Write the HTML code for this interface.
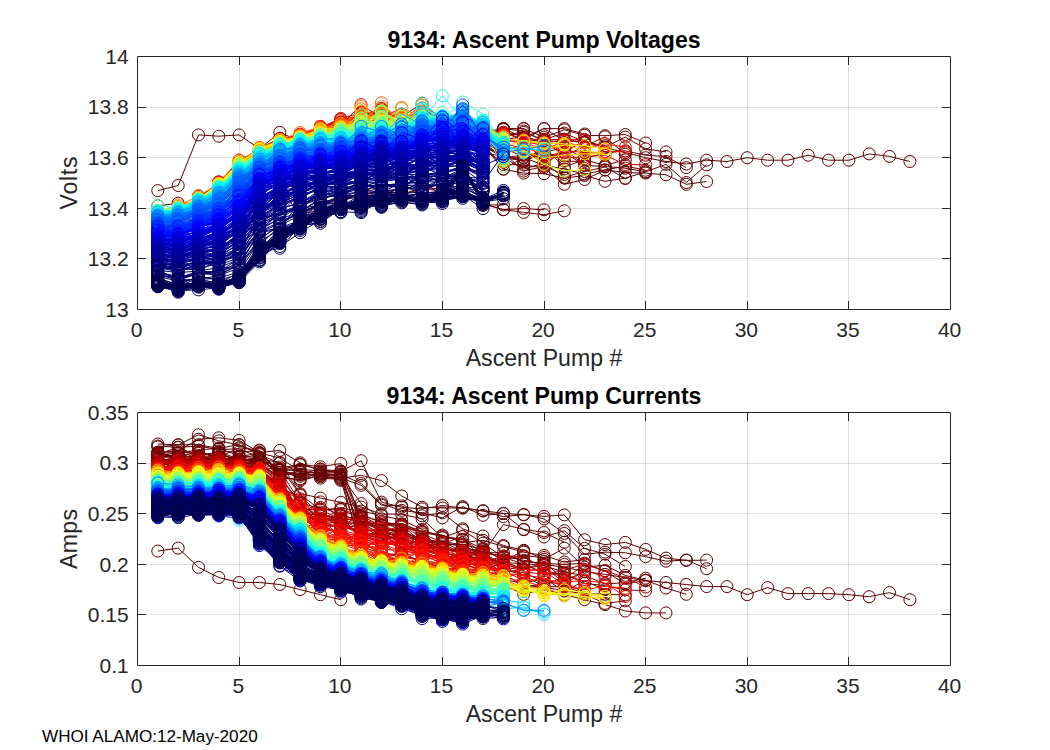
<!DOCTYPE html>
<html><head><meta charset="utf-8"><title>9134 Ascent Pump</title>
<style>
html,body{margin:0;padding:0;background:#fff}
svg{display:block}
text{font-family:"Liberation Sans",sans-serif}
.tk{font-size:21px;fill:#262626}
.lb{font-size:23.1px;fill:#262626}
.tt{font-size:23.1px;font-weight:bold;fill:#000}
.g{stroke:#262626;stroke-opacity:.15;stroke-width:1;fill:none}
.ax{stroke:#262626;stroke-width:1;fill:none}
polyline{fill:none;stroke-width:1;stroke-linejoin:round}
.c0{stroke:#570000;marker-start:url(#m0);marker-mid:url(#m0);marker-end:url(#m0)}
.c1{stroke:#680000;marker-start:url(#m1);marker-mid:url(#m1);marker-end:url(#m1)}
.c2{stroke:#7a0000;marker-start:url(#m2);marker-mid:url(#m2);marker-end:url(#m2)}
.c3{stroke:#8b0000;marker-start:url(#m3);marker-mid:url(#m3);marker-end:url(#m3)}
.c4{stroke:#9d0000;marker-start:url(#m4);marker-mid:url(#m4);marker-end:url(#m4)}
.c5{stroke:#af0000;marker-start:url(#m5);marker-mid:url(#m5);marker-end:url(#m5)}
.c6{stroke:#c00000;marker-start:url(#m6);marker-mid:url(#m6);marker-end:url(#m6)}
.c7{stroke:#d20000;marker-start:url(#m7);marker-mid:url(#m7);marker-end:url(#m7)}
.c8{stroke:#e30000;marker-start:url(#m8);marker-mid:url(#m8);marker-end:url(#m8)}
.c9{stroke:#f50000;marker-start:url(#m9);marker-mid:url(#m9);marker-end:url(#m9)}
.c10{stroke:#ff0700;marker-start:url(#m10);marker-mid:url(#m10);marker-end:url(#m10)}
.c11{stroke:#ff1900;marker-start:url(#m11);marker-mid:url(#m11);marker-end:url(#m11)}
.c12{stroke:#ff2b00;marker-start:url(#m12);marker-mid:url(#m12);marker-end:url(#m12)}
.c13{stroke:#ff3c00;marker-start:url(#m13);marker-mid:url(#m13);marker-end:url(#m13)}
.c14{stroke:#ff4e00;marker-start:url(#m14);marker-mid:url(#m14);marker-end:url(#m14)}
.c15{stroke:#ff5f00;marker-start:url(#m15);marker-mid:url(#m15);marker-end:url(#m15)}
.c16{stroke:#ff7100;marker-start:url(#m16);marker-mid:url(#m16);marker-end:url(#m16)}
.c17{stroke:#ff8200;marker-start:url(#m17);marker-mid:url(#m17);marker-end:url(#m17)}
.c18{stroke:#ff9400;marker-start:url(#m18);marker-mid:url(#m18);marker-end:url(#m18)}
.c19{stroke:#ffa500;marker-start:url(#m19);marker-mid:url(#m19);marker-end:url(#m19)}
.c20{stroke:#ffb700;marker-start:url(#m20);marker-mid:url(#m20);marker-end:url(#m20)}
.c21{stroke:#ffc900;marker-start:url(#m21);marker-mid:url(#m21);marker-end:url(#m21)}
.c22{stroke:#ffda00;marker-start:url(#m22);marker-mid:url(#m22);marker-end:url(#m22)}
.c23{stroke:#ffec00;marker-start:url(#m23);marker-mid:url(#m23);marker-end:url(#m23)}
.c24{stroke:#fffd00;marker-start:url(#m24);marker-mid:url(#m24);marker-end:url(#m24)}
.c25{stroke:#efff10;marker-start:url(#m25);marker-mid:url(#m25);marker-end:url(#m25)}
.c26{stroke:#deff21;marker-start:url(#m26);marker-mid:url(#m26);marker-end:url(#m26)}
.c27{stroke:#ccff33;marker-start:url(#m27);marker-mid:url(#m27);marker-end:url(#m27)}
.c28{stroke:#baff45;marker-start:url(#m28);marker-mid:url(#m28);marker-end:url(#m28)}
.c29{stroke:#a9ff56;marker-start:url(#m29);marker-mid:url(#m29);marker-end:url(#m29)}
.c30{stroke:#97ff68;marker-start:url(#m30);marker-mid:url(#m30);marker-end:url(#m30)}
.c31{stroke:#86ff79;marker-start:url(#m31);marker-mid:url(#m31);marker-end:url(#m31)}
.c32{stroke:#74ff8b;marker-start:url(#m32);marker-mid:url(#m32);marker-end:url(#m32)}
.c33{stroke:#63ff9c;marker-start:url(#m33);marker-mid:url(#m33);marker-end:url(#m33)}
.c34{stroke:#51ffae;marker-start:url(#m34);marker-mid:url(#m34);marker-end:url(#m34)}
.c35{stroke:#3fffc0;marker-start:url(#m35);marker-mid:url(#m35);marker-end:url(#m35)}
.c36{stroke:#2effd1;marker-start:url(#m36);marker-mid:url(#m36);marker-end:url(#m36)}
.c37{stroke:#1cffe3;marker-start:url(#m37);marker-mid:url(#m37);marker-end:url(#m37)}
.c38{stroke:#0bfff4;marker-start:url(#m38);marker-mid:url(#m38);marker-end:url(#m38)}
.c39{stroke:#00f8ff;marker-start:url(#m39);marker-mid:url(#m39);marker-end:url(#m39)}
.c40{stroke:#00e7ff;marker-start:url(#m40);marker-mid:url(#m40);marker-end:url(#m40)}
.c41{stroke:#00d5ff;marker-start:url(#m41);marker-mid:url(#m41);marker-end:url(#m41)}
.c42{stroke:#00c4ff;marker-start:url(#m42);marker-mid:url(#m42);marker-end:url(#m42)}
.c43{stroke:#00b2ff;marker-start:url(#m43);marker-mid:url(#m43);marker-end:url(#m43)}
.c44{stroke:#00a0ff;marker-start:url(#m44);marker-mid:url(#m44);marker-end:url(#m44)}
.c45{stroke:#008fff;marker-start:url(#m45);marker-mid:url(#m45);marker-end:url(#m45)}
.c46{stroke:#007dff;marker-start:url(#m46);marker-mid:url(#m46);marker-end:url(#m46)}
.c47{stroke:#006cff;marker-start:url(#m47);marker-mid:url(#m47);marker-end:url(#m47)}
.c48{stroke:#005aff;marker-start:url(#m48);marker-mid:url(#m48);marker-end:url(#m48)}
.c49{stroke:#0049ff;marker-start:url(#m49);marker-mid:url(#m49);marker-end:url(#m49)}
.c50{stroke:#0037ff;marker-start:url(#m50);marker-mid:url(#m50);marker-end:url(#m50)}
.c51{stroke:#0025ff;marker-start:url(#m51);marker-mid:url(#m51);marker-end:url(#m51)}
.c52{stroke:#0014ff;marker-start:url(#m52);marker-mid:url(#m52);marker-end:url(#m52)}
.c53{stroke:#0002ff;marker-start:url(#m53);marker-mid:url(#m53);marker-end:url(#m53)}
.c54{stroke:#0000f0;marker-start:url(#m54);marker-mid:url(#m54);marker-end:url(#m54)}
.c55{stroke:#0000de;marker-start:url(#m55);marker-mid:url(#m55);marker-end:url(#m55)}
.c56{stroke:#0000cd;marker-start:url(#m56);marker-mid:url(#m56);marker-end:url(#m56)}
.c57{stroke:#0000bb;marker-start:url(#m57);marker-mid:url(#m57);marker-end:url(#m57)}
.c58{stroke:#0000a9;marker-start:url(#m58);marker-mid:url(#m58);marker-end:url(#m58)}
.c59{stroke:#000098;marker-start:url(#m59);marker-mid:url(#m59);marker-end:url(#m59)}
.c60{stroke:#000086;marker-start:url(#m60);marker-mid:url(#m60);marker-end:url(#m60)}
.c61{stroke:#000075;marker-start:url(#m61);marker-mid:url(#m61);marker-end:url(#m61)}
.c62{stroke:#000063;marker-start:url(#m62);marker-mid:url(#m62);marker-end:url(#m62)}
.c63{stroke:#000052;marker-start:url(#m63);marker-mid:url(#m63);marker-end:url(#m63)}
</style></head><body>
<svg width="1050" height="750" viewBox="0 0 1050 750">
<defs>
<marker id="m0" markerUnits="userSpaceOnUse" markerWidth="16" markerHeight="16" refX="8" refY="8" overflow="visible"><circle cx="8" cy="8" r="6" fill="none" stroke="#570000" stroke-width="1"/></marker>
<marker id="m1" markerUnits="userSpaceOnUse" markerWidth="16" markerHeight="16" refX="8" refY="8" overflow="visible"><circle cx="8" cy="8" r="6" fill="none" stroke="#680000" stroke-width="1"/></marker>
<marker id="m2" markerUnits="userSpaceOnUse" markerWidth="16" markerHeight="16" refX="8" refY="8" overflow="visible"><circle cx="8" cy="8" r="6" fill="none" stroke="#7a0000" stroke-width="1"/></marker>
<marker id="m3" markerUnits="userSpaceOnUse" markerWidth="16" markerHeight="16" refX="8" refY="8" overflow="visible"><circle cx="8" cy="8" r="6" fill="none" stroke="#8b0000" stroke-width="1"/></marker>
<marker id="m4" markerUnits="userSpaceOnUse" markerWidth="16" markerHeight="16" refX="8" refY="8" overflow="visible"><circle cx="8" cy="8" r="6" fill="none" stroke="#9d0000" stroke-width="1"/></marker>
<marker id="m5" markerUnits="userSpaceOnUse" markerWidth="16" markerHeight="16" refX="8" refY="8" overflow="visible"><circle cx="8" cy="8" r="6" fill="none" stroke="#af0000" stroke-width="1"/></marker>
<marker id="m6" markerUnits="userSpaceOnUse" markerWidth="16" markerHeight="16" refX="8" refY="8" overflow="visible"><circle cx="8" cy="8" r="6" fill="none" stroke="#c00000" stroke-width="1"/></marker>
<marker id="m7" markerUnits="userSpaceOnUse" markerWidth="16" markerHeight="16" refX="8" refY="8" overflow="visible"><circle cx="8" cy="8" r="6" fill="none" stroke="#d20000" stroke-width="1"/></marker>
<marker id="m8" markerUnits="userSpaceOnUse" markerWidth="16" markerHeight="16" refX="8" refY="8" overflow="visible"><circle cx="8" cy="8" r="6" fill="none" stroke="#e30000" stroke-width="1"/></marker>
<marker id="m9" markerUnits="userSpaceOnUse" markerWidth="16" markerHeight="16" refX="8" refY="8" overflow="visible"><circle cx="8" cy="8" r="6" fill="none" stroke="#f50000" stroke-width="1"/></marker>
<marker id="m10" markerUnits="userSpaceOnUse" markerWidth="16" markerHeight="16" refX="8" refY="8" overflow="visible"><circle cx="8" cy="8" r="6" fill="none" stroke="#ff0700" stroke-width="1"/></marker>
<marker id="m11" markerUnits="userSpaceOnUse" markerWidth="16" markerHeight="16" refX="8" refY="8" overflow="visible"><circle cx="8" cy="8" r="6" fill="none" stroke="#ff1900" stroke-width="1"/></marker>
<marker id="m12" markerUnits="userSpaceOnUse" markerWidth="16" markerHeight="16" refX="8" refY="8" overflow="visible"><circle cx="8" cy="8" r="6" fill="none" stroke="#ff2b00" stroke-width="1"/></marker>
<marker id="m13" markerUnits="userSpaceOnUse" markerWidth="16" markerHeight="16" refX="8" refY="8" overflow="visible"><circle cx="8" cy="8" r="6" fill="none" stroke="#ff3c00" stroke-width="1"/></marker>
<marker id="m14" markerUnits="userSpaceOnUse" markerWidth="16" markerHeight="16" refX="8" refY="8" overflow="visible"><circle cx="8" cy="8" r="6" fill="none" stroke="#ff4e00" stroke-width="1"/></marker>
<marker id="m15" markerUnits="userSpaceOnUse" markerWidth="16" markerHeight="16" refX="8" refY="8" overflow="visible"><circle cx="8" cy="8" r="6" fill="none" stroke="#ff5f00" stroke-width="1"/></marker>
<marker id="m16" markerUnits="userSpaceOnUse" markerWidth="16" markerHeight="16" refX="8" refY="8" overflow="visible"><circle cx="8" cy="8" r="6" fill="none" stroke="#ff7100" stroke-width="1"/></marker>
<marker id="m17" markerUnits="userSpaceOnUse" markerWidth="16" markerHeight="16" refX="8" refY="8" overflow="visible"><circle cx="8" cy="8" r="6" fill="none" stroke="#ff8200" stroke-width="1"/></marker>
<marker id="m18" markerUnits="userSpaceOnUse" markerWidth="16" markerHeight="16" refX="8" refY="8" overflow="visible"><circle cx="8" cy="8" r="6" fill="none" stroke="#ff9400" stroke-width="1"/></marker>
<marker id="m19" markerUnits="userSpaceOnUse" markerWidth="16" markerHeight="16" refX="8" refY="8" overflow="visible"><circle cx="8" cy="8" r="6" fill="none" stroke="#ffa500" stroke-width="1"/></marker>
<marker id="m20" markerUnits="userSpaceOnUse" markerWidth="16" markerHeight="16" refX="8" refY="8" overflow="visible"><circle cx="8" cy="8" r="6" fill="none" stroke="#ffb700" stroke-width="1"/></marker>
<marker id="m21" markerUnits="userSpaceOnUse" markerWidth="16" markerHeight="16" refX="8" refY="8" overflow="visible"><circle cx="8" cy="8" r="6" fill="none" stroke="#ffc900" stroke-width="1"/></marker>
<marker id="m22" markerUnits="userSpaceOnUse" markerWidth="16" markerHeight="16" refX="8" refY="8" overflow="visible"><circle cx="8" cy="8" r="6" fill="none" stroke="#ffda00" stroke-width="1"/></marker>
<marker id="m23" markerUnits="userSpaceOnUse" markerWidth="16" markerHeight="16" refX="8" refY="8" overflow="visible"><circle cx="8" cy="8" r="6" fill="none" stroke="#ffec00" stroke-width="1"/></marker>
<marker id="m24" markerUnits="userSpaceOnUse" markerWidth="16" markerHeight="16" refX="8" refY="8" overflow="visible"><circle cx="8" cy="8" r="6" fill="none" stroke="#fffd00" stroke-width="1"/></marker>
<marker id="m25" markerUnits="userSpaceOnUse" markerWidth="16" markerHeight="16" refX="8" refY="8" overflow="visible"><circle cx="8" cy="8" r="6" fill="none" stroke="#efff10" stroke-width="1"/></marker>
<marker id="m26" markerUnits="userSpaceOnUse" markerWidth="16" markerHeight="16" refX="8" refY="8" overflow="visible"><circle cx="8" cy="8" r="6" fill="none" stroke="#deff21" stroke-width="1"/></marker>
<marker id="m27" markerUnits="userSpaceOnUse" markerWidth="16" markerHeight="16" refX="8" refY="8" overflow="visible"><circle cx="8" cy="8" r="6" fill="none" stroke="#ccff33" stroke-width="1"/></marker>
<marker id="m28" markerUnits="userSpaceOnUse" markerWidth="16" markerHeight="16" refX="8" refY="8" overflow="visible"><circle cx="8" cy="8" r="6" fill="none" stroke="#baff45" stroke-width="1"/></marker>
<marker id="m29" markerUnits="userSpaceOnUse" markerWidth="16" markerHeight="16" refX="8" refY="8" overflow="visible"><circle cx="8" cy="8" r="6" fill="none" stroke="#a9ff56" stroke-width="1"/></marker>
<marker id="m30" markerUnits="userSpaceOnUse" markerWidth="16" markerHeight="16" refX="8" refY="8" overflow="visible"><circle cx="8" cy="8" r="6" fill="none" stroke="#97ff68" stroke-width="1"/></marker>
<marker id="m31" markerUnits="userSpaceOnUse" markerWidth="16" markerHeight="16" refX="8" refY="8" overflow="visible"><circle cx="8" cy="8" r="6" fill="none" stroke="#86ff79" stroke-width="1"/></marker>
<marker id="m32" markerUnits="userSpaceOnUse" markerWidth="16" markerHeight="16" refX="8" refY="8" overflow="visible"><circle cx="8" cy="8" r="6" fill="none" stroke="#74ff8b" stroke-width="1"/></marker>
<marker id="m33" markerUnits="userSpaceOnUse" markerWidth="16" markerHeight="16" refX="8" refY="8" overflow="visible"><circle cx="8" cy="8" r="6" fill="none" stroke="#63ff9c" stroke-width="1"/></marker>
<marker id="m34" markerUnits="userSpaceOnUse" markerWidth="16" markerHeight="16" refX="8" refY="8" overflow="visible"><circle cx="8" cy="8" r="6" fill="none" stroke="#51ffae" stroke-width="1"/></marker>
<marker id="m35" markerUnits="userSpaceOnUse" markerWidth="16" markerHeight="16" refX="8" refY="8" overflow="visible"><circle cx="8" cy="8" r="6" fill="none" stroke="#3fffc0" stroke-width="1"/></marker>
<marker id="m36" markerUnits="userSpaceOnUse" markerWidth="16" markerHeight="16" refX="8" refY="8" overflow="visible"><circle cx="8" cy="8" r="6" fill="none" stroke="#2effd1" stroke-width="1"/></marker>
<marker id="m37" markerUnits="userSpaceOnUse" markerWidth="16" markerHeight="16" refX="8" refY="8" overflow="visible"><circle cx="8" cy="8" r="6" fill="none" stroke="#1cffe3" stroke-width="1"/></marker>
<marker id="m38" markerUnits="userSpaceOnUse" markerWidth="16" markerHeight="16" refX="8" refY="8" overflow="visible"><circle cx="8" cy="8" r="6" fill="none" stroke="#0bfff4" stroke-width="1"/></marker>
<marker id="m39" markerUnits="userSpaceOnUse" markerWidth="16" markerHeight="16" refX="8" refY="8" overflow="visible"><circle cx="8" cy="8" r="6" fill="none" stroke="#00f8ff" stroke-width="1"/></marker>
<marker id="m40" markerUnits="userSpaceOnUse" markerWidth="16" markerHeight="16" refX="8" refY="8" overflow="visible"><circle cx="8" cy="8" r="6" fill="none" stroke="#00e7ff" stroke-width="1"/></marker>
<marker id="m41" markerUnits="userSpaceOnUse" markerWidth="16" markerHeight="16" refX="8" refY="8" overflow="visible"><circle cx="8" cy="8" r="6" fill="none" stroke="#00d5ff" stroke-width="1"/></marker>
<marker id="m42" markerUnits="userSpaceOnUse" markerWidth="16" markerHeight="16" refX="8" refY="8" overflow="visible"><circle cx="8" cy="8" r="6" fill="none" stroke="#00c4ff" stroke-width="1"/></marker>
<marker id="m43" markerUnits="userSpaceOnUse" markerWidth="16" markerHeight="16" refX="8" refY="8" overflow="visible"><circle cx="8" cy="8" r="6" fill="none" stroke="#00b2ff" stroke-width="1"/></marker>
<marker id="m44" markerUnits="userSpaceOnUse" markerWidth="16" markerHeight="16" refX="8" refY="8" overflow="visible"><circle cx="8" cy="8" r="6" fill="none" stroke="#00a0ff" stroke-width="1"/></marker>
<marker id="m45" markerUnits="userSpaceOnUse" markerWidth="16" markerHeight="16" refX="8" refY="8" overflow="visible"><circle cx="8" cy="8" r="6" fill="none" stroke="#008fff" stroke-width="1"/></marker>
<marker id="m46" markerUnits="userSpaceOnUse" markerWidth="16" markerHeight="16" refX="8" refY="8" overflow="visible"><circle cx="8" cy="8" r="6" fill="none" stroke="#007dff" stroke-width="1"/></marker>
<marker id="m47" markerUnits="userSpaceOnUse" markerWidth="16" markerHeight="16" refX="8" refY="8" overflow="visible"><circle cx="8" cy="8" r="6" fill="none" stroke="#006cff" stroke-width="1"/></marker>
<marker id="m48" markerUnits="userSpaceOnUse" markerWidth="16" markerHeight="16" refX="8" refY="8" overflow="visible"><circle cx="8" cy="8" r="6" fill="none" stroke="#005aff" stroke-width="1"/></marker>
<marker id="m49" markerUnits="userSpaceOnUse" markerWidth="16" markerHeight="16" refX="8" refY="8" overflow="visible"><circle cx="8" cy="8" r="6" fill="none" stroke="#0049ff" stroke-width="1"/></marker>
<marker id="m50" markerUnits="userSpaceOnUse" markerWidth="16" markerHeight="16" refX="8" refY="8" overflow="visible"><circle cx="8" cy="8" r="6" fill="none" stroke="#0037ff" stroke-width="1"/></marker>
<marker id="m51" markerUnits="userSpaceOnUse" markerWidth="16" markerHeight="16" refX="8" refY="8" overflow="visible"><circle cx="8" cy="8" r="6" fill="none" stroke="#0025ff" stroke-width="1"/></marker>
<marker id="m52" markerUnits="userSpaceOnUse" markerWidth="16" markerHeight="16" refX="8" refY="8" overflow="visible"><circle cx="8" cy="8" r="6" fill="none" stroke="#0014ff" stroke-width="1"/></marker>
<marker id="m53" markerUnits="userSpaceOnUse" markerWidth="16" markerHeight="16" refX="8" refY="8" overflow="visible"><circle cx="8" cy="8" r="6" fill="none" stroke="#0002ff" stroke-width="1"/></marker>
<marker id="m54" markerUnits="userSpaceOnUse" markerWidth="16" markerHeight="16" refX="8" refY="8" overflow="visible"><circle cx="8" cy="8" r="6" fill="none" stroke="#0000f0" stroke-width="1"/></marker>
<marker id="m55" markerUnits="userSpaceOnUse" markerWidth="16" markerHeight="16" refX="8" refY="8" overflow="visible"><circle cx="8" cy="8" r="6" fill="none" stroke="#0000de" stroke-width="1"/></marker>
<marker id="m56" markerUnits="userSpaceOnUse" markerWidth="16" markerHeight="16" refX="8" refY="8" overflow="visible"><circle cx="8" cy="8" r="6" fill="none" stroke="#0000cd" stroke-width="1"/></marker>
<marker id="m57" markerUnits="userSpaceOnUse" markerWidth="16" markerHeight="16" refX="8" refY="8" overflow="visible"><circle cx="8" cy="8" r="6" fill="none" stroke="#0000bb" stroke-width="1"/></marker>
<marker id="m58" markerUnits="userSpaceOnUse" markerWidth="16" markerHeight="16" refX="8" refY="8" overflow="visible"><circle cx="8" cy="8" r="6" fill="none" stroke="#0000a9" stroke-width="1"/></marker>
<marker id="m59" markerUnits="userSpaceOnUse" markerWidth="16" markerHeight="16" refX="8" refY="8" overflow="visible"><circle cx="8" cy="8" r="6" fill="none" stroke="#000098" stroke-width="1"/></marker>
<marker id="m60" markerUnits="userSpaceOnUse" markerWidth="16" markerHeight="16" refX="8" refY="8" overflow="visible"><circle cx="8" cy="8" r="6" fill="none" stroke="#000086" stroke-width="1"/></marker>
<marker id="m61" markerUnits="userSpaceOnUse" markerWidth="16" markerHeight="16" refX="8" refY="8" overflow="visible"><circle cx="8" cy="8" r="6" fill="none" stroke="#000075" stroke-width="1"/></marker>
<marker id="m62" markerUnits="userSpaceOnUse" markerWidth="16" markerHeight="16" refX="8" refY="8" overflow="visible"><circle cx="8" cy="8" r="6" fill="none" stroke="#000063" stroke-width="1"/></marker>
<marker id="m63" markerUnits="userSpaceOnUse" markerWidth="16" markerHeight="16" refX="8" refY="8" overflow="visible"><circle cx="8" cy="8" r="6" fill="none" stroke="#000052" stroke-width="1"/></marker>
<clipPath id="cp1"><rect x="130.5" y="49.5" width="827" height="267"/></clipPath>
<clipPath id="cp2"><rect x="130.5" y="405.5" width="827" height="267"/></clipPath>
</defs>
<rect x="0" y="0" width="1050" height="750" fill="#fff"/>
<path class="g" d="M239.50 56.50V309.50M340.50 56.50V309.50M442.50 56.50V309.50M544.50 56.50V309.50M645.50 56.50V309.50M747.50 56.50V309.50M848.50 56.50V309.50"/>
<path class="g" d="M137.50 258.50H950.50M137.50 208.50H950.50M137.50 157.50H950.50M137.50 107.50H950.50"/>
<path class="g" d="M239.50 412.50V665.50M340.50 412.50V665.50M442.50 412.50V665.50M544.50 412.50V665.50M645.50 412.50V665.50M747.50 412.50V665.50M848.50 412.50V665.50"/>
<path class="g" d="M137.50 614.50H950.50M137.50 564.50H950.50M137.50 513.50H950.50M137.50 463.50H950.50"/>
<g clip-path="url(#cp1)">
<polyline class="c0" points="157.8,190.6 178.2,185.5 198.5,134.9 218.8,136.2 239.1,134.9 259.4,148.8 279.8,132.4 300.1,141.3 320.4,134.9 340.8,132.4 361.1,127.3 381.4,129.9 401.7,132.4 422.1,127.3 442.4,132.4 462.7,134.9 483.0,142.5 503.4,134.9 523.7,132.4 544.0,140.0 564.3,142.5 584.6,140.0 605.0,147.6 625.3,152.6 645.6,157.7 666.0,161.5 686.3,164.0 706.6,160.2 726.9,161.5 747.2,157.7 767.6,160.2 787.9,160.2 808.2,155.2 828.5,160.2 848.9,160.2 869.2,153.9 889.5,156.4 909.9,161.5"/>
<polyline class="c0" points="157.8,205.8 178.2,203.2 198.5,205.8 218.8,200.7 239.1,190.6 259.4,177.9 279.8,183.0 300.1,218.4 320.4,221.0 340.8,208.3"/>
<polyline class="c0" points="157.8,237.2 178.2,226.4 198.5,215.9 218.8,200.5 239.1,176.1 259.4,163.5 279.8,154.3 300.1,149.9 320.4,141.7 340.8,135.9 361.1,136.3 381.4,130.8 401.7,131.4 422.1,133.2 442.4,149.8 462.7,143.9 483.0,144.1 503.4,147.3 523.7,157.4 544.0,156.1 564.3,152.5 584.6,165.4 605.0,166.5 625.3,168.2 645.6,171.8 666.0,164.3 686.3,182.5 706.6,164.9"/>
<polyline class="c0" points="157.8,237.9 178.2,231.2 198.5,215.9 218.8,199.1 239.1,179.7 259.4,171.5 279.8,156.1 300.1,157.6 320.4,145.5 340.8,139.4 361.1,130.4 381.4,134.0 401.7,133.1 422.1,139.3 442.4,137.1 462.7,141.8 483.0,143.5 503.4,168.9 523.7,157.6 544.0,165.3 564.3,169.0 584.6,174.2 605.0,169.8 625.3,172.6 645.6,173.1 666.0,174.8 686.3,184.3 706.6,181.5"/>
<polyline class="c0" points="157.8,229.1 178.2,224.6 198.5,218.3 218.8,197.3 239.1,176.8 259.4,164.9 279.8,158.2 300.1,147.9 320.4,142.1 340.8,135.4 361.1,132.8 381.4,132.4 401.7,132.1 422.1,135.2 442.4,138.0 462.7,136.1 483.0,143.4 503.4,157.7 523.7,160.8 544.0,147.3 564.3,166.7 584.6,159.9 605.0,165.4 625.3,159.8"/>
<polyline class="c0" points="157.8,235.5 178.2,228.0 198.5,218.6 218.8,201.9 239.1,181.5 259.4,172.7 279.8,161.2 300.1,152.7 320.4,144.9 340.8,143.7 361.1,134.0 381.4,130.0 401.7,135.1 422.1,136.3 442.4,140.1 462.7,138.0 483.0,145.6 503.4,169.2 523.7,173.1 544.0,173.7 564.3,178.1 584.6,175.5 605.0,181.3 625.3,178.1 645.6,171.9"/>
<polyline class="c1" points="157.8,230.8 178.2,229.8 198.5,216.1 218.8,196.0 239.1,180.7 259.4,164.1 279.8,156.6 300.1,153.3 320.4,144.3 340.8,137.5 361.1,140.7 381.4,133.6 401.7,131.3 422.1,132.6 442.4,136.2 462.7,140.8 483.0,142.3 503.4,152.8 523.7,171.1 544.0,166.4 564.3,174.5"/>
<polyline class="c1" points="157.8,224.4 178.2,218.7 198.5,211.0 218.8,194.0 239.1,171.2 259.4,159.8 279.8,153.3 300.1,151.5 320.4,143.8 340.8,134.8 361.1,122.1 381.4,124.6 401.7,126.0 422.1,125.7 442.4,126.8 462.7,128.5 483.0,136.5 503.4,129.6 523.7,141.7 544.0,139.5 564.3,133.1 584.6,142.0 605.0,147.2 625.3,137.1 645.6,148.9 666.0,151.9"/>
<polyline class="c1" points="157.8,222.6 178.2,221.4 198.5,207.7 218.8,191.7 239.1,173.0 259.4,152.3 279.8,146.1 300.1,213.1 320.4,211.3 340.8,201.7 361.1,192.6 381.4,187.9 401.7,194.8 422.1,188.9 442.4,190.9 462.7,193.4 483.0,204.9 503.4,205.0"/>
<polyline class="c1" points="157.8,230.0 178.2,222.1 198.5,213.5 218.8,194.9 239.1,172.9 259.4,162.1 279.8,152.9 300.1,148.6 320.4,144.6 340.8,131.1 361.1,128.6 381.4,125.8 401.7,135.2 422.1,125.9 442.4,130.9 462.7,130.0 483.0,143.6 503.4,128.8 523.7,131.0 544.0,141.1 564.3,155.9 584.6,146.4 605.0,136.8 625.3,154.3"/>
<polyline class="c1" points="157.8,229.5 178.2,229.6 198.5,215.9 218.8,194.7 239.1,186.2 259.4,165.3 279.8,152.9 300.1,150.1 320.4,147.0 340.8,140.2 361.1,126.8 381.4,126.6 401.7,132.0 422.1,129.5 442.4,132.9 462.7,136.7 483.0,142.3 503.4,157.7 523.7,157.9 544.0,151.2 564.3,161.2 584.6,161.4"/>
<polyline class="c1" points="157.8,219.8 178.2,222.9 198.5,211.0 218.8,193.3 239.1,169.3 259.4,160.3 279.8,144.5 300.1,214.4 320.4,205.7 340.8,198.7 361.1,195.0 381.4,190.4 401.7,197.0 422.1,193.1 442.4,192.1 462.7,189.3 483.0,203.4 503.4,209.7 523.7,208.6 544.0,209.8"/>
<polyline class="c1" points="157.8,225.9 178.2,228.9 198.5,217.6 218.8,195.1 239.1,176.6 259.4,160.1 279.8,151.0 300.1,145.4 320.4,139.4 340.8,132.7 361.1,137.8 381.4,123.7 401.7,127.8 422.1,129.3 442.4,133.5 462.7,136.1 483.0,147.2 503.4,154.1 523.7,161.6 544.0,152.4 564.3,147.5 584.6,158.3 605.0,153.1 625.3,150.9 645.6,155.2 666.0,156.5 686.3,167.6"/>
<polyline class="c1" points="157.8,228.9 178.2,224.1 198.5,214.4 218.8,192.7 239.1,179.0 259.4,170.4 279.8,155.6 300.1,147.8 320.4,138.4 340.8,132.9 361.1,126.7 381.4,133.9 401.7,127.0 422.1,129.2 442.4,132.8 462.7,133.7 483.0,138.2 503.4,139.2 523.7,137.1 544.0,163.8 564.3,150.2 584.6,142.2"/>
<polyline class="c1" points="157.8,242.9 178.2,233.5 198.5,223.0 218.8,201.5 239.1,181.3 259.4,174.7 279.8,160.5 300.1,155.9 320.4,144.6 340.8,145.9 361.1,135.8 381.4,133.2 401.7,135.5 422.1,132.9 442.4,138.0 462.7,142.6 483.0,146.5 503.4,164.5 523.7,164.9 544.0,167.8 564.3,184.3 584.6,179.5 605.0,170.1 625.3,166.0 645.6,170.2"/>
<polyline class="c1" points="157.8,233.1 178.2,231.9 198.5,221.6 218.8,207.2 239.1,183.9 259.4,171.0 279.8,157.4 300.1,159.8 320.4,144.3 340.8,139.5 361.1,131.5 381.4,138.0 401.7,135.0 422.1,134.6 442.4,136.2 462.7,137.5 483.0,145.9 503.4,157.5 523.7,169.1 544.0,163.2 564.3,177.3 584.6,171.6 605.0,167.0 625.3,178.5"/>
<polyline class="c1" points="157.8,225.3 178.2,226.1 198.5,209.2 218.8,194.3 239.1,173.4 259.4,158.9 279.8,157.0 300.1,148.8 320.4,136.2 340.8,132.0 361.1,123.0 381.4,122.5 401.7,124.7 422.1,124.3 442.4,128.3 462.7,131.8 483.0,135.6 503.4,132.2 523.7,140.0 544.0,128.6 564.3,140.5 584.6,142.0 605.0,145.7"/>
<polyline class="c1" points="157.8,224.3 178.2,222.3 198.5,209.3 218.8,187.2 239.1,165.0 259.4,158.1 279.8,144.3 300.1,211.6 320.4,204.8 340.8,198.2 361.1,196.1 381.4,190.9 401.7,194.4 422.1,187.6 442.4,189.1 462.7,195.0 483.0,204.0 503.4,209.6 523.7,212.4 544.0,214.7 564.3,210.8"/>
<polyline class="c1" points="157.8,219.0 178.2,219.9 198.5,209.9 218.8,186.4 239.1,171.6 259.4,154.1 279.8,149.4 300.1,143.1 320.4,131.9 340.8,125.2 361.1,121.2 381.4,118.2 401.7,122.3 422.1,125.4 442.4,128.8 462.7,128.1 483.0,132.3 503.4,128.6 523.7,137.5 544.0,128.6 564.3,128.6 584.6,134.0"/>
<polyline class="c1" points="157.8,233.9 178.2,229.6 198.5,215.1 218.8,205.1 239.1,180.8 259.4,170.6 279.8,161.0 300.1,150.7 320.4,143.7 340.8,137.8 361.1,141.3 381.4,130.2 401.7,133.2 422.1,135.5 442.4,135.2 462.7,136.8 483.0,152.5 503.4,156.4 523.7,160.4"/>
<polyline class="c1" points="157.8,226.0 178.2,218.9 198.5,208.7 218.8,194.5 239.1,170.6 259.4,159.7 279.8,148.1 300.1,145.3 320.4,143.6 340.8,135.0 361.1,123.7 381.4,133.2 401.7,127.4 422.1,127.4 442.4,126.0 462.7,130.7 483.0,134.7 503.4,128.6 523.7,128.6"/>
<polyline class="c1" points="157.8,223.4 178.2,216.3 198.5,207.3 218.8,188.4 239.1,178.9 259.4,160.2 279.8,148.1 300.1,140.3 320.4,135.5 340.8,133.1 361.1,119.7 381.4,121.8 401.7,123.6 422.1,122.1 442.4,125.4 462.7,125.6 483.0,134.9 503.4,128.6 523.7,128.6 544.0,137.3 564.3,129.8 584.6,135.3 605.0,135.7 625.3,134.5 645.6,143.0"/>
<polyline class="c3" points="157.8,222.8 178.2,215.1 198.5,200.7 218.8,184.7 239.1,165.8 259.4,152.4 279.8,139.9 300.1,138.1 320.4,132.8 340.8,125.9 361.1,114.3 381.4,116.1 401.7,116.8 422.1,103.3 442.4,121.0 462.7,123.8 483.0,130.8 503.4,133.2 523.7,135.7 544.0,143.3 564.3,139.5 584.6,143.1"/>
<polyline class="c3" points="157.8,216.4 178.2,215.7 198.5,201.3 218.8,185.2 239.1,164.4 259.4,149.2 279.8,138.3 300.1,139.8 320.4,131.3 340.8,122.6 361.1,114.4 381.4,112.8 401.7,121.5 422.1,108.0 442.4,121.3 462.7,120.9 483.0,131.8"/>
<polyline class="c3" points="157.8,219.5 178.2,216.4 198.5,205.4 218.8,184.6 239.1,167.7 259.4,151.4 279.8,146.6 300.1,136.4 320.4,131.5 340.8,126.4 361.1,121.6 381.4,119.6 401.7,121.3 422.1,118.6 442.4,121.1 462.7,125.6 483.0,133.5 503.4,147.3"/>
<polyline class="c3" points="157.8,218.6 178.2,208.6 198.5,198.2 218.8,183.4 239.1,160.1 259.4,153.5 279.8,140.9 300.1,136.7 320.4,126.4 340.8,122.7 361.1,114.3 381.4,113.7 401.7,118.6 422.1,117.1 442.4,118.9 462.7,123.2 483.0,132.7"/>
<polyline class="c4" points="157.8,217.6 178.2,211.9 198.5,196.2 218.8,185.3 239.1,163.6 259.4,153.5 279.8,143.8 300.1,139.1 320.4,129.6 340.8,122.6 361.1,115.1 381.4,114.7 401.7,118.5 422.1,117.5 442.4,119.1 462.7,122.0 483.0,128.9 503.4,138.3"/>
<polyline class="c4" points="157.8,216.1 178.2,215.5 198.5,202.4 218.8,186.8 239.1,166.9 259.4,150.8 279.8,146.4 300.1,135.8 320.4,133.6 340.8,125.4 361.1,120.0 381.4,117.7 401.7,120.8 422.1,118.9 442.4,122.7 462.7,126.4 483.0,133.5 503.4,142.0 523.7,140.3 544.0,146.3"/>
<polyline class="c4" points="157.8,220.1 178.2,212.4 198.5,203.9 218.8,185.5 239.1,163.0 259.4,155.9 279.8,142.8 300.1,141.2 320.4,129.3 340.8,127.2 361.1,118.2 381.4,116.8 401.7,120.1 422.1,119.5 442.4,123.6 462.7,119.2 483.0,131.7 503.4,144.0"/>
<polyline class="c4" points="157.8,219.8 178.2,217.2 198.5,206.2 218.8,187.6 239.1,170.6 259.4,154.8 279.8,147.2 300.1,142.3 320.4,134.6 340.8,128.1 361.1,121.3 381.4,109.7 401.7,125.4 422.1,122.7 442.4,123.5 462.7,127.9 483.0,133.4"/>
<polyline class="c5" points="157.8,217.5 178.2,210.5 198.5,202.4 218.8,186.7 239.1,168.6 259.4,152.3 279.8,143.8 300.1,138.1 320.4,130.7 340.8,123.3 361.1,118.2 381.4,108.4 401.7,119.0 422.1,120.8 442.4,123.9 462.7,122.0 483.0,133.8 503.4,145.7"/>
<polyline class="c5" points="157.8,214.7 178.2,213.1 198.5,199.3 218.8,181.8 239.1,162.0 259.4,148.5 279.8,138.2 300.1,135.3 320.4,127.5 340.8,118.5 361.1,112.8 381.4,111.9 401.7,115.6 422.1,117.4 442.4,120.1 462.7,120.5 483.0,129.0"/>
<polyline class="c5" points="157.8,217.4 178.2,216.1 198.5,203.0 218.8,183.9 239.1,169.2 259.4,150.5 279.8,145.4 300.1,138.8 320.4,128.2 340.8,125.9 361.1,115.9 381.4,116.6 401.7,117.3 422.1,118.5 442.4,120.7 462.7,121.2 483.0,128.5 503.4,157.4 523.7,155.4 544.0,153.5 564.3,158.1 584.6,156.6 605.0,155.2 625.3,164.6 645.6,164.7"/>
<polyline class="c5" points="157.8,217.8 178.2,214.3 198.5,199.7 218.8,186.5 239.1,164.3 259.4,152.2 279.8,140.7 300.1,138.0 320.4,131.2 340.8,124.5 361.1,115.9 381.4,117.6 401.7,119.1 422.1,118.2 442.4,120.5 462.7,125.2 483.0,128.7 503.4,133.2"/>
<polyline class="c6" points="157.8,219.0 178.2,214.1 198.5,203.4 218.8,183.8 239.1,167.2 259.4,153.0 279.8,144.5 300.1,140.2 320.4,131.5 340.8,122.0 361.1,116.5 381.4,117.5 401.7,118.0 422.1,118.4 442.4,124.8 462.7,125.5 483.0,133.7 503.4,159.1"/>
<polyline class="c6" points="157.8,217.8 178.2,215.1 198.5,206.5 218.8,186.2 239.1,166.1 259.4,155.2 279.8,145.8 300.1,140.1 320.4,131.3 340.8,128.9 361.1,115.7 381.4,116.1 401.7,122.1 422.1,121.6 442.4,123.8 462.7,124.3 483.0,131.4 503.4,133.2 523.7,139.1 544.0,139.5 564.3,139.5 584.6,139.5"/>
<polyline class="c6" points="157.8,216.2 178.2,210.5 198.5,201.5 218.8,185.3 239.1,166.6 259.4,153.2 279.8,143.5 300.1,139.2 320.4,128.4 340.8,122.9 361.1,115.2 381.4,114.6 401.7,120.4 422.1,118.1 442.4,121.2 462.7,121.7 483.0,129.0"/>
<polyline class="c6" points="157.8,217.2 178.2,210.6 198.5,199.9 218.8,182.1 239.1,167.6 259.4,152.1 279.8,143.5 300.1,137.3 320.4,129.1 340.8,119.3 361.1,115.8 381.4,115.1 401.7,121.4 422.1,116.4 442.4,120.8 462.7,120.8 483.0,129.9 503.4,135.4"/>
<polyline class="c7" points="157.8,220.1 178.2,213.2 198.5,201.0 218.8,185.5 239.1,168.5 259.4,153.5 279.8,146.8 300.1,138.9 320.4,129.7 340.8,127.8 361.1,114.3 381.4,113.1 401.7,117.1 422.1,118.6 442.4,122.7 462.7,124.0 483.0,131.7 503.4,133.3"/>
<polyline class="c7" points="157.8,220.2 178.2,215.5 198.5,204.0 218.8,188.4 239.1,167.7 259.4,156.9 279.8,147.1 300.1,141.8 320.4,133.6 340.8,127.1 361.1,121.3 381.4,119.1 401.7,121.6 422.1,120.6 442.4,125.7 462.7,119.2 483.0,131.2 503.4,137.1"/>
<polyline class="c7" points="157.8,222.5 178.2,216.4 198.5,202.2 218.8,190.0 239.1,169.6 259.4,153.9 279.8,145.4 300.1,140.8 320.4,133.9 340.8,125.4 361.1,104.7 381.4,118.0 401.7,121.8 422.1,121.0 442.4,117.9 462.7,120.6 483.0,132.8 503.4,142.7 523.7,149.1 544.0,161.4 564.3,150.1 584.6,152.8 605.0,152.9"/>
<polyline class="c8" points="157.8,216.9 178.2,212.5 198.5,204.8 218.8,185.3 239.1,168.7 259.4,151.2 279.8,145.7 300.1,138.9 320.4,128.8 340.8,127.5 361.1,117.5 381.4,116.5 401.7,117.4 422.1,120.4 442.4,117.9 462.7,125.3 483.0,131.0 503.4,162.1"/>
<polyline class="c8" points="157.8,217.0 178.2,215.1 198.5,201.7 218.8,187.8 239.1,165.7 259.4,151.8 279.8,145.1 300.1,138.5 320.4,128.8 340.8,125.3 361.1,118.6 381.4,117.8 401.7,122.9 422.1,119.4 442.4,123.8 462.7,123.8 483.0,133.4 503.4,144.9"/>
<polyline class="c8" points="157.8,219.5 178.2,218.4 198.5,207.6 218.8,189.5 239.1,169.0 259.4,156.7 279.8,144.3 300.1,142.0 320.4,138.9 340.8,127.8 361.1,121.0 381.4,121.1 401.7,122.2 422.1,123.2 442.4,124.1 462.7,125.2 483.0,133.9"/>
<polyline class="c8" points="157.8,218.4 178.2,216.1 198.5,201.2 218.8,188.9 239.1,167.6 259.4,152.4 279.8,147.6 300.1,135.0 320.4,131.8 340.8,127.5 361.1,119.1 381.4,118.9 401.7,118.8 422.1,122.1 442.4,125.6 462.7,122.3 483.0,133.8 503.4,147.4 523.7,147.7 544.0,165.5 564.3,149.9 584.6,164.7"/>
<polyline class="c9" points="157.8,217.6 178.2,213.7 198.5,203.7 218.8,185.2 239.1,167.4 259.4,153.1 279.8,145.0 300.1,135.8 320.4,132.9 340.8,125.9 361.1,119.7 381.4,119.3 401.7,121.2 422.1,119.9 442.4,118.6 462.7,123.0 483.0,128.2 503.4,139.2 523.7,143.9 544.0,141.9 564.3,152.8 584.6,140.2 605.0,151.7 625.3,151.0"/>
<polyline class="c9" points="157.8,218.1 178.2,210.6 198.5,202.0 218.8,183.5 239.1,167.9 259.4,152.3 279.8,143.0 300.1,138.6 320.4,131.5 340.8,125.3 361.1,114.4 381.4,115.0 401.7,121.0 422.1,117.1 442.4,119.7 462.7,121.3 483.0,132.7"/>
<polyline class="c9" points="157.8,218.9 178.2,214.0 198.5,204.5 218.8,188.1 239.1,163.6 259.4,150.8 279.8,143.8 300.1,134.0 320.4,127.0 340.8,127.0 361.1,117.5 381.4,116.1 401.7,118.3 422.1,119.4 442.4,119.3 462.7,125.6 483.0,129.4 503.4,134.1"/>
<polyline class="c9" points="157.8,215.5 178.2,211.6 198.5,198.4 218.8,186.6 239.1,162.3 259.4,150.3 279.8,140.9 300.1,135.9 320.4,127.6 340.8,125.6 361.1,116.9 381.4,117.8 401.7,117.3 422.1,118.3 442.4,117.7 462.7,125.1 483.0,128.3"/>
<polyline class="c10" points="157.8,216.7 178.2,212.9 198.5,200.9 218.8,182.3 239.1,163.6 259.4,148.5 279.8,139.7 300.1,134.7 320.4,130.3 340.8,125.5 361.1,116.4 381.4,115.5 401.7,120.6 422.1,118.8 442.4,119.5 462.7,123.1 483.0,126.9 503.4,149.5 523.7,146.0 544.0,155.9"/>
<polyline class="c10" points="157.8,217.9 178.2,211.3 198.5,200.8 218.8,184.7 239.1,166.3 259.4,152.6 279.8,144.3 300.1,138.2 320.4,134.1 340.8,127.6 361.1,117.6 381.4,118.4 401.7,120.3 422.1,117.2 442.4,117.7 462.7,120.5 483.0,129.8 503.4,146.3"/>
<polyline class="c10" points="157.8,213.4 178.2,212.4 198.5,199.4 218.8,186.0 239.1,163.1 259.4,151.1 279.8,141.0 300.1,139.1 320.4,129.6 340.8,124.2 361.1,114.8 381.4,115.3 401.7,115.1 422.1,117.9 442.4,117.7 462.7,119.4 483.0,128.4"/>
<polyline class="c10" points="157.8,216.5 178.2,216.0 198.5,202.3 218.8,186.1 239.1,166.0 259.4,150.6 279.8,142.9 300.1,136.7 320.4,130.1 340.8,129.1 361.1,112.4 381.4,118.4 401.7,120.5 422.1,105.0 442.4,117.7 462.7,122.8 483.0,128.6"/>
<polyline class="c11" points="157.8,218.1 178.2,215.5 198.5,203.9 218.8,184.0 239.1,164.9 259.4,151.9 279.8,143.5 300.1,139.7 320.4,132.9 340.8,127.7 361.1,118.8 381.4,117.3 401.7,123.7 422.1,119.5 442.4,122.6 462.7,124.9 483.0,132.7"/>
<polyline class="c11" points="157.8,214.8 178.2,210.3 198.5,197.9 218.8,185.6 239.1,162.9 259.4,151.3 279.8,140.8 300.1,136.6 320.4,126.4 340.8,120.8 361.1,116.0 381.4,116.0 401.7,118.7 422.1,115.7 442.4,118.2 462.7,120.7 483.0,128.2 503.4,139.7"/>
<polyline class="c11" points="157.8,216.1 178.2,212.9 198.5,199.1 218.8,185.6 239.1,164.0 259.4,151.2 279.8,144.7 300.1,135.8 320.4,133.1 340.8,124.9 361.1,120.2 381.4,119.1 401.7,107.7 422.1,117.9 442.4,118.6 462.7,123.2 483.0,131.3 503.4,134.8"/>
<polyline class="c11" points="157.8,215.5 178.2,210.7 198.5,201.7 218.8,186.2 239.1,164.1 259.4,153.4 279.8,143.0 300.1,138.2 320.4,134.4 340.8,124.4 361.1,115.9 381.4,119.0 401.7,117.8 422.1,118.7 442.4,120.5 462.7,121.3 483.0,129.6 503.4,138.3 523.7,142.3 544.0,149.7 564.3,141.0 584.6,148.4 605.0,143.7 625.3,147.2"/>
<polyline class="c12" points="157.8,216.4 178.2,214.0 198.5,202.5 218.8,187.1 239.1,169.5 259.4,151.9 279.8,145.1 300.1,136.3 320.4,132.3 340.8,125.3 361.1,121.9 381.4,118.0 401.7,120.9 422.1,122.5 442.4,120.9 462.7,120.8 483.0,131.8"/>
<polyline class="c12" points="157.8,217.6 178.2,213.9 198.5,205.0 218.8,187.6 239.1,169.0 259.4,151.6 279.8,147.1 300.1,142.3 320.4,133.7 340.8,130.5 361.1,122.0 381.4,121.8 401.7,123.7 422.1,122.1 442.4,124.6 462.7,122.9 483.0,130.8 503.4,140.0"/>
<polyline class="c12" points="157.8,217.2 178.2,216.2 198.5,202.4 218.8,184.5 239.1,166.1 259.4,152.4 279.8,144.2 300.1,141.1 320.4,130.1 340.8,126.1 361.1,121.6 381.4,120.7 401.7,121.9 422.1,111.1 442.4,121.3 462.7,121.4 483.0,129.0"/>
<polyline class="c12" points="157.8,217.2 178.2,212.4 198.5,200.6 218.8,186.4 239.1,168.5 259.4,151.9 279.8,148.0 300.1,139.5 320.4,131.5 340.8,119.6 361.1,121.9 381.4,117.6 401.7,123.2 422.1,116.0 442.4,117.5 462.7,119.4 483.0,128.7 503.4,154.9"/>
<polyline class="c13" points="157.8,220.6 178.2,212.3 198.5,203.5 218.8,187.6 239.1,165.7 259.4,157.1 279.8,145.5 300.1,140.7 320.4,138.0 340.8,132.9 361.1,124.8 381.4,121.4 401.7,124.3 422.1,122.0 442.4,119.8 462.7,124.3 483.0,130.4 503.4,137.4"/>
<polyline class="c13" points="157.8,210.6 178.2,210.3 198.5,199.1 218.8,185.0 239.1,165.7 259.4,147.5 279.8,144.8 300.1,135.2 320.4,130.9 340.8,124.3 361.1,120.0 381.4,117.3 401.7,118.2 422.1,115.1 442.4,117.5 462.7,118.5 483.0,126.1 503.4,135.4"/>
<polyline class="c13" points="157.8,219.2 178.2,212.5 198.5,200.9 218.8,187.3 239.1,166.5 259.4,155.8 279.8,142.7 300.1,141.6 320.4,135.1 340.8,123.6 361.1,120.9 381.4,119.0 401.7,122.8 422.1,120.1 442.4,124.0 462.7,119.6 483.0,128.7"/>
<polyline class="c13" points="157.8,221.2 178.2,215.0 198.5,203.3 218.8,185.3 239.1,166.3 259.4,155.7 279.8,145.2 300.1,141.3 320.4,134.1 340.8,132.0 361.1,120.8 381.4,120.8 401.7,124.0 422.1,121.7 442.4,123.1 462.7,123.6 483.0,132.6"/>
<polyline class="c14" points="157.8,221.9 178.2,215.9 198.5,204.3 218.8,188.5 239.1,166.8 259.4,157.2 279.8,147.9 300.1,140.7 320.4,132.5 340.8,131.1 361.1,122.3 381.4,120.6 401.7,122.6 422.1,121.3 442.4,122.9 462.7,123.1 483.0,131.8 503.4,144.0"/>
<polyline class="c14" points="157.8,213.9 178.2,212.1 198.5,199.5 218.8,184.5 239.1,163.6 259.4,151.1 279.8,141.0 300.1,139.9 320.4,132.0 340.8,129.4 361.1,117.1 381.4,116.9 401.7,108.2 422.1,117.3 442.4,117.4 462.7,118.9 483.0,128.0 503.4,146.4 523.7,149.4 544.0,150.6 564.3,145.0"/>
<polyline class="c14" points="157.8,217.9 178.2,214.3 198.5,204.0 218.8,184.6 239.1,170.3 259.4,155.0 279.8,144.3 300.1,138.6 320.4,136.6 340.8,130.1 361.1,122.7 381.4,121.1 401.7,123.5 422.1,120.0 442.4,122.3 462.7,126.4 483.0,126.7 503.4,153.6"/>
<polyline class="c14" points="157.8,216.3 178.2,211.7 198.5,200.6 218.8,183.4 239.1,165.9 259.4,155.0 279.8,143.6 300.1,141.4 320.4,134.0 340.8,124.3 361.1,124.6 381.4,102.8 401.7,122.8 422.1,120.1 442.4,118.0 462.7,119.9 483.0,131.1 503.4,150.9"/>
<polyline class="c15" points="157.8,219.9 178.2,212.7 198.5,199.2 218.8,186.1 239.1,164.2 259.4,156.6 279.8,141.8 300.1,138.6 320.4,131.2 340.8,126.8 361.1,120.7 381.4,118.3 401.7,121.6 422.1,119.9 442.4,122.2 462.7,118.9 483.0,130.2"/>
<polyline class="c15" points="157.8,216.2 178.2,214.7 198.5,204.1 218.8,186.4 239.1,167.7 259.4,152.0 279.8,142.6 300.1,136.4 320.4,132.4 340.8,128.5 361.1,122.1 381.4,121.2 401.7,121.0 422.1,119.7 442.4,123.3 462.7,122.5 483.0,128.1"/>
<polyline class="c15" points="157.8,219.5 178.2,215.7 198.5,204.6 218.8,191.9 239.1,170.6 259.4,156.9 279.8,147.4 300.1,141.7 320.4,135.5 340.8,130.9 361.1,122.4 381.4,128.0 401.7,125.5 422.1,119.8 442.4,123.3 462.7,118.2 483.0,130.3 503.4,150.9"/>
<polyline class="c15" points="157.8,212.5 178.2,213.4 198.5,200.2 218.8,185.5 239.1,165.1 259.4,147.6 279.8,140.5 300.1,137.5 320.4,131.6 340.8,126.4 361.1,108.8 381.4,118.1 401.7,118.5 422.1,116.7 442.4,117.3 462.7,118.2 483.0,129.8 503.4,141.6"/>
<polyline class="c16" points="157.8,218.0 178.2,217.4 198.5,206.4 218.8,190.3 239.1,168.7 259.4,160.8 279.8,148.1 300.1,140.3 320.4,137.6 340.8,131.7 361.1,127.6 381.4,123.8 401.7,124.2 422.1,122.6 442.4,122.4 462.7,124.0 483.0,131.5"/>
<polyline class="c16" points="157.8,213.9 178.2,206.5 198.5,195.5 218.8,184.6 239.1,164.3 259.4,151.2 279.8,140.2 300.1,136.6 320.4,128.1 340.8,123.3 361.1,120.1 381.4,114.7 401.7,117.7 422.1,114.0 442.4,117.2 462.7,118.1 483.0,125.7 503.4,136.5"/>
<polyline class="c16" points="157.8,216.1 178.2,213.9 198.5,202.3 218.8,184.2 239.1,168.2 259.4,152.2 279.8,144.0 300.1,140.3 320.4,136.0 340.8,131.2 361.1,120.1 381.4,111.9 401.7,123.6 422.1,120.3 442.4,118.7 462.7,120.2 483.0,132.4 503.4,140.9"/>
<polyline class="c16" points="157.8,212.9 178.2,205.0 198.5,200.3 218.8,183.3 239.1,159.9 259.4,149.5 279.8,140.1 300.1,132.4 320.4,127.6 340.8,126.2 361.1,115.6 381.4,117.3 401.7,120.2 422.1,112.4 442.4,117.2 462.7,118.1 483.0,128.8 503.4,150.5"/>
<polyline class="c17" points="157.8,217.0 178.2,215.2 198.5,208.0 218.8,189.4 239.1,173.1 259.4,158.6 279.8,150.7 300.1,143.2 320.4,139.2 340.8,133.4 361.1,125.4 381.4,124.5 401.7,126.8 422.1,123.3 442.4,126.0 462.7,125.8 483.0,131.0 503.4,147.7"/>
<polyline class="c17" points="157.8,214.4 178.2,212.8 198.5,200.7 218.8,184.3 239.1,162.1 259.4,153.1 279.8,145.1 300.1,138.7 320.4,130.8 340.8,123.6 361.1,120.5 381.4,106.6 401.7,119.2 422.1,117.6 442.4,120.0 462.7,120.4 483.0,127.0"/>
<polyline class="c17" points="157.8,213.2 178.2,211.3 198.5,200.9 218.8,184.5 239.1,162.2 259.4,150.1 279.8,143.2 300.1,136.0 320.4,134.6 340.8,125.7 361.1,120.9 381.4,121.7 401.7,119.4 422.1,116.4 442.4,118.3 462.7,118.0 483.0,127.1"/>
<polyline class="c17" points="157.8,217.9 178.2,212.5 198.5,201.2 218.8,185.4 239.1,164.3 259.4,153.2 279.8,141.9 300.1,135.2 320.4,131.5 340.8,127.6 361.1,124.7 381.4,122.5 401.7,126.3 422.1,118.7 442.4,118.3 462.7,119.6 483.0,128.3 503.4,146.1"/>
<polyline class="c18" points="157.8,215.8 178.2,211.8 198.5,200.2 218.8,187.5 239.1,169.7 259.4,152.6 279.8,140.6 300.1,140.5 320.4,132.7 340.8,129.6 361.1,121.6 381.4,121.4 401.7,123.0 422.1,118.7 442.4,118.7 462.7,121.2 483.0,130.3 503.4,147.2"/>
<polyline class="c18" points="157.8,217.3 178.2,213.3 198.5,202.4 218.8,184.0 239.1,165.9 259.4,152.7 279.8,147.1 300.1,138.1 320.4,135.8 340.8,130.3 361.1,106.6 381.4,121.4 401.7,126.2 422.1,119.2 442.4,122.4 462.7,121.2 483.0,129.0 503.4,137.2"/>
<polyline class="c18" points="157.8,218.5 178.2,217.5 198.5,208.7 218.8,189.3 239.1,169.4 259.4,155.3 279.8,148.9 300.1,144.1 320.4,133.2 340.8,135.7 361.1,123.7 381.4,127.0 401.7,125.6 422.1,124.1 442.4,122.4 462.7,126.5 483.0,131.6 503.4,139.5"/>
<polyline class="c19" points="157.8,215.0 178.2,211.9 198.5,203.0 218.8,188.4 239.1,163.8 259.4,152.0 279.8,141.6 300.1,136.2 320.4,131.5 340.8,130.1 361.1,122.3 381.4,121.1 401.7,119.6 422.1,120.1 442.4,117.0 462.7,118.7 483.0,129.1 503.4,158.6"/>
<polyline class="c19" points="157.8,213.9 178.2,212.4 198.5,199.6 218.8,188.1 239.1,170.3 259.4,152.8 279.8,147.6 300.1,138.8 320.4,137.3 340.8,130.0 361.1,119.3 381.4,119.1 401.7,123.0 422.1,119.9 442.4,120.6 462.7,117.8 483.0,128.3 503.4,137.5"/>
<polyline class="c19" points="157.8,216.1 178.2,215.1 198.5,202.8 218.8,184.7 239.1,166.3 259.4,148.6 279.8,145.0 300.1,140.1 320.4,132.9 340.8,131.5 361.1,122.1 381.4,114.0 401.7,123.3 422.1,122.6 442.4,117.8 462.7,118.5 483.0,132.4 503.4,144.4"/>
<polyline class="c19" points="157.8,222.1 178.2,216.7 198.5,206.4 218.8,188.6 239.1,171.8 259.4,158.3 279.8,147.2 300.1,145.2 320.4,138.7 340.8,132.7 361.1,125.6 381.4,123.7 401.7,124.5 422.1,124.2 442.4,124.3 462.7,125.2 483.0,138.3"/>
<polyline class="c20" points="157.8,216.9 178.2,214.0 198.5,198.5 218.8,189.2 239.1,166.2 259.4,153.9 279.8,145.0 300.1,140.4 320.4,132.4 340.8,129.3 361.1,124.5 381.4,122.6 401.7,122.2 422.1,118.4 442.4,117.2 462.7,121.1 483.0,129.1 503.4,147.0 523.7,140.3 544.0,143.0 564.3,143.6"/>
<polyline class="c20" points="157.8,215.3 178.2,212.3 198.5,199.7 218.8,186.7 239.1,165.8 259.4,152.6 279.8,142.0 300.1,138.2 320.4,132.6 340.8,130.0 361.1,121.3 381.4,112.5 401.7,121.5 422.1,105.0 442.4,120.1 462.7,117.7 483.0,129.2 503.4,141.0"/>
<polyline class="c20" points="157.8,220.5 178.2,212.5 198.5,202.0 218.8,187.5 239.1,167.1 259.4,154.5 279.8,143.0 300.1,137.4 320.4,136.2 340.8,130.8 361.1,124.9 381.4,124.9 401.7,124.1 422.1,120.7 442.4,119.7 462.7,122.1 483.0,130.5 503.4,142.7"/>
<polyline class="c20" points="157.8,216.1 178.2,214.1 198.5,200.6 218.8,188.5 239.1,167.0 259.4,154.8 279.8,147.5 300.1,140.8 320.4,136.4 340.8,127.8 361.1,125.9 381.4,120.5 401.7,126.0 422.1,117.3 442.4,120.9 462.7,119.5 483.0,128.3 503.4,161.7"/>
<polyline class="c21" points="157.8,220.8 178.2,214.0 198.5,202.4 218.8,188.8 239.1,171.9 259.4,156.6 279.8,145.5 300.1,139.7 320.4,136.0 340.8,133.6 361.1,110.9 381.4,124.6 401.7,125.2 422.1,122.9 442.4,119.7 462.7,122.2 483.0,129.8 503.4,152.9 523.7,150.3 544.0,143.3 564.3,143.9 584.6,151.3 605.0,153.0"/>
<polyline class="c21" points="157.8,217.0 178.2,212.1 198.5,205.0 218.8,188.2 239.1,168.6 259.4,155.3 279.8,145.3 300.1,141.0 320.4,135.8 340.8,130.6 361.1,125.4 381.4,123.8 401.7,114.4 422.1,118.6 442.4,120.1 462.7,119.7 483.0,125.2"/>
<polyline class="c21" points="157.8,213.0 178.2,210.4 198.5,200.1 218.8,187.0 239.1,164.4 259.4,156.5 279.8,144.5 300.1,141.1 320.4,136.0 340.8,127.3 361.1,123.7 381.4,123.5 401.7,123.6 422.1,119.7 442.4,116.8 462.7,121.1 483.0,128.0 503.4,138.3"/>
<polyline class="c22" points="157.8,217.1 178.2,209.7 198.5,202.1 218.8,188.0 239.1,170.1 259.4,154.9 279.8,145.3 300.1,140.6 320.4,136.3 340.8,129.5 361.1,127.1 381.4,124.2 401.7,116.4 422.1,120.5 442.4,120.7 462.7,123.5 483.0,130.1 503.4,147.2"/>
<polyline class="c22" points="157.8,220.0 178.2,213.2 198.5,203.9 218.8,186.8 239.1,168.0 259.4,155.1 279.8,146.8 300.1,143.9 320.4,137.0 340.8,134.0 361.1,124.9 381.4,126.5 401.7,126.1 422.1,125.4 442.4,120.5 462.7,119.2 483.0,129.8 503.4,146.0 523.7,151.1 544.0,158.0 564.3,155.1 584.6,153.8 605.0,154.2"/>
<polyline class="c22" points="157.8,212.3 178.2,215.6 198.5,205.2 218.8,186.4 239.1,165.8 259.4,152.9 279.8,147.6 300.1,141.5 320.4,133.6 340.8,129.2 361.1,123.8 381.4,126.0 401.7,121.1 422.1,121.3 442.4,121.2 462.7,120.4 483.0,127.6"/>
<polyline class="c22" points="157.8,211.3 178.2,207.8 198.5,197.9 218.8,185.6 239.1,162.8 259.4,149.6 279.8,139.6 300.1,138.0 320.4,129.9 340.8,127.0 361.1,121.2 381.4,121.8 401.7,108.5 422.1,118.5 442.4,116.8 462.7,117.6 483.0,125.0 503.4,138.7 523.7,141.2 544.0,143.8"/>
<polyline class="c23" points="157.8,216.1 178.2,212.0 198.5,202.3 218.8,187.7 239.1,172.6 259.4,155.7 279.8,146.7 300.1,141.6 320.4,134.8 340.8,131.8 361.1,127.3 381.4,110.8 401.7,126.5 422.1,120.4 442.4,121.8 462.7,118.9 483.0,130.7"/>
<polyline class="c23" points="157.8,214.4 178.2,212.3 198.5,200.8 218.8,187.7 239.1,165.5 259.4,153.6 279.8,146.3 300.1,140.2 320.4,134.3 340.8,130.3 361.1,124.9 381.4,125.2 401.7,121.4 422.1,117.7 442.4,121.5 462.7,119.5 483.0,126.2 503.4,140.4"/>
<polyline class="c23" points="157.8,215.1 178.2,213.2 198.5,202.7 218.8,188.2 239.1,169.6 259.4,155.3 279.8,147.9 300.1,137.5 320.4,134.5 340.8,131.4 361.1,122.8 381.4,122.2 401.7,124.4 422.1,118.8 442.4,117.5 462.7,118.8 483.0,124.9"/>
<polyline class="c23" points="157.8,215.5 178.2,213.3 198.5,203.3 218.8,187.7 239.1,169.0 259.4,154.7 279.8,146.4 300.1,141.9 320.4,137.1 340.8,130.7 361.1,127.7 381.4,127.3 401.7,125.2 422.1,120.6 442.4,119.0 462.7,119.5 483.0,130.0"/>
<polyline class="c24" points="157.8,215.5 178.2,208.7 198.5,201.6 218.8,185.2 239.1,163.6 259.4,148.7 279.8,141.6 300.1,138.9 320.4,132.4 340.8,132.7 361.1,122.7 381.4,120.8 401.7,124.1 422.1,120.1 442.4,117.3 462.7,120.1 483.0,124.8 503.4,139.6"/>
<polyline class="c24" points="157.8,212.6 178.2,213.9 198.5,201.2 218.8,184.0 239.1,166.3 259.4,152.7 279.8,143.8 300.1,138.5 320.4,133.9 340.8,130.6 361.1,123.8 381.4,124.4 401.7,122.5 422.1,118.4 442.4,118.2 462.7,118.2 483.0,125.6 503.4,144.5"/>
<polyline class="c24" points="157.8,216.3 178.2,217.0 198.5,201.4 218.8,185.9 239.1,165.5 259.4,155.4 279.8,145.8 300.1,141.2 320.4,136.3 340.8,133.6 361.1,127.7 381.4,125.3 401.7,127.5 422.1,121.0 442.4,116.6 462.7,121.6 483.0,128.2 503.4,150.9 523.7,146.3 544.0,148.2 564.3,145.0 584.6,145.6 605.0,148.8"/>
<polyline class="c25" points="157.8,217.8 178.2,212.5 198.5,204.9 218.8,189.0 239.1,172.4 259.4,158.3 279.8,147.9 300.1,141.2 320.4,136.8 340.8,131.9 361.1,128.3 381.4,129.3 401.7,127.8 422.1,122.1 442.4,119.9 462.7,121.7 483.0,130.9"/>
<polyline class="c25" points="157.8,217.1 178.2,212.4 198.5,202.5 218.8,192.1 239.1,167.9 259.4,156.6 279.8,145.4 300.1,143.8 320.4,137.4 340.8,134.5 361.1,129.7 381.4,125.0 401.7,125.8 422.1,124.0 442.4,119.5 462.7,121.8 483.0,127.0 503.4,144.5 523.7,152.4"/>
<polyline class="c25" points="157.8,211.1 178.2,209.7 198.5,199.2 218.8,183.8 239.1,162.8 259.4,149.6 279.8,142.5 300.1,137.7 320.4,129.1 340.8,129.3 361.1,121.8 381.4,122.4 401.7,122.0 422.1,115.9 442.4,116.5 462.7,117.1 483.0,124.7 503.4,139.6"/>
<polyline class="c25" points="157.8,214.9 178.2,215.9 198.5,204.6 218.8,189.8 239.1,171.8 259.4,156.8 279.8,146.4 300.1,141.1 320.4,138.1 340.8,134.1 361.1,129.9 381.4,128.9 401.7,126.0 422.1,123.1 442.4,122.6 462.7,119.5 483.0,128.1 503.4,139.7"/>
<polyline class="c26" points="157.8,216.4 178.2,209.7 198.5,199.5 218.8,186.9 239.1,168.9 259.4,154.3 279.8,148.1 300.1,142.7 320.4,134.7 340.8,133.2 361.1,126.8 381.4,111.8 401.7,122.5 422.1,120.1 442.4,121.6 462.7,121.2 483.0,127.4 503.4,149.9 523.7,151.5 544.0,164.3 564.3,171.1 584.6,169.4"/>
<polyline class="c26" points="157.8,212.5 178.2,214.3 198.5,201.0 218.8,188.6 239.1,167.7 259.4,154.2 279.8,148.0 300.1,140.2 320.4,134.2 340.8,133.3 361.1,126.3 381.4,125.1 401.7,126.2 422.1,119.0 442.4,116.5 462.7,117.0 483.0,124.6 503.4,148.1"/>
<polyline class="c26" points="157.8,215.9 178.2,215.2 198.5,203.3 218.8,190.2 239.1,175.2 259.4,158.4 279.8,148.6 300.1,143.3 320.4,136.1 340.8,132.8 361.1,118.1 381.4,131.7 401.7,130.9 422.1,121.8 442.4,119.8 462.7,122.7 483.0,131.8"/>
<polyline class="c26" points="157.8,212.5 178.2,211.5 198.5,198.6 218.8,187.8 239.1,166.9 259.4,154.8 279.8,146.3 300.1,139.0 320.4,137.1 340.8,132.5 361.1,125.8 381.4,123.1 401.7,125.5 422.1,120.1 442.4,119.2 462.7,121.8 483.0,126.2"/>
<polyline class="c27" points="157.8,215.8 178.2,211.4 198.5,201.6 218.8,190.2 239.1,168.9 259.4,156.3 279.8,147.6 300.1,141.0 320.4,140.7 340.8,130.2 361.1,128.8 381.4,124.8 401.7,129.1 422.1,122.3 442.4,117.3 462.7,119.4 483.0,126.3"/>
<polyline class="c27" points="157.8,215.7 178.2,216.3 198.5,205.3 218.8,192.4 239.1,173.3 259.4,156.6 279.8,149.5 300.1,144.8 320.4,141.7 340.8,137.6 361.1,132.8 381.4,128.9 401.7,130.4 422.1,124.1 442.4,121.0 462.7,124.7 483.0,130.0"/>
<polyline class="c27" points="157.8,218.0 178.2,212.9 198.5,203.0 218.8,188.6 239.1,166.2 259.4,153.7 279.8,147.9 300.1,142.5 320.4,136.3 340.8,136.5 361.1,127.5 381.4,127.1 401.7,125.7 422.1,122.1 442.4,119.6 462.7,120.7 483.0,126.6"/>
<polyline class="c28" points="157.8,214.4 178.2,213.3 198.5,201.7 218.8,186.6 239.1,170.2 259.4,158.1 279.8,148.7 300.1,144.4 320.4,137.0 340.8,134.5 361.1,129.9 381.4,116.2 401.7,127.4 422.1,109.9 442.4,122.5 462.7,120.6 483.0,128.9"/>
<polyline class="c28" points="157.8,219.2 178.2,214.5 198.5,204.4 218.8,190.5 239.1,171.5 259.4,156.0 279.8,148.0 300.1,145.8 320.4,142.2 340.8,135.9 361.1,130.6 381.4,130.7 401.7,116.7 422.1,123.6 442.4,120.4 462.7,122.4 483.0,126.6"/>
<polyline class="c28" points="157.8,214.6 178.2,213.8 198.5,201.8 218.8,189.3 239.1,170.1 259.4,158.5 279.8,149.7 300.1,142.8 320.4,138.0 340.8,135.4 361.1,129.9 381.4,116.8 401.7,128.4 422.1,120.1 442.4,120.1 462.7,121.8 483.0,124.3"/>
<polyline class="c28" points="157.8,210.8 178.2,208.9 198.5,199.3 218.8,187.1 239.1,165.4 259.4,152.4 279.8,145.4 300.1,139.1 320.4,136.1 340.8,128.6 361.1,123.8 381.4,124.8 401.7,121.4 422.1,122.0 442.4,117.2 462.7,119.0 483.0,124.4 503.4,140.8"/>
<polyline class="c29" points="157.8,218.1 178.2,213.3 198.5,202.8 218.8,189.3 239.1,169.6 259.4,156.0 279.8,144.8 300.1,142.2 320.4,137.0 340.8,134.1 361.1,129.5 381.4,129.0 401.7,127.4 422.1,119.9 442.4,120.6 462.7,117.6 483.0,126.8 503.4,160.4"/>
<polyline class="c29" points="157.8,212.8 178.2,211.9 198.5,201.2 218.8,194.6 239.1,166.3 259.4,155.4 279.8,146.9 300.1,142.0 320.4,138.0 340.8,134.0 361.1,129.3 381.4,130.6 401.7,129.2 422.1,118.6 442.4,118.4 462.7,121.3 483.0,129.0 503.4,149.1"/>
<polyline class="c29" points="157.8,213.9 178.2,211.3 198.5,201.2 218.8,187.8 239.1,169.5 259.4,154.3 279.8,145.3 300.1,141.4 320.4,139.3 340.8,134.8 361.1,127.6 381.4,125.8 401.7,129.7 422.1,119.9 442.4,116.2 462.7,118.7 483.0,126.0"/>
<polyline class="c30" points="157.8,214.9 178.2,216.6 198.5,204.3 218.8,188.8 239.1,169.1 259.4,156.5 279.8,148.1 300.1,141.1 320.4,135.6 340.8,135.2 361.1,121.5 381.4,123.9 401.7,128.3 422.1,121.4 442.4,118.9 462.7,122.8 483.0,127.0 503.4,141.1"/>
<polyline class="c30" points="157.8,212.1 178.2,208.0 198.5,203.0 218.8,189.9 239.1,170.4 259.4,156.0 279.8,147.7 300.1,141.8 320.4,137.8 340.8,135.6 361.1,132.8 381.4,127.6 401.7,129.1 422.1,119.1 442.4,119.1 462.7,119.2 483.0,127.1"/>
<polyline class="c30" points="157.8,218.3 178.2,212.3 198.5,201.8 218.8,193.8 239.1,170.7 259.4,156.1 279.8,147.2 300.1,142.6 320.4,140.1 340.8,137.5 361.1,130.0 381.4,127.0 401.7,130.2 422.1,122.5 442.4,119.7 462.7,117.0 483.0,131.7 503.4,153.9"/>
<polyline class="c30" points="157.8,214.4 178.2,212.1 198.5,201.9 218.8,190.8 239.1,168.7 259.4,151.5 279.8,148.7 300.1,141.0 320.4,138.0 340.8,130.7 361.1,130.3 381.4,125.0 401.7,126.2 422.1,122.8 442.4,116.1 462.7,120.2 483.0,124.1 503.4,147.4"/>
<polyline class="c31" points="157.8,218.2 178.2,213.3 198.5,200.7 218.8,193.3 239.1,169.9 259.4,161.7 279.8,150.4 300.1,141.4 320.4,142.3 340.8,137.8 361.1,130.3 381.4,131.6 401.7,129.6 422.1,121.2 442.4,122.2 462.7,122.0 483.0,130.0"/>
<polyline class="c31" points="157.8,215.5 178.2,210.7 198.5,199.3 218.8,190.3 239.1,170.2 259.4,155.6 279.8,142.6 300.1,143.5 320.4,138.1 340.8,136.8 361.1,130.4 381.4,127.7 401.7,127.5 422.1,125.6 442.4,118.3 462.7,116.4 483.0,126.4 503.4,150.8"/>
<polyline class="c31" points="157.8,210.2 178.2,207.3 198.5,201.9 218.8,189.6 239.1,164.0 259.4,156.0 279.8,144.7 300.1,138.3 320.4,136.0 340.8,131.0 361.1,129.6 381.4,127.1 401.7,129.1 422.1,118.5 442.4,117.1 462.7,116.4 483.0,124.0"/>
<polyline class="c31" points="157.8,216.8 178.2,213.0 198.5,205.9 218.8,195.7 239.1,169.7 259.4,154.8 279.8,149.4 300.1,142.3 320.4,140.8 340.8,136.5 361.1,132.6 381.4,126.4 401.7,132.1 422.1,120.7 442.4,118.7 462.7,121.4 483.0,129.8 503.4,166.4"/>
<polyline class="c32" points="157.8,214.2 178.2,211.9 198.5,203.5 218.8,192.4 239.1,170.9 259.4,156.4 279.8,146.0 300.1,142.6 320.4,138.9 340.8,137.0 361.1,130.1 381.4,130.4 401.7,128.7 422.1,121.1 442.4,120.3 462.7,118.5 483.0,127.3 503.4,159.4"/>
<polyline class="c32" points="157.8,210.7 178.2,211.4 198.5,201.9 218.8,188.1 239.1,167.5 259.4,152.8 279.8,143.8 300.1,141.1 320.4,135.0 340.8,131.4 361.1,129.8 381.4,126.1 401.7,129.2 422.1,117.4 442.4,116.8 462.7,113.7 483.0,126.0 503.4,145.1"/>
<polyline class="c32" points="157.8,221.7 178.2,215.4 198.5,206.3 218.8,190.5 239.1,171.6 259.4,161.5 279.8,149.5 300.1,144.1 320.4,142.4 340.8,136.9 361.1,118.3 381.4,131.2 401.7,132.2 422.1,125.1 442.4,122.9 462.7,122.9 483.0,131.3 503.4,149.7"/>
<polyline class="c33" points="157.8,215.4 178.2,212.1 198.5,201.8 218.8,188.5 239.1,171.2 259.4,156.4 279.8,150.1 300.1,142.6 320.4,136.4 340.8,135.5 361.1,133.4 381.4,116.1 401.7,129.8 422.1,117.5 442.4,117.0 462.7,119.5 483.0,126.7 503.4,145.1"/>
<polyline class="c33" points="157.8,220.9 178.2,219.3 198.5,211.8 218.8,198.7 239.1,176.8 259.4,160.6 279.8,150.4 300.1,151.7 320.4,143.3 340.8,142.2 361.1,138.7 381.4,139.1 401.7,134.7 422.1,125.1 442.4,124.6 462.7,123.8 483.0,130.1 503.4,157.4"/>
<polyline class="c33" points="157.8,211.4 178.2,210.5 198.5,202.7 218.8,189.6 239.1,170.1 259.4,156.5 279.8,148.5 300.1,142.8 320.4,139.4 340.8,135.6 361.1,130.4 381.4,129.8 401.7,129.8 422.1,122.9 442.4,119.6 462.7,116.1 483.0,125.2"/>
<polyline class="c33" points="157.8,214.3 178.2,209.5 198.5,202.0 218.8,187.3 239.1,172.1 259.4,157.9 279.8,149.6 300.1,144.4 320.4,139.9 340.8,135.6 361.1,114.9 381.4,128.8 401.7,126.2 422.1,118.2 442.4,116.3 462.7,118.6 483.0,126.5"/>
<polyline class="c34" points="157.8,217.9 178.2,214.1 198.5,207.2 218.8,197.7 239.1,171.9 259.4,160.8 279.8,149.6 300.1,145.4 320.4,143.2 340.8,140.0 361.1,137.9 381.4,134.4 401.7,133.5 422.1,125.5 442.4,123.5 462.7,125.9 483.0,132.0"/>
<polyline class="c34" points="157.8,216.7 178.2,217.7 198.5,206.4 218.8,192.7 239.1,173.9 259.4,159.2 279.8,150.5 300.1,143.9 320.4,140.2 340.8,139.1 361.1,133.3 381.4,135.7 401.7,131.1 422.1,128.1 442.4,123.4 462.7,123.3 483.0,127.6"/>
<polyline class="c34" points="157.8,215.8 178.2,214.9 198.5,207.3 218.8,194.5 239.1,172.0 259.4,157.4 279.8,150.6 300.1,146.2 320.4,143.9 340.8,135.3 361.1,135.5 381.4,133.6 401.7,131.3 422.1,124.0 442.4,120.7 462.7,122.1 483.0,127.1 503.4,154.2"/>
<polyline class="c34" points="157.8,205.7 178.2,208.3 198.5,199.2 218.8,188.5 239.1,168.4 259.4,156.5 279.8,146.1 300.1,138.9 320.4,134.5 340.8,129.6 361.1,130.2 381.4,111.6 401.7,126.4 422.1,117.5 442.4,112.3 462.7,118.2 483.0,121.4 503.4,153.3"/>
<polyline class="c35" points="157.8,212.9 178.2,210.5 198.5,201.4 218.8,187.1 239.1,172.1 259.4,156.1 279.8,147.0 300.1,141.6 320.4,138.9 340.8,133.9 361.1,131.3 381.4,125.5 401.7,127.2 422.1,120.6 442.4,115.6 462.7,116.8 483.0,125.5 503.4,144.6"/>
<polyline class="c35" points="157.8,213.8 178.2,209.7 198.5,200.7 218.8,186.0 239.1,171.4 259.4,154.5 279.8,147.4 300.1,142.5 320.4,139.7 340.8,139.1 361.1,128.4 381.4,132.3 401.7,127.9 422.1,121.9 442.4,117.0 462.7,118.0 483.0,124.6 503.4,154.6"/>
<polyline class="c35" points="157.8,213.4 178.2,210.8 198.5,204.2 218.8,189.6 239.1,171.7 259.4,158.8 279.8,146.8 300.1,141.2 320.4,139.4 340.8,138.3 361.1,133.3 381.4,131.3 401.7,130.0 422.1,122.9 442.4,117.8 462.7,119.9 483.0,123.3"/>
<polyline class="c36" points="157.8,216.0 178.2,211.6 198.5,201.7 218.8,189.1 239.1,171.1 259.4,158.4 279.8,147.8 300.1,143.2 320.4,144.4 340.8,136.3 361.1,133.4 381.4,130.4 401.7,127.3 422.1,122.2 442.4,116.8 462.7,120.8 483.0,122.3 503.4,138.0"/>
<polyline class="c36" points="157.8,218.0 178.2,216.3 198.5,204.8 218.8,195.2 239.1,174.0 259.4,155.6 279.8,149.1 300.1,145.9 320.4,147.1 340.8,140.2 361.1,134.9 381.4,134.6 401.7,131.8 422.1,120.8 442.4,119.0 462.7,123.3 483.0,128.7 503.4,157.8"/>
<polyline class="c36" points="157.8,211.2 178.2,211.0 198.5,202.3 218.8,186.7 239.1,168.0 259.4,154.8 279.8,147.3 300.1,139.3 320.4,136.7 340.8,133.6 361.1,128.3 381.4,127.6 401.7,129.1 422.1,122.0 442.4,115.9 462.7,115.5 483.0,124.2"/>
<polyline class="c36" points="157.8,212.8 178.2,209.5 198.5,199.9 218.8,190.5 239.1,167.5 259.4,156.6 279.8,148.4 300.1,143.3 320.4,140.2 340.8,140.7 361.1,130.4 381.4,131.7 401.7,130.8 422.1,120.6 442.4,119.4 462.7,101.9 483.0,114.0 503.4,144.3"/>
<polyline class="c37" points="157.8,215.3 178.2,211.2 198.5,201.5 218.8,190.8 239.1,169.7 259.4,153.0 279.8,144.4 300.1,141.3 320.4,142.0 340.8,133.7 361.1,131.9 381.4,129.6 401.7,130.1 422.1,119.8 442.4,115.6 462.7,116.7 483.0,120.3"/>
<polyline class="c37" points="157.8,214.1 178.2,209.3 198.5,202.2 218.8,187.8 239.1,169.4 259.4,159.1 279.8,145.4 300.1,141.5 320.4,138.3 340.8,132.9 361.1,135.0 381.4,128.8 401.7,127.8 422.1,121.0 442.4,117.2 462.7,118.1 483.0,126.3"/>
<polyline class="c37" points="157.8,214.8 178.2,211.0 198.5,206.0 218.8,190.1 239.1,173.2 259.4,158.0 279.8,147.9 300.1,143.4 320.4,144.0 340.8,139.6 361.1,135.9 381.4,129.7 401.7,128.5 422.1,122.1 442.4,117.9 462.7,118.8 483.0,123.9 503.4,153.9"/>
<polyline class="c38" points="157.8,214.0 178.2,213.5 198.5,203.8 218.8,192.4 239.1,169.4 259.4,159.7 279.8,151.8 300.1,142.4 320.4,141.8 340.8,140.5 361.1,132.1 381.4,129.5 401.7,131.2 422.1,123.9 442.4,115.7 462.7,120.2 483.0,126.9"/>
<polyline class="c38" points="157.8,213.0 178.2,208.9 198.5,199.2 218.8,190.2 239.1,171.3 259.4,157.5 279.8,144.3 300.1,139.9 320.4,140.5 340.8,138.8 361.1,135.3 381.4,131.3 401.7,128.1 422.1,117.6 442.4,116.6 462.7,119.3 483.0,124.9 503.4,150.2"/>
<polyline class="c38" points="157.8,214.3 178.2,212.8 198.5,204.1 218.8,190.0 239.1,171.4 259.4,155.7 279.8,148.6 300.1,142.5 320.4,140.2 340.8,138.0 361.1,134.4 381.4,130.0 401.7,134.5 422.1,118.8 442.4,95.8 462.7,118.8 483.0,125.7"/>
<polyline class="c38" points="157.8,214.5 178.2,212.9 198.5,202.6 218.8,191.7 239.1,172.5 259.4,156.4 279.8,147.3 300.1,144.9 320.4,140.7 340.8,138.2 361.1,134.4 381.4,134.0 401.7,134.2 422.1,120.6 442.4,122.0 462.7,115.9 483.0,130.0 503.4,142.9"/>
<polyline class="c39" points="157.8,216.6 178.2,213.6 198.5,204.7 218.8,194.0 239.1,171.9 259.4,157.9 279.8,154.1 300.1,147.8 320.4,142.6 340.8,139.1 361.1,134.6 381.4,133.5 401.7,133.2 422.1,124.7 442.4,120.5 462.7,122.0 483.0,124.9"/>
<polyline class="c39" points="157.8,216.0 178.2,216.7 198.5,205.4 218.8,196.1 239.1,175.3 259.4,158.1 279.8,150.9 300.1,141.6 320.4,142.1 340.8,143.4 361.1,136.3 381.4,134.2 401.7,134.5 422.1,123.7 442.4,118.6 462.7,119.2 483.0,130.0"/>
<polyline class="c39" points="157.8,214.3 178.2,213.1 198.5,202.7 218.8,188.8 239.1,172.2 259.4,155.9 279.8,150.1 300.1,142.7 320.4,141.0 340.8,138.1 361.1,136.7 381.4,132.0 401.7,130.6 422.1,108.5 442.4,117.0 462.7,120.6 483.0,120.7"/>
<polyline class="c39" points="157.8,211.2 178.2,210.1 198.5,200.5 218.8,192.6 239.1,170.0 259.4,158.5 279.8,151.0 300.1,141.7 320.4,142.3 340.8,137.2 361.1,135.2 381.4,133.9 401.7,130.5 422.1,103.1 442.4,118.4 462.7,119.5 483.0,125.9 503.4,142.7"/>
<polyline class="c40" points="157.8,216.7 178.2,212.5 198.5,205.3 218.8,190.1 239.1,170.4 259.4,159.4 279.8,149.6 300.1,143.6 320.4,142.9 340.8,143.6 361.1,137.1 381.4,135.6 401.7,133.7 422.1,120.8 442.4,120.0 462.7,119.3 483.0,127.3 503.4,151.9"/>
<polyline class="c40" points="157.8,214.6 178.2,213.1 198.5,206.5 218.8,193.0 239.1,172.7 259.4,158.3 279.8,150.4 300.1,144.8 320.4,141.2 340.8,140.0 361.1,135.3 381.4,133.3 401.7,131.1 422.1,123.6 442.4,120.0 462.7,122.0 483.0,125.8"/>
<polyline class="c40" points="157.8,215.8 178.2,215.9 198.5,205.3 218.8,196.5 239.1,174.4 259.4,160.3 279.8,149.8 300.1,148.4 320.4,147.5 340.8,142.2 361.1,137.8 381.4,135.4 401.7,132.9 422.1,124.5 442.4,121.1 462.7,123.1 483.0,131.7 503.4,150.4 523.7,147.0 544.0,151.4"/>
<polyline class="c41" points="157.8,212.2 178.2,214.3 198.5,206.0 218.8,195.1 239.1,176.5 259.4,160.5 279.8,155.2 300.1,145.4 320.4,148.2 340.8,145.6 361.1,139.3 381.4,137.2 401.7,132.1 422.1,124.8 442.4,120.7 462.7,120.3 483.0,129.5"/>
<polyline class="c41" points="157.8,216.7 178.2,215.1 198.5,203.8 218.8,192.0 239.1,171.5 259.4,162.8 279.8,151.8 300.1,145.6 320.4,146.4 340.8,140.7 361.1,136.8 381.4,134.5 401.7,133.5 422.1,124.8 442.4,124.2 462.7,117.8 483.0,130.8"/>
<polyline class="c41" points="157.8,214.4 178.2,212.7 198.5,204.8 218.8,196.3 239.1,172.5 259.4,161.3 279.8,152.7 300.1,144.1 320.4,140.3 340.8,140.3 361.1,134.9 381.4,134.8 401.7,134.5 422.1,121.4 442.4,119.4 462.7,120.9 483.0,132.4 503.4,144.4 523.7,152.7"/>
<polyline class="c41" points="157.8,215.3 178.2,213.3 198.5,203.0 218.8,191.2 239.1,173.2 259.4,164.1 279.8,151.5 300.1,145.9 320.4,143.3 340.8,143.8 361.1,135.4 381.4,132.5 401.7,132.8 422.1,124.2 442.4,117.4 462.7,120.3 483.0,126.8 503.4,156.9"/>
<polyline class="c41" points="157.8,213.9 178.2,212.1 198.5,205.4 218.8,193.0 239.1,173.0 259.4,160.6 279.8,151.5 300.1,145.0 320.4,139.9 340.8,137.7 361.1,137.6 381.4,134.7 401.7,130.5 422.1,121.6 442.4,117.0 462.7,120.4 483.0,128.2"/>
<polyline class="c41" points="157.8,219.9 178.2,215.1 198.5,206.4 218.8,196.3 239.1,177.5 259.4,153.5 279.8,154.7 300.1,149.8 320.4,147.3 340.8,140.6 361.1,139.3 381.4,133.8 401.7,135.6 422.1,124.3 442.4,120.9 462.7,123.6 483.0,126.7 503.4,147.5 523.7,149.7 544.0,149.0"/>
<polyline class="c41" points="157.8,218.6 178.2,216.6 198.5,206.9 218.8,194.5 239.1,176.3 259.4,162.0 279.8,151.0 300.1,148.9 320.4,143.7 340.8,142.6 361.1,141.8 381.4,137.2 401.7,135.3 422.1,125.9 442.4,120.4 462.7,123.5 483.0,128.3"/>
<polyline class="c42" points="157.8,218.6 178.2,215.4 198.5,207.1 218.8,198.7 239.1,174.5 259.4,161.9 279.8,155.9 300.1,148.9 320.4,147.2 340.8,141.0 361.1,139.1 381.4,133.7 401.7,133.1 422.1,127.4 442.4,120.1 462.7,120.1 483.0,126.8"/>
<polyline class="c42" points="157.8,212.1 178.2,211.7 198.5,200.9 218.8,192.4 239.1,172.7 259.4,160.2 279.8,150.1 300.1,145.1 320.4,138.2 340.8,141.1 361.1,132.7 381.4,132.7 401.7,131.5 422.1,122.3 442.4,118.1 462.7,114.9 483.0,128.4"/>
<polyline class="c42" points="157.8,217.0 178.2,216.4 198.5,207.3 218.8,195.6 239.1,178.2 259.4,157.4 279.8,147.5 300.1,150.7 320.4,142.2 340.8,143.5 361.1,136.1 381.4,137.0 401.7,133.1 422.1,126.3 442.4,124.6 462.7,123.7 483.0,129.3"/>
<polyline class="c42" points="157.8,216.9 178.2,217.9 198.5,207.4 218.8,194.3 239.1,179.6 259.4,159.6 279.8,150.1 300.1,147.1 320.4,143.1 340.8,142.7 361.1,138.6 381.4,138.7 401.7,114.0 422.1,125.1 442.4,124.1 462.7,124.5 483.0,128.5"/>
<polyline class="c42" points="157.8,215.5 178.2,217.9 198.5,209.0 218.8,195.9 239.1,178.3 259.4,166.2 279.8,153.6 300.1,151.7 320.4,143.3 340.8,141.5 361.1,142.1 381.4,133.0 401.7,137.0 422.1,126.4 442.4,124.7 462.7,121.5 483.0,127.5"/>
<polyline class="c42" points="157.8,216.2 178.2,212.6 198.5,203.1 218.8,193.9 239.1,174.7 259.4,164.0 279.8,151.4 300.1,147.0 320.4,142.6 340.8,142.9 361.1,135.8 381.4,138.5 401.7,133.7 422.1,112.5 442.4,117.0 462.7,124.9 483.0,125.7"/>
<polyline class="c42" points="157.8,218.4 178.2,214.7 198.5,210.3 218.8,196.4 239.1,176.0 259.4,164.7 279.8,156.3 300.1,146.1 320.4,146.2 340.8,144.2 361.1,142.3 381.4,139.0 401.7,137.3 422.1,126.8 442.4,122.3 462.7,123.9 483.0,126.5"/>
<polyline class="c42" points="157.8,218.4 178.2,215.4 198.5,206.3 218.8,194.7 239.1,176.8 259.4,163.8 279.8,154.4 300.1,147.4 320.4,142.9 340.8,142.3 361.1,134.4 381.4,135.9 401.7,136.3 422.1,122.6 442.4,121.6 462.7,119.2 483.0,127.4"/>
<polyline class="c42" points="157.8,215.8 178.2,213.8 198.5,209.9 218.8,192.3 239.1,179.0 259.4,163.7 279.8,156.2 300.1,147.9 320.4,145.3 340.8,146.3 361.1,142.4 381.4,141.6 401.7,134.9 422.1,127.2 442.4,127.9 462.7,122.6 483.0,130.6"/>
<polyline class="c43" points="157.8,215.3 178.2,218.5 198.5,207.8 218.8,196.2 239.1,176.3 259.4,165.3 279.8,152.4 300.1,148.0 320.4,144.4 340.8,140.9 361.1,140.8 381.4,134.7 401.7,138.6 422.1,129.7 442.4,123.4 462.7,123.8 483.0,132.5"/>
<polyline class="c43" points="157.8,218.2 178.2,211.3 198.5,205.1 218.8,193.8 239.1,178.7 259.4,161.4 279.8,154.7 300.1,145.6 320.4,145.8 340.8,144.3 361.1,133.9 381.4,135.7 401.7,137.5 422.1,120.3 442.4,121.5 462.7,109.5 483.0,126.7"/>
<polyline class="c43" points="157.8,215.5 178.2,215.4 198.5,208.3 218.8,196.0 239.1,177.1 259.4,164.8 279.8,154.6 300.1,151.7 320.4,148.8 340.8,148.6 361.1,135.8 381.4,140.7 401.7,133.9 422.1,126.9 442.4,121.3 462.7,123.4 483.0,136.0 503.4,152.6"/>
<polyline class="c43" points="157.8,219.8 178.2,215.1 198.5,206.3 218.8,194.0 239.1,175.0 259.4,166.9 279.8,153.7 300.1,147.9 320.4,147.1 340.8,147.9 361.1,137.9 381.4,137.1 401.7,131.4 422.1,128.1 442.4,127.2 462.7,125.8 483.0,130.0"/>
<polyline class="c43" points="157.8,219.6 178.2,215.9 198.5,202.5 218.8,194.9 239.1,175.6 259.4,163.9 279.8,151.7 300.1,144.9 320.4,144.1 340.8,145.0 361.1,141.2 381.4,133.2 401.7,135.7 422.1,124.5 442.4,121.5 462.7,124.8 483.0,129.9"/>
<polyline class="c43" points="157.8,219.4 178.2,214.7 198.5,209.6 218.8,197.5 239.1,178.8 259.4,163.3 279.8,157.1 300.1,150.6 320.4,147.7 340.8,143.8 361.1,135.5 381.4,142.9 401.7,136.6 422.1,127.5 442.4,128.1 462.7,124.1 483.0,130.0"/>
<polyline class="c43" points="157.8,215.5 178.2,213.8 198.5,208.1 218.8,193.6 239.1,174.8 259.4,159.7 279.8,152.9 300.1,147.1 320.4,139.2 340.8,137.9 361.1,138.7 381.4,136.7 401.7,130.1 422.1,126.0 442.4,120.2 462.7,121.0 483.0,126.4"/>
<polyline class="c43" points="157.8,217.6 178.2,215.1 198.5,210.9 218.8,195.7 239.1,178.3 259.4,164.0 279.8,152.2 300.1,151.1 320.4,143.4 340.8,143.2 361.1,141.2 381.4,139.2 401.7,133.4 422.1,127.0 442.4,120.0 462.7,120.2 483.0,122.5"/>
<polyline class="c44" points="157.8,220.2 178.2,218.6 198.5,212.5 218.8,200.9 239.1,179.9 259.4,169.5 279.8,156.7 300.1,151.6 320.4,149.6 340.8,148.1 361.1,140.7 381.4,138.0 401.7,133.0 422.1,130.8 442.4,129.8 462.7,126.3 483.0,135.9"/>
<polyline class="c44" points="157.8,221.3 178.2,219.0 198.5,209.9 218.8,203.4 239.1,179.3 259.4,165.6 279.8,153.6 300.1,153.6 320.4,147.2 340.8,149.6 361.1,144.2 381.4,142.8 401.7,141.4 422.1,128.6 442.4,129.4 462.7,112.5 483.0,133.8"/>
<polyline class="c44" points="157.8,219.8 178.2,220.8 198.5,208.6 218.8,198.7 239.1,177.2 259.4,162.1 279.8,157.1 300.1,152.2 320.4,146.5 340.8,146.5 361.1,142.9 381.4,140.5 401.7,136.6 422.1,127.7 442.4,122.7 462.7,120.4 483.0,135.8"/>
<polyline class="c44" points="157.8,216.1 178.2,212.5 198.5,204.9 218.8,194.9 239.1,174.5 259.4,159.1 279.8,149.9 300.1,144.4 320.4,142.7 340.8,142.3 361.1,135.6 381.4,135.6 401.7,134.7 422.1,121.9 442.4,121.9 462.7,119.9 483.0,124.7"/>
<polyline class="c44" points="157.8,217.9 178.2,218.1 198.5,209.3 218.8,197.0 239.1,181.0 259.4,164.0 279.8,159.4 300.1,154.7 320.4,149.2 340.8,146.7 361.1,142.2 381.4,138.6 401.7,137.6 422.1,125.2 442.4,122.5 462.7,127.6 483.0,129.4"/>
<polyline class="c44" points="157.8,218.9 178.2,216.0 198.5,205.4 218.8,198.2 239.1,178.0 259.4,165.0 279.8,152.2 300.1,146.3 320.4,143.4 340.8,141.5 361.1,137.2 381.4,137.5 401.7,136.9 422.1,124.5 442.4,123.5 462.7,124.9 483.0,127.9"/>
<polyline class="c44" points="157.8,221.4 178.2,219.1 198.5,210.3 218.8,199.8 239.1,178.1 259.4,164.5 279.8,151.6 300.1,145.0 320.4,144.8 340.8,145.4 361.1,141.0 381.4,139.8 401.7,142.9 422.1,131.2 442.4,123.2 462.7,128.8 483.0,130.0"/>
<polyline class="c44" points="157.8,217.8 178.2,216.4 198.5,210.3 218.8,199.3 239.1,180.4 259.4,167.2 279.8,157.5 300.1,149.6 320.4,151.3 340.8,145.1 361.1,138.6 381.4,135.0 401.7,136.0 422.1,127.6 442.4,124.3 462.7,122.4 483.0,132.5 503.4,154.0"/>
<polyline class="c44" points="157.8,220.7 178.2,219.4 198.5,208.6 218.8,195.8 239.1,174.7 259.4,165.2 279.8,156.1 300.1,149.3 320.4,144.9 340.8,143.1 361.1,136.5 381.4,138.5 401.7,135.8 422.1,123.2 442.4,122.4 462.7,123.7 483.0,132.2 503.4,149.6"/>
<polyline class="c45" points="157.8,221.5 178.2,217.6 198.5,211.5 218.8,199.0 239.1,178.1 259.4,166.3 279.8,157.4 300.1,150.4 320.4,148.9 340.8,145.0 361.1,142.7 381.4,140.8 401.7,138.4 422.1,133.6 442.4,119.6 462.7,123.0 483.0,136.4"/>
<polyline class="c45" points="157.8,219.7 178.2,219.3 198.5,210.9 218.8,198.2 239.1,180.3 259.4,164.0 279.8,157.1 300.1,150.5 320.4,146.4 340.8,142.4 361.1,140.1 381.4,139.8 401.7,132.5 422.1,129.6 442.4,121.8 462.7,127.5 483.0,131.1"/>
<polyline class="c45" points="157.8,221.1 178.2,218.7 198.5,206.5 218.8,192.8 239.1,176.6 259.4,168.4 279.8,149.3 300.1,156.2 320.4,149.2 340.8,142.3 361.1,141.7 381.4,135.5 401.7,139.6 422.1,127.8 442.4,120.4 462.7,120.0 483.0,132.5"/>
<polyline class="c45" points="157.8,218.6 178.2,218.3 198.5,208.4 218.8,200.8 239.1,179.7 259.4,162.3 279.8,156.8 300.1,150.8 320.4,151.0 340.8,145.9 361.1,139.0 381.4,143.9 401.7,136.3 422.1,127.0 442.4,124.5 462.7,109.8 483.0,130.9"/>
<polyline class="c45" points="157.8,221.1 178.2,220.1 198.5,213.3 218.8,203.1 239.1,180.2 259.4,164.7 279.8,157.3 300.1,148.5 320.4,150.1 340.8,149.3 361.1,138.3 381.4,140.5 401.7,138.7 422.1,131.8 442.4,126.3 462.7,124.1 483.0,133.2"/>
<polyline class="c45" points="157.8,223.7 178.2,217.6 198.5,208.4 218.8,199.3 239.1,181.4 259.4,164.0 279.8,155.6 300.1,152.4 320.4,144.2 340.8,150.0 361.1,140.1 381.4,140.8 401.7,137.7 422.1,129.9 442.4,130.0 462.7,122.1 483.0,135.0"/>
<polyline class="c45" points="157.8,216.4 178.2,219.0 198.5,206.9 218.8,201.3 239.1,180.6 259.4,162.3 279.8,159.6 300.1,149.4 320.4,147.4 340.8,146.5 361.1,139.5 381.4,138.0 401.7,135.3 422.1,130.1 442.4,125.7 462.7,124.0 483.0,134.4"/>
<polyline class="c45" points="157.8,223.0 178.2,220.5 198.5,212.6 218.8,202.9 239.1,183.2 259.4,173.2 279.8,158.6 300.1,154.8 320.4,146.0 340.8,146.3 361.1,142.3 381.4,139.9 401.7,137.3 422.1,134.7 442.4,126.3 462.7,127.0 483.0,135.9"/>
<polyline class="c45" points="157.8,222.5 178.2,214.7 198.5,211.4 218.8,199.4 239.1,180.8 259.4,168.5 279.8,160.2 300.1,155.1 320.4,149.2 340.8,143.5 361.1,138.7 381.4,139.3 401.7,136.9 422.1,128.7 442.4,121.4 462.7,122.0 483.0,131.5"/>
<polyline class="c46" points="157.8,220.6 178.2,217.6 198.5,211.6 218.8,199.5 239.1,182.9 259.4,172.1 279.8,158.5 300.1,148.5 320.4,151.6 340.8,143.9 361.1,142.7 381.4,141.7 401.7,141.3 422.1,130.2 442.4,128.0 462.7,121.7 483.0,132.8 503.4,152.0 523.7,149.7 544.0,145.5"/>
<polyline class="c46" points="157.8,217.0 178.2,215.1 198.5,212.0 218.8,198.6 239.1,178.2 259.4,166.9 279.8,149.8 300.1,147.6 320.4,145.8 340.8,143.1 361.1,139.4 381.4,140.4 401.7,137.2 422.1,125.9 442.4,125.4 462.7,123.5 483.0,134.8"/>
<polyline class="c46" points="157.8,221.0 178.2,219.7 198.5,211.9 218.8,200.7 239.1,182.8 259.4,166.1 279.8,161.6 300.1,150.6 320.4,150.3 340.8,145.6 361.1,142.2 381.4,137.5 401.7,134.2 422.1,131.2 442.4,125.6 462.7,125.8 483.0,131.5"/>
<polyline class="c46" points="157.8,222.2 178.2,218.9 198.5,207.0 218.8,200.1 239.1,179.0 259.4,164.9 279.8,157.3 300.1,152.6 320.4,145.9 340.8,148.6 361.1,126.3 381.4,131.9 401.7,132.9 422.1,127.0 442.4,123.6 462.7,113.1 483.0,131.4"/>
<polyline class="c46" points="157.8,224.6 178.2,222.5 198.5,208.0 218.8,201.8 239.1,183.0 259.4,169.2 279.8,163.6 300.1,150.8 320.4,150.1 340.8,144.5 361.1,146.5 381.4,143.1 401.7,139.0 422.1,133.8 442.4,124.5 462.7,121.5 483.0,140.5"/>
<polyline class="c46" points="157.8,223.5 178.2,221.8 198.5,214.8 218.8,205.7 239.1,183.8 259.4,169.9 279.8,159.1 300.1,153.6 320.4,153.8 340.8,153.5 361.1,149.0 381.4,144.1 401.7,141.2 422.1,133.2 442.4,128.3 462.7,109.9 483.0,136.6 503.4,146.9"/>
<polyline class="c46" points="157.8,219.1 178.2,215.0 198.5,208.2 218.8,196.7 239.1,181.6 259.4,166.4 279.8,157.6 300.1,149.3 320.4,146.8 340.8,144.7 361.1,139.0 381.4,126.5 401.7,135.3 422.1,127.0 442.4,124.4 462.7,122.7 483.0,130.0"/>
<polyline class="c46" points="157.8,225.2 178.2,220.8 198.5,212.3 218.8,202.4 239.1,183.8 259.4,172.3 279.8,160.8 300.1,152.3 320.4,150.9 340.8,150.1 361.1,148.3 381.4,139.4 401.7,135.2 422.1,132.9 442.4,128.6 462.7,126.3 483.0,135.5"/>
<polyline class="c46" points="157.8,222.7 178.2,217.0 198.5,208.3 218.8,202.5 239.1,181.3 259.4,166.8 279.8,163.7 300.1,152.1 320.4,153.1 340.8,142.9 361.1,145.8 381.4,140.3 401.7,126.3 422.1,131.0 442.4,123.4 462.7,131.2 483.0,137.7 503.4,147.3"/>
<polyline class="c47" points="157.8,219.9 178.2,215.6 198.5,210.0 218.8,198.1 239.1,179.2 259.4,167.5 279.8,161.0 300.1,151.0 320.4,149.6 340.8,144.0 361.1,143.1 381.4,137.8 401.7,137.8 422.1,131.5 442.4,125.4 462.7,125.8 483.0,131.5"/>
<polyline class="c47" points="157.8,215.8 178.2,220.1 198.5,208.8 218.8,198.8 239.1,181.2 259.4,164.7 279.8,155.7 300.1,150.7 320.4,145.4 340.8,145.9 361.1,138.1 381.4,137.5 401.7,131.9 422.1,127.7 442.4,125.2 462.7,121.6 483.0,134.2 503.4,150.4"/>
<polyline class="c47" points="157.8,225.3 178.2,221.5 198.5,214.5 218.8,205.7 239.1,187.7 259.4,175.5 279.8,164.1 300.1,155.2 320.4,155.9 340.8,153.3 361.1,139.8 381.4,142.5 401.7,140.4 422.1,135.2 442.4,129.7 462.7,129.0 483.0,144.5"/>
<polyline class="c47" points="157.8,223.1 178.2,221.7 198.5,213.1 218.8,204.1 239.1,185.4 259.4,170.1 279.8,161.7 300.1,154.4 320.4,153.9 340.8,149.6 361.1,144.8 381.4,143.7 401.7,140.4 422.1,129.9 442.4,130.4 462.7,129.1 483.0,133.5"/>
<polyline class="c47" points="157.8,222.3 178.2,220.9 198.5,212.8 218.8,201.5 239.1,183.2 259.4,169.7 279.8,159.0 300.1,153.4 320.4,151.7 340.8,145.7 361.1,142.2 381.4,142.9 401.7,141.9 422.1,130.2 442.4,127.6 462.7,131.0 483.0,136.1"/>
<polyline class="c47" points="157.8,222.4 178.2,219.7 198.5,209.3 218.8,203.2 239.1,176.6 259.4,169.8 279.8,155.5 300.1,148.3 320.4,149.7 340.8,143.2 361.1,140.8 381.4,140.0 401.7,141.5 422.1,131.5 442.4,127.0 462.7,123.9 483.0,133.0"/>
<polyline class="c47" points="157.8,219.7 178.2,219.0 198.5,211.7 218.8,198.6 239.1,182.0 259.4,165.1 279.8,164.1 300.1,149.7 320.4,151.0 340.8,144.0 361.1,144.0 381.4,134.2 401.7,136.6 422.1,126.6 442.4,128.6 462.7,108.6 483.0,136.2"/>
<polyline class="c47" points="157.8,225.6 178.2,220.4 198.5,212.6 218.8,202.1 239.1,179.9 259.4,169.4 279.8,158.6 300.1,155.4 320.4,150.2 340.8,147.3 361.1,145.7 381.4,142.6 401.7,139.9 422.1,129.5 442.4,129.0 462.7,123.5 483.0,137.2"/>
<polyline class="c47" points="157.8,222.3 178.2,223.8 198.5,214.8 218.8,201.6 239.1,187.0 259.4,171.8 279.8,162.0 300.1,156.5 320.4,150.1 340.8,150.4 361.1,145.8 381.4,143.3 401.7,138.9 422.1,136.3 442.4,125.6 462.7,130.4 483.0,134.0"/>
<polyline class="c48" points="157.8,228.1 178.2,224.6 198.5,217.9 218.8,207.6 239.1,188.2 259.4,173.9 279.8,163.0 300.1,157.9 320.4,152.0 340.8,148.5 361.1,148.0 381.4,147.8 401.7,143.1 422.1,121.3 442.4,136.3 462.7,135.1 483.0,139.0"/>
<polyline class="c48" points="157.8,227.8 178.2,221.1 198.5,212.7 218.8,203.9 239.1,186.4 259.4,171.4 279.8,169.9 300.1,147.9 320.4,150.7 340.8,147.0 361.1,147.6 381.4,142.5 401.7,142.5 422.1,135.9 442.4,129.6 462.7,124.9 483.0,136.2"/>
<polyline class="c48" points="157.8,219.5 178.2,220.8 198.5,209.8 218.8,203.6 239.1,182.4 259.4,167.4 279.8,161.0 300.1,150.4 320.4,149.6 340.8,144.6 361.1,144.9 381.4,139.7 401.7,136.3 422.1,130.3 442.4,127.6 462.7,126.2 483.0,129.0"/>
<polyline class="c48" points="157.8,222.8 178.2,219.0 198.5,210.6 218.8,204.7 239.1,185.4 259.4,167.1 279.8,158.3 300.1,153.7 320.4,151.1 340.8,149.6 361.1,141.5 381.4,144.7 401.7,137.0 422.1,128.1 442.4,125.3 462.7,133.3 483.0,134.5"/>
<polyline class="c48" points="157.8,223.8 178.2,220.5 198.5,213.8 218.8,205.1 239.1,184.5 259.4,171.4 279.8,162.1 300.1,150.6 320.4,149.8 340.8,149.4 361.1,143.2 381.4,136.3 401.7,123.9 422.1,130.6 442.4,126.3 462.7,124.9 483.0,134.5"/>
<polyline class="c48" points="157.8,228.2 178.2,221.4 198.5,218.5 218.8,209.8 239.1,189.9 259.4,172.6 279.8,170.1 300.1,157.6 320.4,149.3 340.8,155.6 361.1,147.7 381.4,143.5 401.7,127.4 422.1,137.7 442.4,128.2 462.7,135.4 483.0,133.8"/>
<polyline class="c48" points="157.8,225.0 178.2,224.5 198.5,219.1 218.8,212.6 239.1,188.9 259.4,173.5 279.8,165.0 300.1,157.8 320.4,155.2 340.8,151.4 361.1,150.2 381.4,145.5 401.7,145.0 422.1,137.1 442.4,134.1 462.7,130.9 483.0,143.2"/>
<polyline class="c48" points="157.8,228.4 178.2,225.5 198.5,217.0 218.8,208.6 239.1,187.5 259.4,176.3 279.8,165.5 300.1,159.4 320.4,157.6 340.8,151.7 361.1,146.7 381.4,148.5 401.7,139.4 422.1,136.4 442.4,128.9 462.7,131.2 483.0,138.1 503.4,154.6"/>
<polyline class="c48" points="157.8,226.7 178.2,228.2 198.5,215.7 218.8,209.4 239.1,189.4 259.4,175.7 279.8,165.0 300.1,159.5 320.4,156.8 340.8,150.9 361.1,144.7 381.4,141.1 401.7,142.4 422.1,134.3 442.4,133.8 462.7,111.7 483.0,135.4"/>
<polyline class="c49" points="157.8,229.8 178.2,225.6 198.5,216.6 218.8,208.6 239.1,190.8 259.4,169.8 279.8,165.4 300.1,156.7 320.4,154.9 340.8,143.3 361.1,148.3 381.4,150.0 401.7,140.7 422.1,138.9 442.4,129.6 462.7,124.1 483.0,139.0"/>
<polyline class="c49" points="157.8,223.2 178.2,221.7 198.5,213.8 218.8,209.2 239.1,188.5 259.4,175.1 279.8,161.3 300.1,156.7 320.4,153.8 340.8,146.6 361.1,146.2 381.4,140.5 401.7,143.7 422.1,130.5 442.4,132.6 462.7,130.2 483.0,139.6"/>
<polyline class="c49" points="157.8,230.7 178.2,226.0 198.5,220.4 218.8,211.6 239.1,193.5 259.4,172.6 279.8,170.7 300.1,162.2 320.4,155.0 340.8,151.1 361.1,141.1 381.4,143.0 401.7,143.4 422.1,141.9 442.4,132.9 462.7,104.9 483.0,137.8"/>
<polyline class="c49" points="157.8,227.9 178.2,230.7 198.5,223.3 218.8,212.8 239.1,193.5 259.4,180.5 279.8,166.2 300.1,161.9 320.4,155.6 340.8,157.0 361.1,148.8 381.4,148.0 401.7,149.6 422.1,134.2 442.4,132.7 462.7,136.6 483.0,140.1"/>
<polyline class="c49" points="157.8,224.2 178.2,225.5 198.5,219.4 218.8,211.0 239.1,188.6 259.4,170.9 279.8,166.3 300.1,158.6 320.4,153.2 340.8,151.5 361.1,152.7 381.4,145.5 401.7,143.7 422.1,132.1 442.4,133.2 462.7,132.5 483.0,138.0"/>
<polyline class="c49" points="157.8,229.1 178.2,227.2 198.5,220.7 218.8,210.4 239.1,196.1 259.4,175.0 279.8,166.8 300.1,161.0 320.4,157.9 340.8,153.0 361.1,149.7 381.4,142.9 401.7,151.8 422.1,124.6 442.4,137.4 462.7,134.6 483.0,145.2"/>
<polyline class="c49" points="157.8,226.6 178.2,228.3 198.5,217.6 218.8,211.0 239.1,192.7 259.4,172.4 279.8,169.2 300.1,160.7 320.4,153.3 340.8,150.1 361.1,148.3 381.4,149.2 401.7,144.3 422.1,138.7 442.4,137.7 462.7,138.8 483.0,134.2"/>
<polyline class="c49" points="157.8,229.6 178.2,226.9 198.5,223.6 218.8,213.1 239.1,193.2 259.4,175.2 279.8,166.5 300.1,161.9 320.4,155.3 340.8,152.1 361.1,148.2 381.4,146.7 401.7,146.5 422.1,139.9 442.4,133.8 462.7,134.6 483.0,139.0"/>
<polyline class="c50" points="157.8,229.2 178.2,227.9 198.5,221.0 218.8,212.8 239.1,197.4 259.4,175.1 279.8,164.1 300.1,163.0 320.4,157.9 340.8,153.4 361.1,154.0 381.4,147.6 401.7,147.2 422.1,135.2 442.4,134.0 462.7,136.0 483.0,143.9"/>
<polyline class="c50" points="157.8,231.2 178.2,226.8 198.5,224.2 218.8,212.4 239.1,196.6 259.4,167.7 279.8,172.2 300.1,159.5 320.4,160.8 340.8,159.4 361.1,150.9 381.4,144.0 401.7,152.4 422.1,138.5 442.4,137.4 462.7,130.9 483.0,141.4"/>
<polyline class="c50" points="157.8,225.3 178.2,227.7 198.5,216.4 218.8,208.3 239.1,194.7 259.4,175.2 279.8,166.3 300.1,157.3 320.4,154.8 340.8,151.0 361.1,145.3 381.4,142.8 401.7,142.8 422.1,135.9 442.4,129.7 462.7,129.6 483.0,140.6"/>
<polyline class="c50" points="157.8,226.5 178.2,229.9 198.5,221.4 218.8,212.0 239.1,194.2 259.4,174.1 279.8,167.2 300.1,160.7 320.4,153.8 340.8,152.5 361.1,149.6 381.4,146.7 401.7,141.2 422.1,136.8 442.4,131.1 462.7,128.6 483.0,140.9"/>
<polyline class="c50" points="157.8,225.7 178.2,230.4 198.5,219.1 218.8,208.7 239.1,195.0 259.4,174.3 279.8,168.6 300.1,160.3 320.4,152.6 340.8,152.1 361.1,147.9 381.4,152.7 401.7,147.5 422.1,137.1 442.4,128.9 462.7,134.0 483.0,139.1"/>
<polyline class="c50" points="157.8,227.2 178.2,228.9 198.5,221.2 218.8,208.6 239.1,191.7 259.4,172.5 279.8,173.3 300.1,161.8 320.4,154.6 340.8,149.0 361.1,146.2 381.4,147.9 401.7,143.6 422.1,141.7 442.4,133.3 462.7,122.6 483.0,140.8"/>
<polyline class="c50" points="157.8,229.5 178.2,230.6 198.5,222.4 218.8,218.1 239.1,196.3 259.4,183.7 279.8,169.0 300.1,166.8 320.4,159.3 340.8,155.3 361.1,152.0 381.4,146.7 401.7,148.3 422.1,142.0 442.4,135.0 462.7,139.0 483.0,142.3"/>
<polyline class="c50" points="157.8,227.0 178.2,232.1 198.5,224.1 218.8,212.0 239.1,196.5 259.4,180.8 279.8,165.0 300.1,167.4 320.4,154.9 340.8,155.8 361.1,149.4 381.4,135.7 401.7,141.2 422.1,139.9 442.4,132.1 462.7,132.8"/>
<polyline class="c50" points="157.8,232.9 178.2,231.5 198.5,223.4 218.8,213.7 239.1,196.5 259.4,172.6 279.8,169.6 300.1,164.9 320.4,161.6 340.8,154.8 361.1,150.6 381.4,153.0 401.7,147.1 422.1,136.4 442.4,137.4 462.7,135.4"/>
<polyline class="c51" points="157.8,233.4 178.2,231.4 198.5,220.9 218.8,216.1 239.1,199.5 259.4,181.8 279.8,170.1 300.1,167.2 320.4,159.4 340.8,157.5 361.1,147.1 381.4,148.1 401.7,145.4 422.1,144.3 442.4,133.8 462.7,138.0 483.0,143.8"/>
<polyline class="c51" points="157.8,234.7 178.2,233.7 198.5,222.1 218.8,218.2 239.1,196.0 259.4,180.4 279.8,167.2 300.1,161.6 320.4,155.1 340.8,157.3 361.1,149.3 381.4,148.8 401.7,147.8 422.1,138.8 442.4,136.9 462.7,140.3 483.0,144.4"/>
<polyline class="c51" points="157.8,227.7 178.2,225.9 198.5,222.8 218.8,214.8 239.1,196.2 259.4,180.7 279.8,169.7 300.1,154.6 320.4,157.5 340.8,147.5 361.1,147.1 381.4,144.9 401.7,144.4 422.1,140.0 442.4,138.0 462.7,135.8 483.0,142.4"/>
<polyline class="c51" points="157.8,230.2 178.2,231.5 198.5,229.6 218.8,215.6 239.1,195.5 259.4,182.6 279.8,172.8 300.1,160.4 320.4,161.3 340.8,155.2 361.1,150.2 381.4,149.1 401.7,146.2 422.1,141.5 442.4,136.5 462.7,135.4 483.0,144.4"/>
<polyline class="c51" points="157.8,229.7 178.2,231.0 198.5,221.4 218.8,211.4 239.1,195.0 259.4,179.1 279.8,167.5 300.1,159.0 320.4,155.7 340.8,152.5 361.1,143.7 381.4,142.1 401.7,146.1 422.1,137.8 442.4,131.3 462.7,129.6 483.0,140.6"/>
<polyline class="c51" points="157.8,234.6 178.2,233.0 198.5,224.4 218.8,215.8 239.1,200.5 259.4,183.9 279.8,167.9 300.1,161.2 320.4,159.1 340.8,151.0 361.1,150.0 381.4,146.7 401.7,148.0 422.1,143.2 442.4,138.7 462.7,136.3 483.0,140.3"/>
<polyline class="c51" points="157.8,230.6 178.2,232.5 198.5,226.4 218.8,219.0 239.1,200.3 259.4,175.2 279.8,171.9 300.1,160.5 320.4,156.4 340.8,155.0 361.1,145.9 381.4,150.6 401.7,147.5 422.1,142.2 442.4,140.1 462.7,137.6 483.0,140.3"/>
<polyline class="c51" points="157.8,233.3 178.2,233.3 198.5,224.1 218.8,215.1 239.1,200.0 259.4,180.8 279.8,168.0 300.1,161.8 320.4,158.2 340.8,156.2 361.1,146.2 381.4,147.1 401.7,147.4 422.1,138.3 442.4,136.1 462.7,134.9 483.0,141.8"/>
<polyline class="c51" points="157.8,235.3 178.2,233.0 198.5,225.9 218.8,215.8 239.1,200.0 259.4,180.9 279.8,162.6 300.1,160.0 320.4,159.4 340.8,155.7 361.1,154.6 381.4,144.7 401.7,142.4 422.1,139.2 442.4,135.0 462.7,139.8 483.0,143.0"/>
<polyline class="c52" points="157.8,232.8 178.2,236.0 198.5,226.8 218.8,216.2 239.1,200.0 259.4,178.2 279.8,169.0 300.1,167.8 320.4,162.2 340.8,161.8 361.1,151.6 381.4,142.5 401.7,148.3 422.1,137.4 442.4,126.9 462.7,132.6 483.0,138.1"/>
<polyline class="c52" points="157.8,234.2 178.2,235.6 198.5,226.0 218.8,223.1 239.1,205.6 259.4,184.0 279.8,171.4 300.1,165.8 320.4,158.3 340.8,156.9 361.1,153.6 381.4,149.3 401.7,151.0 422.1,142.2 442.4,136.9 462.7,137.7 483.0,134.7"/>
<polyline class="c52" points="157.8,226.9 178.2,233.3 198.5,225.8 218.8,214.6 239.1,201.5 259.4,179.8 279.8,171.5 300.1,165.1 320.4,158.8 340.8,155.5 361.1,152.0 381.4,150.4 401.7,146.4 422.1,139.7 442.4,116.9 462.7,135.6 483.0,141.0"/>
<polyline class="c52" points="157.8,235.9 178.2,236.9 198.5,224.6 218.8,219.7 239.1,202.5 259.4,181.2 279.8,175.2 300.1,166.6 320.4,158.5 340.8,157.6 361.1,152.2 381.4,145.5 401.7,146.6 422.1,141.2 442.4,137.8 462.7,137.7 483.0,145.4"/>
<polyline class="c52" points="157.8,233.8 178.2,233.5 198.5,227.6 218.8,222.2 239.1,203.1 259.4,182.8 279.8,174.1 300.1,161.3 320.4,154.8 340.8,157.2 361.1,152.8 381.4,157.6 401.7,152.0 422.1,142.1 442.4,129.0 462.7,135.3 483.0,146.8"/>
<polyline class="c52" points="157.8,235.6 178.2,234.7 198.5,229.3 218.8,218.2 239.1,200.7 259.4,179.1 279.8,166.0 300.1,164.9 320.4,156.3 340.8,158.6 361.1,141.9 381.4,150.1 401.7,149.9 422.1,140.7 442.4,140.7 462.7,136.1 483.0,146.6"/>
<polyline class="c52" points="157.8,237.6 178.2,239.0 198.5,225.2 218.8,222.4 239.1,205.8 259.4,183.1 279.8,177.6 300.1,167.3 320.4,163.9 340.8,155.4 361.1,152.5 381.4,149.6 401.7,150.2 422.1,146.7 442.4,139.0 462.7,139.5 483.0,140.7"/>
<polyline class="c52" points="157.8,236.8 178.2,234.4 198.5,227.7 218.8,220.1 239.1,201.8 259.4,184.9 279.8,172.3 300.1,159.0 320.4,161.1 340.8,162.1 361.1,163.9 381.4,153.0 401.7,150.9 422.1,146.9 442.4,145.4 462.7,137.5 483.0,147.7"/>
<polyline class="c52" points="157.8,233.4 178.2,235.2 198.5,228.5 218.8,218.7 239.1,203.0 259.4,182.4 279.8,171.8 300.1,165.5 320.4,159.0 340.8,153.7 361.1,150.8 381.4,148.1 401.7,148.9 422.1,139.2 442.4,135.7 462.7,137.2 483.0,145.6"/>
<polyline class="c53" points="157.8,238.9 178.2,239.9 198.5,234.1 218.8,221.1 239.1,206.2 259.4,184.4 279.8,174.5 300.1,167.2 320.4,163.7 340.8,156.7 361.1,153.1 381.4,153.8 401.7,152.5 422.1,141.7 442.4,135.8 462.7,146.7 483.0,146.2"/>
<polyline class="c53" points="157.8,242.2 178.2,238.2 198.5,234.5 218.8,227.5 239.1,209.7 259.4,186.6 279.8,170.8 300.1,168.7 320.4,162.1 340.8,157.6 361.1,156.9 381.4,158.7 401.7,148.4 422.1,144.9 442.4,143.1 462.7,142.9 483.0,149.2"/>
<polyline class="c53" points="157.8,237.7 178.2,238.6 198.5,230.1 218.8,224.2 239.1,206.2 259.4,180.3 279.8,172.1 300.1,161.5 320.4,162.8 340.8,158.6 361.1,152.4 381.4,151.7 401.7,154.5 422.1,139.6 442.4,137.8 462.7,135.4 483.0,139.6"/>
<polyline class="c53" points="157.8,236.1 178.2,234.4 198.5,229.0 218.8,219.0 239.1,205.8 259.4,178.8 279.8,167.9 300.1,163.5 320.4,162.6 340.8,151.4 361.1,155.0 381.4,151.8 401.7,151.7 422.1,140.1 442.4,130.1 462.7,121.9 483.0,141.9"/>
<polyline class="c53" points="157.8,239.3 178.2,234.7 198.5,232.6 218.8,223.9 239.1,207.8 259.4,180.1 279.8,177.6 300.1,168.6 320.4,160.7 340.8,160.0 361.1,154.7 381.4,154.3 401.7,141.0 422.1,142.8 442.4,137.0 462.7,138.0 483.0,147.5"/>
<polyline class="c53" points="157.8,240.6 178.2,241.6 198.5,232.1 218.8,224.7 239.1,211.9 259.4,180.3 279.8,178.7 300.1,173.3 320.4,169.3 340.8,158.5 361.1,147.8 381.4,153.1 401.7,152.7 422.1,144.2 442.4,147.0 462.7,134.6 483.0,152.1"/>
<polyline class="c53" points="157.8,230.7 178.2,233.7 198.5,227.7 218.8,221.1 239.1,205.4 259.4,174.5 279.8,170.5 300.1,165.1 320.4,154.5 340.8,160.0 361.1,155.0 381.4,152.7 401.7,132.7 422.1,139.2 442.4,141.9 462.7,139.3 483.0,147.2"/>
<polyline class="c53" points="157.8,237.5 178.2,242.0 198.5,231.8 218.8,228.5 239.1,210.2 259.4,189.7 279.8,171.1 300.1,165.4 320.4,161.3 340.8,157.9 361.1,156.3 381.4,161.5 401.7,150.5 422.1,140.3 442.4,141.0 462.7,140.7 483.0,140.2"/>
<polyline class="c53" points="157.8,235.8 178.2,237.0 198.5,232.1 218.8,219.5 239.1,208.0 259.4,182.8 279.8,175.7 300.1,170.3 320.4,161.3 340.8,157.3 361.1,155.0 381.4,146.4 401.7,150.5 422.1,136.8 442.4,142.6 462.7,134.8"/>
<polyline class="c54" points="157.8,239.8 178.2,237.4 198.5,235.2 218.8,223.7 239.1,213.8 259.4,185.7 279.8,176.5 300.1,167.2 320.4,166.2 340.8,164.2 361.1,154.8 381.4,155.3 401.7,149.9 422.1,143.8 442.4,127.3 462.7,143.5 483.0,149.2"/>
<polyline class="c54" points="157.8,238.4 178.2,240.6 198.5,234.5 218.8,226.5 239.1,215.8 259.4,190.1 279.8,183.7 300.1,163.2 320.4,166.2 340.8,161.7 361.1,158.8 381.4,153.5 401.7,153.8 422.1,149.2 442.4,141.7 462.7,146.9 483.0,153.5"/>
<polyline class="c54" points="157.8,240.5 178.2,244.5 198.5,234.8 218.8,229.4 239.1,212.6 259.4,190.0 279.8,178.2 300.1,176.4 320.4,163.5 340.8,162.6 361.1,160.1 381.4,158.6 401.7,158.6 422.1,150.3 442.4,143.7 462.7,140.9 483.0,147.7"/>
<polyline class="c54" points="157.8,242.0 178.2,237.8 198.5,230.2 218.8,227.1 239.1,210.0 259.4,184.3 279.8,167.4 300.1,166.7 320.4,160.6 340.8,159.0 361.1,160.8 381.4,150.8 401.7,152.3 422.1,142.9 442.4,144.8 462.7,136.2 483.0,143.7"/>
<polyline class="c54" points="157.8,237.8 178.2,242.6 198.5,233.1 218.8,226.3 239.1,211.7 259.4,186.4 279.8,173.9 300.1,167.0 320.4,166.1 340.8,162.3 361.1,149.9 381.4,152.5 401.7,148.0 422.1,143.1 442.4,143.1 462.7,147.6 483.0,149.6"/>
<polyline class="c54" points="157.8,240.8 178.2,241.8 198.5,233.4 218.8,227.6 239.1,212.5 259.4,184.7 279.8,174.3 300.1,170.9 320.4,170.7 340.8,159.0 361.1,158.3 381.4,148.0 401.7,156.6 422.1,149.6 442.4,147.6 462.7,144.5 483.0,151.5"/>
<polyline class="c54" points="157.8,243.3 178.2,240.5 198.5,235.9 218.8,225.2 239.1,214.0 259.4,181.2 279.8,176.9 300.1,170.1 320.4,165.9 340.8,162.9 361.1,153.7 381.4,151.9 401.7,152.5 422.1,139.3 442.4,140.3 462.7,151.9 483.0,146.3"/>
<polyline class="c54" points="157.8,238.9 178.2,242.6 198.5,234.4 218.8,228.9 239.1,213.2 259.4,191.8 279.8,177.2 300.1,167.3 320.4,162.9 340.8,157.7 361.1,156.1 381.4,151.5 401.7,154.2 422.1,148.4 442.4,145.4 462.7,140.1 483.0,146.1"/>
<polyline class="c55" points="157.8,241.2 178.2,242.1 198.5,237.4 218.8,228.5 239.1,213.2 259.4,187.2 279.8,175.8 300.1,168.7 320.4,166.8 340.8,165.5 361.1,157.2 381.4,153.8 401.7,153.3 422.1,147.6 442.4,146.3 462.7,142.2 483.0,153.6"/>
<polyline class="c55" points="157.8,240.5 178.2,244.2 198.5,233.5 218.8,229.0 239.1,213.7 259.4,181.7 279.8,179.9 300.1,171.4 320.4,162.9 340.8,157.4 361.1,163.6 381.4,154.2 401.7,154.9 422.1,149.4 442.4,120.9 462.7,146.3 483.0,150.2"/>
<polyline class="c55" points="157.8,240.8 178.2,241.5 198.5,237.3 218.8,227.8 239.1,213.9 259.4,191.9 279.8,186.3 300.1,171.4 320.4,165.1 340.8,160.9 361.1,160.5 381.4,141.1 401.7,155.2 422.1,149.1 442.4,142.2 462.7,142.5 483.0,147.8"/>
<polyline class="c55" points="157.8,242.4 178.2,237.9 198.5,236.0 218.8,224.9 239.1,208.5 259.4,186.1 279.8,175.0 300.1,168.8 320.4,159.2 340.8,164.6 361.1,155.0 381.4,151.6 401.7,152.9 422.1,149.4 442.4,148.3 462.7,131.3 483.0,146.0"/>
<polyline class="c55" points="157.8,239.2 178.2,238.8 198.5,233.1 218.8,226.1 239.1,212.6 259.4,182.2 279.8,183.7 300.1,169.4 320.4,164.8 340.8,157.7 361.1,140.6 381.4,150.6 401.7,150.5 422.1,144.1 442.4,134.0 462.7,142.7 483.0,127.8"/>
<polyline class="c55" points="157.8,240.6 178.2,240.1 198.5,236.9 218.8,228.0 239.1,216.0 259.4,187.8 279.8,174.5 300.1,171.4 320.4,170.7 340.8,161.0 361.1,158.7 381.4,151.3 401.7,154.2 422.1,134.8 442.4,149.1 462.7,144.9 483.0,140.7"/>
<polyline class="c55" points="157.8,244.1 178.2,244.9 198.5,238.5 218.8,232.0 239.1,217.6 259.4,190.1 279.8,175.1 300.1,175.0 320.4,161.6 340.8,165.6 361.1,159.9 381.4,156.8 401.7,159.4 422.1,149.4 442.4,144.4 462.7,148.3 483.0,159.0"/>
<polyline class="c55" points="157.8,242.8 178.2,245.2 198.5,237.3 218.8,228.7 239.1,215.0 259.4,185.4 279.8,176.4 300.1,168.6 320.4,164.3 340.8,156.8 361.1,157.8 381.4,154.2 401.7,149.1 422.1,146.7 442.4,145.1 462.7,137.9 483.0,149.0"/>
<polyline class="c55" points="157.8,243.0 178.2,244.9 198.5,233.8 218.8,229.8 239.1,215.4 259.4,187.1 279.8,177.0 300.1,166.7 320.4,166.0 340.8,162.9 361.1,157.3 381.4,156.0 401.7,156.2 422.1,144.4 442.4,146.5 462.7,145.7"/>
<polyline class="c55" points="157.8,241.4 178.2,237.3 198.5,238.3 218.8,228.3 239.1,215.9 259.4,189.9 279.8,182.8 300.1,172.3 320.4,159.8 340.8,159.8 361.1,163.3 381.4,150.5 401.7,151.0 422.1,153.3 442.4,143.5 462.7,140.0"/>
<polyline class="c55" points="157.8,237.3 178.2,242.7 198.5,232.4 218.8,228.9 239.1,213.2 259.4,191.0 279.8,178.6 300.1,169.7 320.4,164.5 340.8,156.4 361.1,156.8 381.4,153.2 401.7,151.2 422.1,140.1 442.4,139.7 462.7,142.4"/>
<polyline class="c56" points="157.8,243.2 178.2,246.8 198.5,240.9 218.8,231.9 239.1,216.9 259.4,193.6 279.8,180.9 300.1,167.6 320.4,169.4 340.8,165.5 361.1,162.4 381.4,155.4 401.7,155.1 422.1,148.9 442.4,142.7 462.7,145.4 483.0,149.4"/>
<polyline class="c56" points="157.8,246.8 178.2,245.3 198.5,238.9 218.8,232.4 239.1,220.8 259.4,196.6 279.8,181.6 300.1,171.6 320.4,173.0 340.8,168.3 361.1,162.1 381.4,159.5 401.7,149.8 422.1,146.8 442.4,145.4 462.7,144.4 483.0,154.0"/>
<polyline class="c56" points="157.8,244.3 178.2,243.2 198.5,237.0 218.8,235.6 239.1,217.2 259.4,190.0 279.8,183.0 300.1,171.0 320.4,170.9 340.8,164.4 361.1,158.1 381.4,157.9 401.7,156.4 422.1,149.8 442.4,144.9 462.7,146.7 483.0,153.1"/>
<polyline class="c56" points="157.8,249.1 178.2,245.3 198.5,243.6 218.8,234.7 239.1,221.8 259.4,196.9 279.8,188.1 300.1,177.5 320.4,176.6 340.8,164.8 361.1,155.9 381.4,157.4 401.7,156.4 422.1,153.1 442.4,144.4 462.7,143.6 483.0,155.3"/>
<polyline class="c56" points="157.8,244.9 178.2,247.6 198.5,240.7 218.8,233.5 239.1,218.7 259.4,195.5 279.8,181.7 300.1,176.8 320.4,171.1 340.8,172.3 361.1,163.6 381.4,159.4 401.7,150.7 422.1,150.1 442.4,150.5 462.7,142.9 483.0,153.7"/>
<polyline class="c56" points="157.8,247.5 178.2,249.8 198.5,243.2 218.8,235.2 239.1,218.4 259.4,195.8 279.8,179.9 300.1,176.7 320.4,169.9 340.8,166.4 361.1,158.7 381.4,158.0 401.7,160.3 422.1,150.7 442.4,150.2 462.7,150.3"/>
<polyline class="c56" points="157.8,245.1 178.2,243.9 198.5,245.3 218.8,234.5 239.1,221.1 259.4,192.2 279.8,177.6 300.1,177.3 320.4,174.0 340.8,168.8 361.1,166.8 381.4,162.9 401.7,161.1 422.1,156.5 442.4,152.4 462.7,150.8 483.0,146.0"/>
<polyline class="c56" points="157.8,249.3 178.2,251.1 198.5,242.1 218.8,234.0 239.1,222.5 259.4,184.8 279.8,182.1 300.1,177.3 320.4,164.2 340.8,171.5 361.1,163.1 381.4,166.3 401.7,161.2 422.1,153.7 442.4,146.8 462.7,145.1 483.0,150.1"/>
<polyline class="c56" points="157.8,244.1 178.2,250.5 198.5,238.4 218.8,238.5 239.1,220.7 259.4,199.3 279.8,188.1 300.1,174.9 320.4,169.3 340.8,161.9 361.1,154.7 381.4,163.7 401.7,154.0 422.1,154.2 442.4,151.0 462.7,147.1 483.0,150.0"/>
<polyline class="c56" points="157.8,244.5 178.2,251.1 198.5,238.2 218.8,234.9 239.1,220.2 259.4,195.3 279.8,190.2 300.1,178.3 320.4,166.3 340.8,168.6 361.1,161.1 381.4,159.3 401.7,161.8 422.1,151.6 442.4,143.2 462.7,145.4 483.0,149.2"/>
<polyline class="c56" points="157.8,243.0 178.2,244.2 198.5,241.7 218.8,236.2 239.1,221.2 259.4,192.6 279.8,176.4 300.1,173.9 320.4,171.0 340.8,161.8 361.1,159.8 381.4,150.6 401.7,154.8 422.1,155.4 442.4,152.8 462.7,149.5 483.0,155.6"/>
<polyline class="c56" points="157.8,250.0 178.2,249.2 198.5,240.6 218.8,235.1 239.1,227.5 259.4,197.7 279.8,188.6 300.1,180.5 320.4,173.6 340.8,171.7 361.1,162.7 381.4,143.0 401.7,160.9 422.1,153.0 442.4,155.3 462.7,138.0 483.0,160.3"/>
<polyline class="c57" points="157.8,245.7 178.2,251.1 198.5,242.6 218.8,234.6 239.1,221.7 259.4,188.5 279.8,181.1 300.1,176.2 320.4,168.0 340.8,168.9 361.1,163.5 381.4,164.0 401.7,141.5 422.1,163.1 442.4,149.4 462.7,145.5"/>
<polyline class="c57" points="157.8,247.0 178.2,249.7 198.5,242.3 218.8,237.4 239.1,224.4 259.4,196.8 279.8,187.5 300.1,175.9 320.4,170.9 340.8,165.2 361.1,164.1 381.4,148.9 401.7,156.2 422.1,152.7 442.4,151.8 462.7,150.7 483.0,142.8"/>
<polyline class="c57" points="157.8,249.5 178.2,254.0 198.5,244.5 218.8,241.5 239.1,225.8 259.4,198.7 279.8,189.0 300.1,179.7 320.4,185.1 340.8,168.7 361.1,158.6 381.4,166.9 401.7,158.8 422.1,150.0 442.4,151.1 462.7,155.7 483.0,152.4"/>
<polyline class="c57" points="157.8,245.4 178.2,245.2 198.5,239.0 218.8,231.8 239.1,222.4 259.4,188.4 279.8,184.2 300.1,178.9 320.4,165.7 340.8,167.7 361.1,163.5 381.4,154.7 401.7,156.9 422.1,158.5 442.4,147.5 462.7,149.0 483.0,151.2"/>
<polyline class="c57" points="157.8,247.9 178.2,257.3 198.5,243.2 218.8,239.6 239.1,228.1 259.4,202.6 279.8,188.7 300.1,183.8 320.4,174.2 340.8,167.8 361.1,166.2 381.4,166.1 401.7,162.5 422.1,155.9 442.4,153.4 462.7,153.7 483.0,162.3"/>
<polyline class="c57" points="157.8,250.6 178.2,250.8 198.5,246.6 218.8,238.5 239.1,225.2 259.4,202.5 279.8,185.0 300.1,180.6 320.4,175.1 340.8,169.5 361.1,162.8 381.4,146.9 401.7,161.7 422.1,151.9 442.4,150.0 462.7,152.3 483.0,164.3"/>
<polyline class="c57" points="157.8,248.5 178.2,250.8 198.5,246.7 218.8,239.4 239.1,227.0 259.4,202.5 279.8,190.2 300.1,181.3 320.4,176.7 340.8,172.7 361.1,166.3 381.4,167.3 401.7,158.4 422.1,154.9 442.4,158.8 462.7,152.6 483.0,165.9 503.4,156.6"/>
<polyline class="c57" points="157.8,250.1 178.2,251.7 198.5,247.3 218.8,242.1 239.1,225.0 259.4,203.6 279.8,186.3 300.1,175.9 320.4,179.4 340.8,176.5 361.1,160.2 381.4,172.4 401.7,165.4 422.1,158.7 442.4,156.5 462.7,148.3 483.0,165.9"/>
<polyline class="c57" points="157.8,250.1 178.2,253.4 198.5,247.3 218.8,239.6 239.1,231.2 259.4,202.7 279.8,190.4 300.1,187.3 320.4,178.8 340.8,175.2 361.1,169.2 381.4,143.4 401.7,166.3 422.1,157.9 442.4,157.6 462.7,156.7 483.0,159.5"/>
<polyline class="c57" points="157.8,245.6 178.2,249.0 198.5,241.8 218.8,238.7 239.1,226.9 259.4,198.6 279.8,185.4 300.1,176.6 320.4,174.3 340.8,170.9 361.1,166.1 381.4,163.8 401.7,156.1 422.1,153.9 442.4,155.3 462.7,147.6 483.0,152.4"/>
<polyline class="c57" points="157.8,248.5 178.2,248.9 198.5,244.7 218.8,239.5 239.1,224.4 259.4,201.8 279.8,184.5 300.1,184.0 320.4,172.7 340.8,176.7 361.1,162.7 381.4,163.2 401.7,152.5 422.1,163.2 442.4,155.5 462.7,145.8 483.0,164.1"/>
<polyline class="c57" points="157.8,252.1 178.2,253.7 198.5,248.5 218.8,246.4 239.1,230.4 259.4,209.8 279.8,197.7 300.1,189.4 320.4,177.7 340.8,174.2 361.1,169.5 381.4,169.9 401.7,165.7 422.1,163.8 442.4,161.4 462.7,155.1 483.0,165.9"/>
<polyline class="c57" points="157.8,252.2 178.2,257.2 198.5,249.1 218.8,242.2 239.1,229.9 259.4,200.3 279.8,196.6 300.1,183.7 320.4,185.1 340.8,176.7 361.1,171.5 381.4,174.8 401.7,156.2 422.1,152.2 442.4,165.7 462.7,150.3 483.0,163.8"/>
<polyline class="c58" points="157.8,250.9 178.2,253.9 198.5,247.1 218.8,241.2 239.1,229.7 259.4,209.0 279.8,191.3 300.1,179.9 320.4,176.4 340.8,179.1 361.1,169.3 381.4,157.9 401.7,167.6 422.1,168.6 442.4,151.6 462.7,153.9 483.0,167.2"/>
<polyline class="c58" points="157.8,251.6 178.2,249.8 198.5,245.4 218.8,242.7 239.1,228.5 259.4,202.9 279.8,189.7 300.1,181.8 320.4,173.5 340.8,170.9 361.1,155.1 381.4,163.8 401.7,165.4 422.1,158.3 442.4,155.0 462.7,157.9 483.0,165.1"/>
<polyline class="c58" points="157.8,250.2 178.2,255.5 198.5,249.8 218.8,246.0 239.1,229.0 259.4,209.5 279.8,192.5 300.1,180.0 320.4,179.1 340.8,174.0 361.1,147.1 381.4,163.6 401.7,169.7 422.1,164.1 442.4,159.9 462.7,159.0 483.0,155.0"/>
<polyline class="c58" points="157.8,254.5 178.2,256.5 198.5,250.8 218.8,248.7 239.1,233.8 259.4,205.4 279.8,201.9 300.1,185.1 320.4,184.0 340.8,174.6 361.1,174.6 381.4,171.6 401.7,165.5 422.1,166.4 442.4,160.7 462.7,151.8 483.0,163.2"/>
<polyline class="c58" points="157.8,248.5 178.2,249.9 198.5,243.9 218.8,242.3 239.1,228.8 259.4,207.7 279.8,190.3 300.1,180.9 320.4,173.1 340.8,171.5 361.1,165.3 381.4,155.1 401.7,158.3 422.1,158.9 442.4,137.3 462.7,149.2"/>
<polyline class="c58" points="157.8,253.8 178.2,251.9 198.5,245.8 218.8,243.5 239.1,231.4 259.4,202.5 279.8,192.9 300.1,186.5 320.4,179.6 340.8,174.3 361.1,169.7 381.4,164.9 401.7,168.7 422.1,156.8 442.4,153.6 462.7,150.2 483.0,159.1"/>
<polyline class="c58" points="157.8,255.6 178.2,255.7 198.5,250.6 218.8,251.7 239.1,233.5 259.4,212.7 279.8,194.1 300.1,192.0 320.4,176.3 340.8,175.4 361.1,169.9 381.4,172.4 401.7,163.7 422.1,165.3 442.4,160.7 462.7,152.6 483.0,166.3"/>
<polyline class="c58" points="157.8,258.5 178.2,256.5 198.5,254.0 218.8,249.3 239.1,234.8 259.4,211.3 279.8,190.8 300.1,194.8 320.4,189.2 340.8,185.9 361.1,173.1 381.4,164.5 401.7,173.0 422.1,165.9 442.4,151.6 462.7,160.8 483.0,171.6"/>
<polyline class="c58" points="157.8,260.1 178.2,258.7 198.5,251.0 218.8,249.3 239.1,233.5 259.4,211.0 279.8,199.5 300.1,188.2 320.4,182.5 340.8,176.9 361.1,171.6 381.4,174.8 401.7,168.6 422.1,167.1 442.4,161.9 462.7,155.3 483.0,170.7"/>
<polyline class="c58" points="157.8,250.7 178.2,249.5 198.5,251.8 218.8,242.8 239.1,232.0 259.4,206.4 279.8,189.4 300.1,182.4 320.4,179.2 340.8,175.3 361.1,169.9 381.4,171.4 401.7,160.6 422.1,160.7 442.4,155.0 462.7,157.6 483.0,163.5"/>
<polyline class="c58" points="157.8,254.6 178.2,254.9 198.5,251.0 218.8,243.3 239.1,229.8 259.4,213.2 279.8,194.2 300.1,193.2 320.4,186.1 340.8,173.8 361.1,169.9 381.4,157.1 401.7,167.0 422.1,167.2 442.4,160.0 462.7,157.3 483.0,163.5"/>
<polyline class="c58" points="157.8,256.9 178.2,255.2 198.5,250.2 218.8,251.6 239.1,233.6 259.4,212.0 279.8,195.7 300.1,185.0 320.4,184.3 340.8,172.1 361.1,175.5 381.4,170.7 401.7,164.0 422.1,168.6 442.4,159.9 462.7,162.0 483.0,161.3"/>
<polyline class="c58" points="157.8,253.0 178.2,258.4 198.5,250.9 218.8,248.3 239.1,234.1 259.4,208.9 279.8,199.0 300.1,190.4 320.4,179.4 340.8,174.9 361.1,171.7 381.4,168.1 401.7,169.6 422.1,166.0 442.4,161.6 462.7,158.1"/>
<polyline class="c59" points="157.8,254.9 178.2,257.7 198.5,250.7 218.8,250.1 239.1,236.3 259.4,211.1 279.8,202.3 300.1,195.0 320.4,182.7 340.8,184.1 361.1,180.6 381.4,152.7 401.7,173.0 422.1,170.5 442.4,164.2 462.7,148.7 483.0,168.7"/>
<polyline class="c59" points="157.8,254.3 178.2,259.0 198.5,252.4 218.8,248.8 239.1,235.8 259.4,211.0 279.8,200.1 300.1,180.1 320.4,186.9 340.8,179.9 361.1,182.9 381.4,170.0 401.7,176.3 422.1,163.7 442.4,161.5 462.7,160.8 483.0,161.4"/>
<polyline class="c59" points="157.8,257.1 178.2,260.5 198.5,254.3 218.8,248.5 239.1,240.5 259.4,211.1 279.8,199.9 300.1,193.5 320.4,181.9 340.8,174.2 361.1,171.3 381.4,170.0 401.7,165.2 422.1,166.3 442.4,164.8 462.7,161.5 483.0,171.8"/>
<polyline class="c59" points="157.8,260.9 178.2,261.3 198.5,258.0 218.8,251.7 239.1,241.7 259.4,213.2 279.8,204.6 300.1,192.8 320.4,183.7 340.8,179.3 361.1,175.0 381.4,174.8 401.7,173.3 422.1,167.3 442.4,164.9 462.7,162.2 483.0,171.6"/>
<polyline class="c59" points="157.8,254.9 178.2,257.0 198.5,250.7 218.8,251.1 239.1,235.1 259.4,210.6 279.8,198.6 300.1,190.6 320.4,180.4 340.8,177.5 361.1,173.6 381.4,172.9 401.7,164.1 422.1,173.3 442.4,163.3 462.7,158.3 483.0,168.6"/>
<polyline class="c59" points="157.8,259.9 178.2,261.5 198.5,257.9 218.8,253.8 239.1,241.7 259.4,216.2 279.8,197.8 300.1,191.5 320.4,178.6 340.8,179.1 361.1,174.8 381.4,175.2 401.7,173.7 422.1,170.9 442.4,169.4 462.7,159.6 483.0,169.4"/>
<polyline class="c59" points="157.8,257.7 178.2,261.1 198.5,254.0 218.8,253.4 239.1,236.3 259.4,212.5 279.8,202.9 300.1,188.2 320.4,185.5 340.8,179.4 361.1,172.3 381.4,174.0 401.7,168.0 422.1,165.6 442.4,165.3 462.7,160.6 483.0,167.5"/>
<polyline class="c59" points="157.8,254.5 178.2,258.3 198.5,254.4 218.8,249.6 239.1,239.3 259.4,211.2 279.8,195.8 300.1,186.4 320.4,186.6 340.8,182.7 361.1,175.6 381.4,171.8 401.7,168.2 422.1,164.1 442.4,157.8 462.7,159.3"/>
<polyline class="c59" points="157.8,261.1 178.2,264.4 198.5,257.1 218.8,254.6 239.1,240.5 259.4,219.2 279.8,204.7 300.1,196.5 320.4,187.5 340.8,186.1 361.1,181.6 381.4,175.5 401.7,175.3 422.1,170.2 442.4,166.8 462.7,165.3 483.0,174.2"/>
<polyline class="c59" points="157.8,259.8 178.2,262.0 198.5,254.8 218.8,254.0 239.1,239.9 259.4,210.2 279.8,202.3 300.1,188.5 320.4,181.5 340.8,173.0 361.1,179.8 381.4,176.9 401.7,177.6 422.1,162.9 442.4,168.3 462.7,159.0 483.0,170.3"/>
<polyline class="c59" points="157.8,259.6 178.2,259.3 198.5,260.4 218.8,254.1 239.1,241.3 259.4,216.2 279.8,204.7 300.1,189.2 320.4,188.9 340.8,178.7 361.1,177.6 381.4,151.3 401.7,176.0 422.1,159.3 442.4,166.4 462.7,161.8 483.0,168.7"/>
<polyline class="c59" points="157.8,263.8 178.2,265.1 198.5,261.9 218.8,258.1 239.1,253.0 259.4,218.2 279.8,213.4 300.1,193.6 320.4,182.6 340.8,185.3 361.1,181.5 381.4,177.4 401.7,179.8 422.1,175.5 442.4,174.2 462.7,165.1 483.0,177.6"/>
<polyline class="c59" points="157.8,261.7 178.2,267.6 198.5,263.5 218.8,260.6 239.1,246.9 259.4,222.4 279.8,209.3 300.1,193.8 320.4,190.4 340.8,192.1 361.1,182.0 381.4,179.8 401.7,179.6 422.1,171.5 442.4,167.3 462.7,165.4"/>
<polyline class="c60" points="157.8,266.0 178.2,263.5 198.5,259.6 218.8,257.4 239.1,243.3 259.4,220.6 279.8,205.9 300.1,197.9 320.4,186.7 340.8,186.2 361.1,178.3 381.4,174.8 401.7,179.3 422.1,175.2 442.4,173.0 462.7,169.1 483.0,173.4"/>
<polyline class="c60" points="157.8,263.4 178.2,263.9 198.5,259.0 218.8,258.9 239.1,249.9 259.4,218.5 279.8,214.5 300.1,203.7 320.4,192.4 340.8,187.6 361.1,178.1 381.4,168.9 401.7,174.1 422.1,175.0 442.4,171.6 462.7,167.2 483.0,172.9"/>
<polyline class="c60" points="157.8,266.8 178.2,267.7 198.5,261.4 218.8,263.3 239.1,247.9 259.4,220.1 279.8,213.7 300.1,207.1 320.4,193.0 340.8,196.4 361.1,183.1 381.4,167.7 401.7,185.6 422.1,178.0 442.4,175.2 462.7,176.9 483.0,178.3"/>
<polyline class="c60" points="157.8,259.8 178.2,263.3 198.5,258.9 218.8,255.0 239.1,244.8 259.4,218.4 279.8,203.7 300.1,197.9 320.4,188.2 340.8,178.4 361.1,175.1 381.4,174.2 401.7,172.1 422.1,166.7 442.4,175.2 462.7,173.1"/>
<polyline class="c60" points="157.8,266.4 178.2,270.1 198.5,264.3 218.8,259.1 239.1,249.0 259.4,224.7 279.8,213.5 300.1,205.5 320.4,197.4 340.8,185.5 361.1,182.0 381.4,182.4 401.7,173.9 422.1,182.7 442.4,175.4 462.7,177.1 483.0,183.5"/>
<polyline class="c60" points="157.8,264.0 178.2,265.3 198.5,262.4 218.8,256.9 239.1,247.9 259.4,220.0 279.8,208.9 300.1,203.0 320.4,192.4 340.8,187.9 361.1,167.7 381.4,182.1 401.7,178.6 422.1,175.3 442.4,173.1 462.7,167.4 483.0,177.4"/>
<polyline class="c60" points="157.8,267.1 178.2,271.5 198.5,263.9 218.8,264.7 239.1,258.0 259.4,229.6 279.8,214.2 300.1,207.9 320.4,192.4 340.8,194.8 361.1,185.9 381.4,187.9 401.7,185.3 422.1,176.9 442.4,181.5 462.7,179.4 483.0,182.4 503.4,153.9"/>
<polyline class="c60" points="157.8,267.6 178.2,271.4 198.5,265.1 218.8,261.6 239.1,254.2 259.4,224.8 279.8,208.6 300.1,203.0 320.4,190.2 340.8,187.1 361.1,189.2 381.4,179.0 401.7,175.5 422.1,177.7 442.4,181.1 462.7,170.0"/>
<polyline class="c60" points="157.8,265.6 178.2,267.9 198.5,263.4 218.8,263.9 239.1,253.2 259.4,231.1 279.8,211.9 300.1,206.3 320.4,192.5 340.8,188.3 361.1,184.5 381.4,186.3 401.7,186.5 422.1,176.7 442.4,175.2 462.7,178.9 483.0,180.3"/>
<polyline class="c61" points="157.8,264.8 178.2,269.3 198.5,269.6 218.8,262.5 239.1,252.1 259.4,226.8 279.8,214.2 300.1,206.0 320.4,195.5 340.8,191.3 361.1,181.1 381.4,185.2 401.7,183.4 422.1,182.5 442.4,177.7 462.7,174.7"/>
<polyline class="c61" points="157.8,266.4 178.2,269.8 198.5,268.1 218.8,263.1 239.1,254.9 259.4,230.6 279.8,218.2 300.1,206.7 320.4,197.9 340.8,194.9 361.1,187.8 381.4,164.6 401.7,180.3 422.1,177.8 442.4,175.3 462.7,176.7"/>
<polyline class="c61" points="157.8,264.2 178.2,267.9 198.5,260.9 218.8,261.5 239.1,255.5 259.4,223.5 279.8,214.5 300.1,208.1 320.4,193.5 340.8,197.2 361.1,178.3 381.4,179.4 401.7,174.9 422.1,188.2 442.4,178.6 462.7,168.4 483.0,182.8"/>
<polyline class="c61" points="157.8,270.9 178.2,278.9 198.5,273.7 218.8,270.4 239.1,263.6 259.4,232.4 279.8,229.4 300.1,201.3 320.4,195.7 340.8,190.6 361.1,184.9 381.4,185.7 401.7,185.5 422.1,191.5 442.4,178.3 462.7,178.2 483.0,187.4"/>
<polyline class="c61" points="157.8,272.9 178.2,277.8 198.5,271.4 218.8,271.7 239.1,258.8 259.4,231.6 279.8,221.9 300.1,212.6 320.4,197.3 340.8,195.2 361.1,191.1 381.4,184.7 401.7,185.1 422.1,185.3 442.4,184.3 462.7,183.2 483.0,187.2"/>
<polyline class="c61" points="157.8,270.3 178.2,272.6 198.5,271.1 218.8,267.5 239.1,259.5 259.4,228.5 279.8,218.9 300.1,212.0 320.4,199.2 340.8,193.1 361.1,186.5 381.4,186.4 401.7,183.5 422.1,181.8 442.4,181.9 462.7,171.6 483.0,187.5"/>
<polyline class="c61" points="157.8,273.4 178.2,280.4 198.5,273.5 218.8,271.7 239.1,265.3 259.4,232.9 279.8,223.3 300.1,213.0 320.4,204.4 340.8,197.9 361.1,190.3 381.4,192.2 401.7,189.4 422.1,171.3 442.4,184.6 462.7,178.1 483.0,191.4"/>
<polyline class="c61" points="157.8,270.3 178.2,279.2 198.5,272.4 218.8,275.2 239.1,264.5 259.4,231.8 279.8,227.9 300.1,220.3 320.4,200.1 340.8,192.4 361.1,182.0 381.4,192.4 401.7,182.7 422.1,190.3 442.4,182.9 462.7,175.2 483.0,190.1"/>
<polyline class="c62" points="157.8,272.1 178.2,276.5 198.5,273.9 218.8,274.4 239.1,265.5 259.4,238.7 279.8,225.8 300.1,215.1 320.4,202.1 340.8,198.2 361.1,193.7 381.4,191.7 401.7,188.1 422.1,189.2 442.4,183.4 462.7,180.8 483.0,190.3"/>
<polyline class="c62" points="157.8,274.5 178.2,280.0 198.5,279.2 218.8,275.7 239.1,267.9 259.4,240.0 279.8,224.2 300.1,212.3 320.4,204.5 340.8,195.5 361.1,195.7 381.4,196.8 401.7,186.1 422.1,193.3 442.4,191.0 462.7,187.3 483.0,188.0"/>
<polyline class="c62" points="157.8,275.0 178.2,278.2 198.5,273.6 218.8,272.8 239.1,262.1 259.4,245.4 279.8,226.1 300.1,209.0 320.4,204.4 340.8,202.2 361.1,192.7 381.4,183.8 401.7,188.7 422.1,185.6 442.4,185.9 462.7,187.4 483.0,191.8"/>
<polyline class="c62" points="157.8,276.3 178.2,281.2 198.5,279.3 218.8,278.3 239.1,271.7 259.4,241.3 279.8,229.9 300.1,222.9 320.4,201.3 340.8,204.7 361.1,199.2 381.4,193.5 401.7,195.8 422.1,193.6 442.4,195.3 462.7,187.7 483.0,197.1"/>
<polyline class="c62" points="157.8,282.6 178.2,286.0 198.5,278.4 218.8,284.0 239.1,272.0 259.4,250.0 279.8,228.7 300.1,222.7 320.4,212.6 340.8,202.2 361.1,202.7 381.4,197.1 401.7,193.5 422.1,192.0 442.4,193.9 462.7,182.2 483.0,200.1"/>
<polyline class="c62" points="157.8,281.0 178.2,286.3 198.5,282.2 218.8,281.4 239.1,278.7 259.4,252.6 279.8,229.5 300.1,226.7 320.4,216.4 340.8,212.7 361.1,200.8 381.4,204.2 401.7,199.7 422.1,198.1 442.4,191.5 462.7,195.0 483.0,208.6"/>
<polyline class="c62" points="157.8,279.9 178.2,289.3 198.5,282.0 218.8,284.2 239.1,277.0 259.4,245.6 279.8,236.4 300.1,221.1 320.4,211.7 340.8,199.8 361.1,196.9 381.4,202.6 401.7,197.5 422.1,204.0 442.4,192.9 462.7,186.5 483.0,198.5"/>
<polyline class="c62" points="157.8,279.0 178.2,287.1 198.5,283.9 218.8,287.0 239.1,275.4 259.4,243.9 279.8,238.6 300.1,224.0 320.4,215.5 340.8,209.7 361.1,204.0 381.4,198.2 401.7,197.2 422.1,194.0 442.4,194.8 462.7,195.0 483.0,197.1"/>
<polyline class="c63" points="157.8,277.8 178.2,285.2 198.5,276.0 218.8,280.4 239.1,274.1 259.4,248.8 279.8,238.5 300.1,225.4 320.4,203.9 340.8,206.6 361.1,207.2 381.4,192.4 401.7,193.0 422.1,180.0 442.4,196.7 462.7,183.3"/>
<polyline class="c61" points="157.8,279.0 178.2,286.8 198.5,282.4 218.8,284.9 239.1,278.4 259.4,252.7 279.8,235.0 300.1,217.2 320.4,218.8 340.8,207.8 361.1,203.1 381.4,198.9 401.7,194.7 422.1,199.8 442.4,191.9 462.7,168.5 483.0,198.7"/>
<polyline class="c61" points="157.8,283.2 178.2,288.1 198.5,283.7 218.8,284.5 239.1,277.9 259.4,260.2 279.8,237.6 300.1,228.7 320.4,213.3 340.8,207.6 361.1,203.7 381.4,201.4 401.7,196.3 422.1,199.1 442.4,195.2 462.7,166.9 483.0,201.1"/>
<polyline class="c62" points="157.8,282.8 178.2,287.9 198.5,285.9 218.8,287.5 239.1,279.3 259.4,256.4 279.8,237.4 300.1,216.6 320.4,211.5 340.8,209.1 361.1,200.5 381.4,199.9 401.7,197.6 422.1,201.3 442.4,198.8 462.7,196.7 483.0,201.8"/>
<polyline class="c62" points="157.8,283.0 178.2,288.4 198.5,284.6 218.8,284.7 239.1,281.0 259.4,253.5 279.8,236.5 300.1,226.5 320.4,221.7 340.8,209.7 361.1,202.9 381.4,196.9 401.7,197.7 422.1,200.8 442.4,197.7 462.7,167.2 483.0,202.0 503.4,195.6"/>
<polyline class="c62" points="157.8,282.0 178.2,289.3 198.5,283.6 218.8,286.3 239.1,277.2 259.4,247.2 279.8,237.0 300.1,221.0 320.4,212.0 340.8,207.1 361.1,198.4 381.4,191.3 401.7,199.3 422.1,201.5 442.4,193.9 462.7,167.9 483.0,199.7 503.4,194.9"/>
<polyline class="c62" points="157.8,284.0 178.2,288.8 198.5,284.9 218.8,286.4 239.1,282.3 259.4,253.8 279.8,232.9 300.1,226.6 320.4,209.0 340.8,206.4 361.1,202.2 381.4,190.6 401.7,197.3 422.1,199.9 442.4,198.3 462.7,168.1 483.0,200.5"/>
<polyline class="c62" points="157.8,282.0 178.2,286.7 198.5,281.7 218.8,285.3 239.1,279.7 259.4,258.0 279.8,243.6 300.1,222.3 320.4,215.8 340.8,206.0 361.1,200.0 381.4,198.5 401.7,199.2 422.1,198.9 442.4,193.8 462.7,192.3 483.0,199.5 503.4,190.4"/>
<polyline class="c62" points="157.8,280.0 178.2,287.9 198.5,284.4 218.8,283.9 239.1,278.6 259.4,253.3 279.8,237.9 300.1,226.8 320.4,215.2 340.8,207.3 361.1,210.4 381.4,199.9 401.7,196.8 422.1,200.9 442.4,194.8 462.7,191.8 483.0,198.7"/>
<polyline class="c62" points="157.8,281.8 178.2,286.7 198.5,281.5 218.8,284.6 239.1,277.4 259.4,246.5 279.8,237.5 300.1,225.5 320.4,207.8 340.8,207.6 361.1,199.5 381.4,200.1 401.7,198.1 422.1,198.4 442.4,194.4 462.7,193.9 483.0,200.6"/>
<polyline class="c62" points="157.8,281.5 178.2,287.3 198.5,282.4 218.8,283.6 239.1,278.9 259.4,252.3 279.8,232.3 300.1,219.6 320.4,214.0 340.8,207.4 361.1,194.3 381.4,197.6 401.7,198.8 422.1,198.9 442.4,194.6 462.7,167.1 483.0,199.5"/>
<polyline class="c62" points="157.8,281.8 178.2,285.2 198.5,284.2 218.8,284.1 239.1,276.2 259.4,253.5 279.8,235.5 300.1,230.5 320.4,208.7 340.8,207.0 361.1,200.9 381.4,195.6 401.7,195.5 422.1,200.0 442.4,195.9 462.7,168.8 483.0,200.7"/>
<polyline class="c62" points="157.8,286.8 178.2,290.5 198.5,289.9 218.8,287.7 239.1,282.7 259.4,261.8 279.8,238.9 300.1,228.2 320.4,215.0 340.8,211.7 361.1,212.7 381.4,199.6 401.7,202.9 422.1,203.2 442.4,200.6 462.7,168.4 483.0,205.4"/>
<polyline class="c62" points="157.8,281.2 178.2,287.3 198.5,286.0 218.8,285.3 239.1,280.6 259.4,252.0 279.8,232.4 300.1,223.6 320.4,215.2 340.8,208.5 361.1,196.4 381.4,198.3 401.7,195.0 422.1,201.7 442.4,190.8 462.7,195.8 483.0,199.8 503.4,193.2"/>
<polyline class="c62" points="157.8,284.2 178.2,288.4 198.5,284.3 218.8,284.9 239.1,280.7 259.4,250.7 279.8,242.1 300.1,228.5 320.4,209.0 340.8,209.4 361.1,201.9 381.4,198.4 401.7,196.8 422.1,200.0 442.4,201.9 462.7,167.9 483.0,201.3"/>
<polyline class="c62" points="157.8,283.5 178.2,290.2 198.5,283.9 218.8,284.7 239.1,280.2 259.4,251.9 279.8,243.1 300.1,223.2 320.4,209.6 340.8,207.8 361.1,204.4 381.4,205.1 401.7,196.9 422.1,200.1 442.4,189.1 462.7,167.2 483.0,201.6"/>
<polyline class="c62" points="157.8,284.2 178.2,292.2 198.5,286.3 218.8,285.8 239.1,280.3 259.4,254.1 279.8,240.3 300.1,219.0 320.4,211.4 340.8,209.4 361.1,205.8 381.4,199.9 401.7,199.2 422.1,201.4 442.4,203.5 462.7,169.2 483.0,199.4 503.4,193.6"/>
<polyline class="c62" points="157.8,284.0 178.2,286.9 198.5,283.6 218.8,285.7 239.1,279.3 259.4,260.4 279.8,236.0 300.1,225.0 320.4,217.3 340.8,207.1 361.1,202.8 381.4,197.1 401.7,199.3 422.1,199.4 442.4,196.8 462.7,167.4 483.0,200.4"/>
<polyline class="c62" points="157.8,282.4 178.2,287.5 198.5,284.5 218.8,288.3 239.1,280.2 259.4,246.5 279.8,238.8 300.1,224.1 320.4,215.8 340.8,206.5 361.1,202.9 381.4,202.1 401.7,198.8 422.1,200.6 442.4,198.4 462.7,195.7 483.0,202.4 503.4,192.9"/>
<polyline class="c62" points="157.8,286.4 178.2,291.5 198.5,287.2 218.8,287.4 239.1,280.8 259.4,250.5 279.8,241.9 300.1,227.6 320.4,214.6 340.8,208.2 361.1,206.7 381.4,205.9 401.7,200.6 422.1,202.2 442.4,197.4 462.7,191.6 483.0,202.7 503.4,195.9"/>
<polyline class="c62" points="157.8,283.4 178.2,289.2 198.5,285.9 218.8,286.4 239.1,282.2 259.4,256.0 279.8,235.9 300.1,228.5 320.4,215.6 340.8,209.1 361.1,207.3 381.4,199.7 401.7,197.7 422.1,200.3 442.4,198.3 462.7,193.1 483.0,201.1"/>
<polyline class="c62" points="157.8,282.5 178.2,288.3 198.5,281.9 218.8,284.2 239.1,276.7 259.4,255.0 279.8,234.5 300.1,221.5 320.4,212.9 340.8,207.3 361.1,209.2 381.4,200.3 401.7,197.5 422.1,201.9 442.4,194.3 462.7,189.7 483.0,201.3"/>
<polyline class="c62" points="157.8,283.9 178.2,289.0 198.5,282.7 218.8,286.3 239.1,277.9 259.4,253.1 279.8,238.0 300.1,227.4 320.4,218.5 340.8,208.9 361.1,203.9 381.4,207.3 401.7,197.1 422.1,200.3 442.4,200.6 462.7,196.4 483.0,200.1"/>
<polyline class="c62" points="157.8,285.0 178.2,287.6 198.5,286.0 218.8,289.2 239.1,279.9 259.4,252.2 279.8,248.3 300.1,226.3 320.4,216.0 340.8,209.6 361.1,204.4 381.4,196.5 401.7,198.9 422.1,202.0 442.4,195.2 462.7,198.4 483.0,201.3 503.4,192.9"/>
<polyline class="c62" points="157.8,278.9 178.2,284.3 198.5,282.8 218.8,285.2 239.1,275.6 259.4,247.7 279.8,239.6 300.1,223.4 320.4,212.0 340.8,206.6 361.1,198.0 381.4,199.8 401.7,195.1 422.1,197.9 442.4,189.2 462.7,167.9 483.0,198.9"/>
<polyline class="c62" points="157.8,282.3 178.2,289.6 198.5,284.0 218.8,283.9 239.1,279.4 259.4,254.8 279.8,240.0 300.1,225.4 320.4,223.3 340.8,208.2 361.1,201.3 381.4,204.0 401.7,198.1 422.1,200.5 442.4,193.1 462.7,169.5 483.0,201.0 503.4,195.1"/>
<polyline class="c63" points="157.8,284.4 178.2,289.7 198.5,284.1 218.8,286.3 239.1,280.6 259.4,245.0 279.8,246.5 300.1,232.7 320.4,219.5 340.8,208.5 361.1,201.1 381.4,201.9 401.7,195.8 422.1,202.1 442.4,199.8 462.7,165.3 483.0,198.8"/>
<polyline class="c63" points="157.8,280.3 178.2,287.5 198.5,282.4 218.8,284.2 239.1,278.8 259.4,249.5 279.8,236.3 300.1,224.6 320.4,208.1 340.8,204.4 361.1,203.3 381.4,197.8 401.7,198.3 422.1,198.5 442.4,194.2 462.7,192.3 483.0,200.9"/>
<polyline class="c63" points="157.8,280.5 178.2,287.5 198.5,286.1 218.8,284.9 239.1,279.7 259.4,249.8 279.8,235.9 300.1,216.4 320.4,213.0 340.8,208.5 361.1,204.4 381.4,200.2 401.7,196.8 422.1,197.7 442.4,201.2 462.7,196.5 483.0,201.0"/>
<polyline class="c63" points="157.8,282.4 178.2,288.3 198.5,283.1 218.8,284.0 239.1,279.2 259.4,254.4 279.8,236.9 300.1,224.8 320.4,216.9 340.8,208.2 361.1,202.3 381.4,206.8 401.7,196.9 422.1,199.3 442.4,194.0 462.7,167.2 483.0,200.1 503.4,193.3"/>
<polyline class="c63" points="157.8,285.7 178.2,289.8 198.5,284.2 218.8,285.8 239.1,280.8 259.4,257.9 279.8,234.1 300.1,227.3 320.4,213.4 340.8,208.2 361.1,207.5 381.4,200.1 401.7,199.6 422.1,201.3 442.4,194.8 462.7,194.2 483.0,202.7"/>
<polyline class="c63" points="157.8,284.1 178.2,289.9 198.5,286.1 218.8,286.6 239.1,281.3 259.4,260.0 279.8,241.3 300.1,225.1 320.4,208.5 340.8,211.7 361.1,202.1 381.4,206.3 401.7,201.9 422.1,205.0 442.4,197.0 462.7,190.3 483.0,202.5 503.4,192.0"/>
<polyline class="c63" points="157.8,282.8 178.2,286.9 198.5,285.4 218.8,286.4 239.1,280.0 259.4,248.9 279.8,240.5 300.1,222.9 320.4,211.2 340.8,206.7 361.1,211.6 381.4,201.9 401.7,200.6 422.1,200.0 442.4,201.1 462.7,192.9 483.0,204.1"/>
<polyline class="c63" points="157.8,285.3 178.2,290.4 198.5,285.4 218.8,285.9 239.1,279.9 259.4,251.8 279.8,236.2 300.1,229.1 320.4,212.1 340.8,207.9 361.1,204.5 381.4,201.6 401.7,199.1 422.1,200.0 442.4,198.7 462.7,166.2 483.0,200.4"/>
<polyline class="c63" points="157.8,285.8 178.2,288.8 198.5,285.0 218.8,288.5 239.1,280.9 259.4,252.1 279.8,242.4 300.1,228.6 320.4,214.7 340.8,207.3 361.1,208.3 381.4,202.6 401.7,199.2 422.1,200.3 442.4,197.0 462.7,168.2 483.0,202.0 503.4,198.7"/>
<polyline class="c63" points="157.8,284.4 178.2,289.3 198.5,282.4 218.8,285.7 239.1,280.1 259.4,255.1 279.8,237.2 300.1,219.0 320.4,219.0 340.8,208.4 361.1,203.0 381.4,198.7 401.7,198.4 422.1,200.0 442.4,198.5 462.7,196.8 483.0,199.9 503.4,192.9"/>
<polyline class="c63" points="157.8,281.5 178.2,288.9 198.5,282.8 218.8,288.8 239.1,278.5 259.4,248.5 279.8,233.4 300.1,226.5 320.4,215.9 340.8,207.8 361.1,204.7 381.4,198.1 401.7,199.2 422.1,200.2 442.4,197.1 462.7,188.5 483.0,202.4 503.4,192.7"/>
</g>
<g clip-path="url(#cp2)">
<polyline class="c0" points="157.8,446.9 178.2,444.9 198.5,434.8 218.8,440.8 239.1,444.9 259.4,453.0 279.8,458.0 300.1,471.2 320.4,473.2 340.8,475.2 361.1,503.6 381.4,518.8 401.7,531.9 422.1,539.0 442.4,542.0 462.7,547.1 483.0,552.2 503.4,556.2 523.7,560.3 544.0,564.3 564.3,567.3 584.6,571.4 605.0,574.4 625.3,577.5 645.6,580.5 666.0,582.5 686.3,584.5 706.6,586.6 726.9,586.6 747.2,594.7 767.6,587.6 787.9,593.6 808.2,593.6 828.5,593.6 848.9,594.7 869.2,596.7 889.5,592.6 909.9,599.7"/>
<polyline class="c0" points="157.8,551.1 178.2,548.1 198.5,567.3 218.8,577.5 239.1,582.5 259.4,582.5 279.8,584.5 300.1,589.6 320.4,594.7 340.8,599.7"/>
<polyline class="c0" points="157.8,452.5 178.2,450.6 198.5,439.3 218.8,437.8 239.1,440.4 259.4,452.5 279.8,450.4 300.1,462.8 320.4,471.0 340.8,471.5 361.1,460.7 381.4,502.1 401.7,507.2 422.1,508.9 442.4,505.5 462.7,508.0 483.0,510.7 503.4,513.4 523.7,514.8 544.0,516.4 564.3,514.9 584.6,539.7 605.0,544.6 625.3,542.4 645.6,549.4 666.0,558.1 686.3,560.4 706.6,560.1"/>
<polyline class="c0" points="157.8,444.0 178.2,444.8 198.5,444.7 218.8,448.4 239.1,444.6 259.4,454.6 279.8,463.2 300.1,472.4 320.4,476.8 340.8,478.3 361.1,475.3 381.4,480.6 401.7,496.0 422.1,507.2 442.4,508.0 462.7,508.0 483.0,511.0 503.4,516.6 523.7,514.5 544.0,518.9 564.3,533.4 584.6,554.4 605.0,552.1 625.3,552.8 645.6,556.7 666.0,561.2 686.3,560.0 706.6,568.7"/>
<polyline class="c0" points="157.8,455.5 178.2,452.7 198.5,450.1 218.8,448.1 239.1,456.0 259.4,457.7 279.8,469.4 300.1,476.3 320.4,473.6 340.8,474.6 361.1,483.4 381.4,504.0 401.7,510.4 422.1,513.0 442.4,517.8 462.7,506.6 483.0,515.3 503.4,513.5 523.7,529.7 544.0,537.0 564.3,530.7 584.6,548.4 605.0,554.2 625.3,566.5"/>
<polyline class="c0" points="157.8,446.0 178.2,447.4 198.5,446.1 218.8,449.6 239.1,448.8 259.4,457.3 279.8,469.2 300.1,478.8 320.4,475.9 340.8,478.0 361.1,485.3 381.4,505.2 401.7,505.8 422.1,515.8 442.4,512.8 462.7,528.8 483.0,536.0 503.4,545.5 523.7,550.3 544.0,559.3 564.3,548.2 584.6,567.2 605.0,565.2 625.3,575.4 645.6,580.3"/>
<polyline class="c1" points="157.8,456.3 178.2,454.8 198.5,453.4 218.8,454.6 239.1,459.6 259.4,461.0 279.8,470.1 300.1,470.4 320.4,478.2 340.8,479.4 361.1,521.3 381.4,530.5 401.7,534.8 422.1,540.0 442.4,547.0 462.7,552.0 483.0,553.2 503.4,524.5 523.7,529.3 544.0,532.5 564.3,542.2"/>
<polyline class="c1" points="157.8,452.5 178.2,457.5 198.5,455.8 218.8,452.8 239.1,462.0 259.4,457.7 279.8,474.1 300.1,471.7 320.4,473.7 340.8,476.3 361.1,549.2 381.4,559.7 401.7,558.1 422.1,567.9 442.4,564.6 462.7,578.3 483.0,576.9 503.4,584.9 523.7,594.4 544.0,589.1 564.3,594.7 584.6,599.7 605.0,604.6 625.3,611.0 645.6,612.9 666.0,612.9"/>
<polyline class="c1" points="157.8,456.6 178.2,456.5 198.5,457.9 218.8,460.4 239.1,456.7 259.4,453.0 279.8,470.4 300.1,469.3 320.4,470.9 340.8,471.0 361.1,540.8 381.4,554.1 401.7,555.0 422.1,561.2 442.4,567.9 462.7,568.9 483.0,570.8 503.4,576.8"/>
<polyline class="c1" points="157.8,454.4 178.2,447.2 198.5,456.2 218.8,451.5 239.1,451.9 259.4,450.8 279.8,475.8 300.1,480.9 320.4,475.3 340.8,480.4 361.1,546.2 381.4,553.9 401.7,554.3 422.1,560.9 442.4,563.7 462.7,570.1 483.0,574.8 503.4,574.4 523.7,585.4 544.0,587.4 564.3,590.4 584.6,594.3 605.0,603.4 625.3,600.9"/>
<polyline class="c1" points="157.8,453.2 178.2,452.5 198.5,452.2 218.8,457.4 239.1,447.8 259.4,450.1 279.8,474.8 300.1,474.1 320.4,468.9 340.8,473.7 361.1,514.0 381.4,522.8 401.7,524.0 422.1,531.3 442.4,535.1 462.7,542.5 483.0,540.3 503.4,546.5 523.7,552.2 544.0,555.5 564.3,562.1 584.6,559.6"/>
<polyline class="c1" points="157.8,458.9 178.2,462.2 198.5,461.7 218.8,461.7 239.1,466.1 259.4,464.4 279.8,468.5 300.1,464.2 320.4,466.8 340.8,463.5 361.1,521.1 381.4,525.5 401.7,535.1 422.1,537.2 442.4,544.7 462.7,544.1 483.0,549.9 503.4,559.9 523.7,555.7 544.0,557.5"/>
<polyline class="c1" points="157.8,454.0 178.2,456.3 198.5,463.5 218.8,453.2 239.1,460.4 259.4,457.3 279.8,470.5 300.1,464.9 320.4,469.3 340.8,471.3 361.1,521.8 381.4,524.8 401.7,524.0 422.1,532.5 442.4,536.1 462.7,539.4 483.0,552.5 503.4,553.0 523.7,561.7 544.0,563.4 564.3,564.4 584.6,563.2 605.0,570.9 625.3,584.2 645.6,580.3 666.0,588.0 686.3,594.3"/>
<polyline class="c1" points="157.8,452.3 178.2,461.0 198.5,458.4 218.8,464.6 239.1,467.7 259.4,464.3 279.8,477.9 300.1,479.5 320.4,472.3 340.8,472.2 361.1,536.8 381.4,541.2 401.7,546.8 422.1,553.3 442.4,559.0 462.7,560.8 483.0,566.3 503.4,569.7 523.7,572.8 544.0,581.7 564.3,584.2 584.6,591.7"/>
<polyline class="c1" points="157.8,454.0 178.2,459.4 198.5,458.0 218.8,456.2 239.1,461.3 259.4,459.0 279.8,472.1 300.1,474.6 320.4,474.6 340.8,477.0 361.1,531.2 381.4,535.9 401.7,538.5 422.1,543.3 442.4,548.5 462.7,550.2 483.0,557.9 503.4,562.6 523.7,563.7 544.0,573.2 564.3,574.0 584.6,583.4 605.0,585.6 625.3,589.9 645.6,590.7"/>
<polyline class="c1" points="157.8,459.1 178.2,466.2 198.5,458.6 218.8,459.0 239.1,463.3 259.4,461.0 279.8,486.0 300.1,512.3 320.4,512.0 340.8,523.4 361.1,522.6 381.4,539.7 401.7,538.2 422.1,539.9 442.4,556.6 462.7,564.9 483.0,569.0 503.4,569.4 523.7,574.9 544.0,586.9 564.3,586.4 584.6,593.4 605.0,594.3 625.3,595.0"/>
<polyline class="c1" points="157.8,467.0 178.2,460.5 198.5,463.3 218.8,467.9 239.1,463.7 259.4,463.8 279.8,477.0 300.1,503.8 320.4,524.7 340.8,521.2 361.1,516.8 381.4,530.7 401.7,544.5 422.1,549.9 442.4,554.5 462.7,559.7 483.0,561.6 503.4,579.4 523.7,583.6 544.0,578.2 564.3,591.1 584.6,581.1 605.0,589.7"/>
<polyline class="c1" points="157.8,460.8 178.2,459.1 198.5,466.8 218.8,466.8 239.1,457.4 259.4,464.2 279.8,485.8 300.1,531.9 320.4,524.2 340.8,515.9 361.1,538.3 381.4,531.1 401.7,538.3 422.1,552.2 442.4,558.0 462.7,571.2 483.0,582.8 503.4,584.0 523.7,586.5 544.0,584.3 564.3,577.4"/>
<polyline class="c1" points="157.8,463.9 178.2,462.0 198.5,462.5 218.8,464.1 239.1,460.5 259.4,466.4 279.8,470.4 300.1,501.9 320.4,509.6 340.8,509.7 361.1,518.5 381.4,530.5 401.7,529.5 422.1,541.9 442.4,549.0 462.7,552.2 483.0,562.9 503.4,567.0 523.7,570.2 544.0,561.5 564.3,580.5 584.6,571.8"/>
<polyline class="c1" points="157.8,459.3 178.2,461.6 198.5,461.9 218.8,451.9 239.1,459.2 259.4,453.9 279.8,479.2 300.1,514.2 320.4,501.9 340.8,519.1 361.1,516.0 381.4,525.7 401.7,525.9 422.1,541.9 442.4,541.4 462.7,545.0 483.0,555.3 503.4,564.3 523.7,569.4"/>
<polyline class="c1" points="157.8,453.8 178.2,458.5 198.5,450.4 218.8,459.5 239.1,459.8 259.4,458.9 279.8,462.5 300.1,493.6 320.4,498.1 340.8,502.3 361.1,507.0 381.4,514.1 401.7,514.2 422.1,518.9 442.4,537.4 462.7,539.6 483.0,548.6 503.4,560.7 523.7,551.2"/>
<polyline class="c1" points="157.8,457.2 178.2,464.7 198.5,465.6 218.8,463.6 239.1,464.0 259.4,460.1 279.8,466.9 300.1,494.5 320.4,509.8 340.8,508.1 361.1,511.1 381.4,515.4 401.7,520.0 422.1,529.4 442.4,537.8 462.7,530.2 483.0,543.2 503.4,557.5 523.7,563.9 544.0,565.7 564.3,572.2 584.6,575.4 605.0,583.9 625.3,582.7 645.6,578.2"/>
<polyline class="c3" points="157.8,462.8 178.2,461.8 198.5,463.9 218.8,461.4 239.1,459.6 259.4,469.6 279.8,488.6 300.1,515.3 320.4,513.8 340.8,520.5 361.1,518.1 381.4,530.0 401.7,531.0 422.1,540.6 442.4,549.7 462.7,550.8 483.0,551.2 503.4,572.4 523.7,563.2 544.0,574.8 564.3,570.1 584.6,564.1"/>
<polyline class="c3" points="157.8,460.7 178.2,458.3 198.5,459.8 218.8,456.6 239.1,461.0 259.4,463.9 279.8,480.0 300.1,512.5 320.4,507.4 340.8,514.5 361.1,521.3 381.4,528.1 401.7,533.5 422.1,542.7 442.4,542.4 462.7,555.5 483.0,558.6"/>
<polyline class="c3" points="157.8,458.3 178.2,464.1 198.5,460.2 218.8,459.0 239.1,465.9 259.4,469.7 279.8,485.3 300.1,512.7 320.4,526.4 340.8,524.5 361.1,517.6 381.4,532.7 401.7,527.2 422.1,531.7 442.4,550.6 462.7,547.9 483.0,554.2 503.4,562.9"/>
<polyline class="c3" points="157.8,459.6 178.2,459.5 198.5,452.8 218.8,457.8 239.1,460.7 259.4,463.9 279.8,476.4 300.1,502.7 320.4,520.0 340.8,509.3 361.1,515.6 381.4,521.7 401.7,525.1 422.1,533.9 442.4,542.2 462.7,550.8 483.0,548.9"/>
<polyline class="c4" points="157.8,461.9 178.2,463.6 198.5,464.1 218.8,466.4 239.1,466.9 259.4,478.1 279.8,480.6 300.1,524.1 320.4,519.8 340.8,520.5 361.1,534.6 381.4,537.9 401.7,530.6 422.1,547.9 442.4,554.4 462.7,554.6 483.0,563.4 503.4,563.0"/>
<polyline class="c4" points="157.8,462.0 178.2,459.9 198.5,458.3 218.8,460.8 239.1,463.1 259.4,470.5 279.8,491.2 300.1,513.0 320.4,515.0 340.8,517.7 361.1,522.7 381.4,534.3 401.7,535.1 422.1,540.1 442.4,556.8 462.7,557.9 483.0,571.2 503.4,561.5 523.7,568.9 544.0,565.0"/>
<polyline class="c4" points="157.8,464.1 178.2,465.1 198.5,461.3 218.8,459.1 239.1,465.4 259.4,470.3 279.8,484.1 300.1,512.4 320.4,516.0 340.8,522.2 361.1,523.9 381.4,528.6 401.7,541.0 422.1,543.9 442.4,553.5 462.7,545.5 483.0,561.7 503.4,556.5"/>
<polyline class="c4" points="157.8,464.5 178.2,460.5 198.5,463.4 218.8,459.9 239.1,462.9 259.4,468.0 279.8,490.2 300.1,495.5 320.4,514.9 340.8,519.9 361.1,529.4 381.4,530.6 401.7,537.8 422.1,551.6 442.4,543.7 462.7,536.5 483.0,561.6"/>
<polyline class="c5" points="157.8,462.0 178.2,458.9 198.5,463.7 218.8,459.5 239.1,463.7 259.4,471.5 279.8,485.9 300.1,509.4 320.4,509.8 340.8,519.2 361.1,519.5 381.4,524.3 401.7,534.3 422.1,542.1 442.4,552.4 462.7,557.6 483.0,556.9 503.4,564.3"/>
<polyline class="c5" points="157.8,464.5 178.2,460.1 198.5,461.0 218.8,460.9 239.1,468.2 259.4,468.0 279.8,486.5 300.1,512.7 320.4,520.2 340.8,518.2 361.1,538.6 381.4,528.5 401.7,540.5 422.1,546.8 442.4,542.5 462.7,563.3 483.0,563.0"/>
<polyline class="c5" points="157.8,454.9 178.2,461.3 198.5,455.7 218.8,458.2 239.1,463.4 259.4,468.1 279.8,486.2 300.1,498.7 320.4,521.2 340.8,513.8 361.1,522.4 381.4,535.6 401.7,537.9 422.1,545.0 442.4,554.1 462.7,554.4 483.0,553.0 503.4,556.0 523.7,556.5 544.0,568.3 564.3,578.8 584.6,564.8 605.0,570.6 625.3,577.6 645.6,587.0"/>
<polyline class="c5" points="157.8,466.5 178.2,467.0 198.5,468.2 218.8,463.8 239.1,465.9 259.4,474.0 279.8,492.4 300.1,511.9 320.4,522.6 340.8,526.9 361.1,529.3 381.4,531.9 401.7,525.8 422.1,537.0 442.4,549.3 462.7,552.5 483.0,569.7 503.4,563.0"/>
<polyline class="c6" points="157.8,465.3 178.2,460.6 198.5,461.9 218.8,462.7 239.1,465.2 259.4,468.6 279.8,478.7 300.1,511.6 320.4,528.0 340.8,525.1 361.1,532.9 381.4,535.3 401.7,547.2 422.1,547.3 442.4,548.2 462.7,554.1 483.0,554.8 503.4,567.1"/>
<polyline class="c6" points="157.8,467.6 178.2,464.5 198.5,465.2 218.8,463.9 239.1,466.7 259.4,469.3 279.8,494.1 300.1,503.6 320.4,525.5 340.8,525.9 361.1,531.4 381.4,541.2 401.7,534.1 422.1,556.1 442.4,556.9 462.7,555.9 483.0,561.3 503.4,561.0 523.7,571.8 544.0,574.1 564.3,574.3 584.6,581.6"/>
<polyline class="c6" points="157.8,469.7 178.2,465.7 198.5,464.7 218.8,463.5 239.1,469.6 259.4,470.6 279.8,487.1 300.1,521.1 320.4,514.4 340.8,525.5 361.1,533.7 381.4,541.9 401.7,542.4 422.1,555.6 442.4,555.9 462.7,561.4 483.0,565.9"/>
<polyline class="c6" points="157.8,463.5 178.2,463.2 198.5,460.8 218.8,465.2 239.1,467.2 259.4,468.5 279.8,486.2 300.1,513.6 320.4,522.3 340.8,521.5 361.1,535.7 381.4,535.7 401.7,540.6 422.1,551.5 442.4,550.4 462.7,556.7 483.0,553.7 503.4,570.7"/>
<polyline class="c7" points="157.8,469.0 178.2,469.6 198.5,462.0 218.8,465.7 239.1,467.2 259.4,474.0 279.8,494.6 300.1,514.5 320.4,522.7 340.8,537.6 361.1,536.5 381.4,542.2 401.7,557.2 422.1,550.0 442.4,556.2 462.7,558.7 483.0,560.3 503.4,566.2"/>
<polyline class="c7" points="157.8,468.5 178.2,462.8 198.5,464.1 218.8,467.5 239.1,465.7 259.4,473.2 279.8,487.6 300.1,500.5 320.4,514.5 340.8,528.1 361.1,525.3 381.4,538.1 401.7,542.7 422.1,543.1 442.4,550.7 462.7,560.9 483.0,568.4 503.4,572.4"/>
<polyline class="c7" points="157.8,468.4 178.2,466.6 198.5,468.6 218.8,466.9 239.1,470.7 259.4,476.8 279.8,483.4 300.1,517.9 320.4,526.8 340.8,534.2 361.1,544.0 381.4,548.7 401.7,538.5 422.1,543.9 442.4,550.8 462.7,570.4 483.0,553.3 503.4,572.1 523.7,569.4 544.0,570.6 564.3,585.5 584.6,569.7 605.0,577.4"/>
<polyline class="c8" points="157.8,467.9 178.2,467.0 198.5,467.1 218.8,461.9 239.1,469.3 259.4,474.3 279.8,495.8 300.1,514.9 320.4,524.6 340.8,534.0 361.1,546.3 381.4,541.0 401.7,547.8 422.1,545.4 442.4,557.5 462.7,562.0 483.0,560.0 503.4,572.6"/>
<polyline class="c8" points="157.8,467.5 178.2,467.0 198.5,464.4 218.8,467.0 239.1,467.7 259.4,469.3 279.8,483.9 300.1,511.8 320.4,518.8 340.8,536.8 361.1,532.7 381.4,528.5 401.7,553.6 422.1,541.9 442.4,554.6 462.7,562.3 483.0,560.4 503.4,576.3"/>
<polyline class="c8" points="157.8,473.3 178.2,468.5 198.5,468.5 218.8,466.3 239.1,467.2 259.4,472.0 279.8,489.2 300.1,514.4 320.4,529.1 340.8,543.0 361.1,539.8 381.4,542.0 401.7,541.8 422.1,552.1 442.4,558.9 462.7,567.1 483.0,560.6"/>
<polyline class="c8" points="157.8,465.6 178.2,470.8 198.5,467.8 218.8,468.9 239.1,470.3 259.4,475.9 279.8,509.2 300.1,509.2 320.4,538.0 340.8,527.4 361.1,545.6 381.4,543.1 401.7,551.9 422.1,552.2 442.4,561.7 462.7,558.3 483.0,560.0 503.4,573.7 523.7,574.8 544.0,578.1 564.3,587.1 584.6,589.3"/>
<polyline class="c9" points="157.8,471.1 178.2,466.0 198.5,467.4 218.8,470.3 239.1,467.9 259.4,473.6 279.8,501.2 300.1,524.0 320.4,527.3 340.8,539.3 361.1,534.1 381.4,542.4 401.7,546.2 422.1,554.7 442.4,563.4 462.7,562.5 483.0,571.4 503.4,578.1 523.7,572.3 544.0,567.8 564.3,582.0 584.6,580.5 605.0,583.1 625.3,596.5"/>
<polyline class="c9" points="157.8,469.6 178.2,470.6 198.5,466.6 218.8,467.8 239.1,466.5 259.4,476.9 279.8,496.0 300.1,519.2 320.4,523.9 340.8,536.1 361.1,540.2 381.4,546.9 401.7,540.9 422.1,555.4 442.4,558.6 462.7,564.6 483.0,563.2"/>
<polyline class="c9" points="157.8,468.8 178.2,472.6 198.5,469.7 218.8,466.1 239.1,466.3 259.4,473.1 279.8,501.3 300.1,517.3 320.4,529.5 340.8,531.8 361.1,542.0 381.4,542.4 401.7,541.6 422.1,560.0 442.4,556.5 462.7,570.7 483.0,575.9 503.4,571.8"/>
<polyline class="c9" points="157.8,468.7 178.2,467.8 198.5,466.9 218.8,468.5 239.1,471.1 259.4,473.8 279.8,489.2 300.1,532.0 320.4,540.0 340.8,531.4 361.1,537.7 381.4,557.4 401.7,553.7 422.1,546.3 442.4,556.1 462.7,563.8 483.0,571.4"/>
<polyline class="c10" points="157.8,470.0 178.2,467.2 198.5,467.4 218.8,468.6 239.1,468.0 259.4,473.9 279.8,496.7 300.1,507.7 320.4,530.4 340.8,530.6 361.1,534.7 381.4,549.4 401.7,550.1 422.1,554.7 442.4,558.3 462.7,560.8 483.0,567.1 503.4,570.7 523.7,580.5 544.0,587.4"/>
<polyline class="c10" points="157.8,474.9 178.2,478.2 198.5,475.1 218.8,471.7 239.1,471.7 259.4,479.2 279.8,506.6 300.1,525.5 320.4,533.5 340.8,538.9 361.1,541.5 381.4,561.8 401.7,557.3 422.1,560.1 442.4,566.5 462.7,561.7 483.0,580.5 503.4,586.8"/>
<polyline class="c10" points="157.8,478.2 178.2,480.3 198.5,477.1 218.8,473.3 239.1,474.9 259.4,482.0 279.8,512.5 300.1,536.3 320.4,538.6 340.8,540.2 361.1,545.1 381.4,550.8 401.7,558.8 422.1,564.3 442.4,568.3 462.7,570.9 483.0,568.6"/>
<polyline class="c10" points="157.8,475.3 178.2,474.5 198.5,472.8 218.8,474.8 239.1,471.4 259.4,478.2 279.8,505.1 300.1,525.1 320.4,534.7 340.8,540.7 361.1,547.0 381.4,558.7 401.7,560.2 422.1,563.4 442.4,568.0 462.7,569.8 483.0,570.9"/>
<polyline class="c11" points="157.8,469.7 178.2,472.0 198.5,468.5 218.8,466.0 239.1,468.8 259.4,470.0 279.8,504.2 300.1,521.1 320.4,541.6 340.8,538.6 361.1,541.5 381.4,554.4 401.7,561.4 422.1,563.6 442.4,568.0 462.7,570.7 483.0,569.7"/>
<polyline class="c11" points="157.8,468.7 178.2,478.2 198.5,469.6 218.8,472.6 239.1,476.0 259.4,473.6 279.8,495.6 300.1,516.9 320.4,531.1 340.8,540.2 361.1,551.1 381.4,553.0 401.7,561.1 422.1,550.0 442.4,560.9 462.7,571.4 483.0,567.9 503.4,571.6"/>
<polyline class="c11" points="157.8,472.9 178.2,470.1 198.5,470.3 218.8,469.2 239.1,468.3 259.4,468.5 279.8,497.8 300.1,505.4 320.4,538.2 340.8,545.2 361.1,545.8 381.4,565.0 401.7,558.7 422.1,551.6 442.4,559.8 462.7,551.2 483.0,573.6 503.4,570.8"/>
<polyline class="c11" points="157.8,472.0 178.2,471.4 198.5,470.7 218.8,468.9 239.1,470.1 259.4,471.8 279.8,501.1 300.1,519.9 320.4,536.9 340.8,541.7 361.1,545.3 381.4,548.9 401.7,567.5 422.1,554.7 442.4,563.7 462.7,570.6 483.0,571.7 503.4,577.8 523.7,581.4 544.0,578.6 564.3,583.8 584.6,589.8 605.0,586.3 625.3,588.2"/>
<polyline class="c12" points="157.8,477.0 178.2,476.3 198.5,473.5 218.8,471.6 239.1,473.3 259.4,477.6 279.8,500.4 300.1,526.3 320.4,542.3 340.8,543.4 361.1,551.4 381.4,567.4 401.7,561.8 422.1,561.2 442.4,575.5 462.7,565.9 483.0,576.6"/>
<polyline class="c12" points="157.8,478.2 178.2,475.0 198.5,472.7 218.8,474.9 239.1,473.2 259.4,480.9 279.8,505.7 300.1,524.3 320.4,535.6 340.8,536.7 361.1,550.8 381.4,560.6 401.7,559.9 422.1,566.9 442.4,560.6 462.7,570.6 483.0,578.9 503.4,584.2"/>
<polyline class="c12" points="157.8,472.0 178.2,472.1 198.5,475.8 218.8,470.9 239.1,474.8 259.4,477.3 279.8,501.0 300.1,534.8 320.4,532.5 340.8,549.7 361.1,558.4 381.4,551.7 401.7,567.5 422.1,565.8 442.4,576.5 462.7,570.2 483.0,568.0"/>
<polyline class="c12" points="157.8,476.2 178.2,477.2 198.5,472.9 218.8,474.1 239.1,472.8 259.4,475.3 279.8,498.3 300.1,515.9 320.4,540.7 340.8,547.9 361.1,552.6 381.4,563.0 401.7,561.6 422.1,561.4 442.4,562.8 462.7,581.5 483.0,580.7 503.4,579.3"/>
<polyline class="c13" points="157.8,480.3 178.2,475.5 198.5,477.0 218.8,474.6 239.1,477.5 259.4,483.8 279.8,505.9 300.1,524.9 320.4,545.2 340.8,555.2 361.1,561.5 381.4,562.1 401.7,567.4 422.1,569.2 442.4,573.1 462.7,577.9 483.0,578.5 503.4,580.1"/>
<polyline class="c13" points="157.8,473.4 178.2,475.3 198.5,472.2 218.8,470.2 239.1,474.8 259.4,478.2 279.8,499.8 300.1,519.6 320.4,536.8 340.8,549.2 361.1,558.3 381.4,559.8 401.7,566.0 422.1,564.9 442.4,568.7 462.7,576.0 483.0,572.8 503.4,578.8"/>
<polyline class="c13" points="157.8,479.1 178.2,471.1 198.5,467.4 218.8,471.7 239.1,470.5 259.4,474.6 279.8,500.3 300.1,521.6 320.4,537.4 340.8,545.8 361.1,557.3 381.4,560.9 401.7,561.7 422.1,565.7 442.4,567.8 462.7,573.8 483.0,576.5"/>
<polyline class="c13" points="157.8,478.5 178.2,474.9 198.5,471.8 218.8,474.7 239.1,478.1 259.4,481.1 279.8,503.6 300.1,523.9 320.4,539.3 340.8,546.7 361.1,557.8 381.4,567.6 401.7,564.1 422.1,568.2 442.4,575.1 462.7,572.9 483.0,579.0"/>
<polyline class="c14" points="157.8,478.4 178.2,479.5 198.5,474.2 218.8,474.8 239.1,479.1 259.4,483.1 279.8,505.6 300.1,525.9 320.4,547.3 340.8,553.4 361.1,559.9 381.4,566.6 401.7,565.6 422.1,569.8 442.4,571.5 462.7,573.4 483.0,577.0 503.4,581.4"/>
<polyline class="c14" points="157.8,476.2 178.2,475.3 198.5,474.0 218.8,473.6 239.1,473.3 259.4,479.2 279.8,499.9 300.1,522.6 320.4,542.0 340.8,552.4 361.1,558.0 381.4,565.4 401.7,565.0 422.1,568.3 442.4,568.1 462.7,575.4 483.0,578.1 503.4,579.6 523.7,587.5 544.0,588.0 564.3,594.4"/>
<polyline class="c14" points="157.8,481.2 178.2,478.1 198.5,481.9 218.8,474.0 239.1,475.3 259.4,481.1 279.8,506.0 300.1,525.7 320.4,544.0 340.8,551.6 361.1,562.4 381.4,563.3 401.7,567.9 422.1,572.6 442.4,572.2 462.7,580.4 483.0,578.1 503.4,583.6"/>
<polyline class="c14" points="157.8,474.4 178.2,472.3 198.5,471.5 218.8,476.5 239.1,475.1 259.4,478.6 279.8,500.5 300.1,520.8 320.4,538.0 340.8,551.4 361.1,559.2 381.4,564.7 401.7,568.0 422.1,566.1 442.4,569.2 462.7,575.3 483.0,579.9 503.4,579.0"/>
<polyline class="c15" points="157.8,478.3 178.2,473.9 198.5,473.5 218.8,473.0 239.1,472.5 259.4,477.2 279.8,498.4 300.1,521.1 320.4,538.6 340.8,548.7 361.1,559.5 381.4,559.6 401.7,563.0 422.1,565.7 442.4,569.5 462.7,574.6 483.0,574.2"/>
<polyline class="c15" points="157.8,478.9 178.2,480.4 198.5,474.1 218.8,477.4 239.1,478.1 259.4,481.4 279.8,505.9 300.1,523.3 320.4,541.1 340.8,554.8 361.1,561.5 381.4,564.3 401.7,570.5 422.1,566.9 442.4,569.9 462.7,580.9 483.0,582.1"/>
<polyline class="c15" points="157.8,477.5 178.2,474.0 198.5,474.5 218.8,476.1 239.1,477.8 259.4,481.6 279.8,503.3 300.1,524.0 320.4,538.3 340.8,549.3 361.1,560.9 381.4,565.6 401.7,562.9 422.1,567.4 442.4,567.9 462.7,575.4 483.0,574.8 503.4,581.4"/>
<polyline class="c15" points="157.8,479.8 178.2,480.3 198.5,475.6 218.8,480.0 239.1,480.2 259.4,483.4 279.8,506.4 300.1,525.3 320.4,544.5 340.8,551.4 361.1,561.8 381.4,566.0 401.7,568.7 422.1,569.2 442.4,570.1 462.7,575.5 483.0,579.5 503.4,583.4"/>
<polyline class="c16" points="157.8,475.9 178.2,473.5 198.5,479.0 218.8,477.0 239.1,479.7 259.4,481.7 279.8,503.5 300.1,524.3 320.4,541.5 340.8,549.3 361.1,561.4 381.4,568.1 401.7,568.2 422.1,572.2 442.4,569.0 462.7,580.1 483.0,578.0"/>
<polyline class="c16" points="157.8,476.8 178.2,474.0 198.5,475.6 218.8,472.5 239.1,474.2 259.4,478.2 279.8,501.6 300.1,517.6 320.4,543.3 340.8,550.2 361.1,558.7 381.4,566.6 401.7,570.5 422.1,563.0 442.4,570.9 462.7,574.3 483.0,579.0 503.4,584.3"/>
<polyline class="c16" points="157.8,476.3 178.2,473.3 198.5,471.4 218.8,471.1 239.1,474.0 259.4,477.4 279.8,502.0 300.1,521.7 320.4,536.7 340.8,549.8 361.1,556.8 381.4,562.0 401.7,562.2 422.1,567.7 442.4,568.3 462.7,574.4 483.0,579.6 503.4,579.0"/>
<polyline class="c16" points="157.8,475.9 178.2,476.0 198.5,471.4 218.8,467.5 239.1,470.9 259.4,480.2 279.8,501.9 300.1,523.2 320.4,539.1 340.8,545.3 361.1,555.6 381.4,561.9 401.7,562.4 422.1,566.3 442.4,570.2 462.7,578.6 483.0,577.9 503.4,580.3"/>
<polyline class="c17" points="157.8,478.6 178.2,480.4 198.5,479.0 218.8,478.6 239.1,479.4 259.4,479.2 279.8,509.7 300.1,524.2 320.4,543.2 340.8,552.4 361.1,566.4 381.4,568.9 401.7,570.0 422.1,573.1 442.4,572.3 462.7,581.8 483.0,580.9 503.4,584.4"/>
<polyline class="c17" points="157.8,476.8 178.2,476.6 198.5,469.7 218.8,475.3 239.1,474.5 259.4,475.2 279.8,503.2 300.1,520.0 320.4,535.3 340.8,546.7 361.1,557.6 381.4,565.6 401.7,564.5 422.1,563.6 442.4,568.5 462.7,574.3 483.0,576.3"/>
<polyline class="c17" points="157.8,479.8 178.2,478.7 198.5,473.4 218.8,473.4 239.1,477.6 259.4,480.3 279.8,503.1 300.1,526.0 320.4,546.4 340.8,548.4 361.1,561.8 381.4,563.9 401.7,569.1 422.1,568.7 442.4,571.3 462.7,578.2 483.0,578.2"/>
<polyline class="c17" points="157.8,477.6 178.2,475.0 198.5,477.2 218.8,477.6 239.1,481.0 259.4,477.3 279.8,505.7 300.1,527.7 320.4,545.6 340.8,550.8 361.1,560.0 381.4,565.3 401.7,571.8 422.1,566.8 442.4,573.9 462.7,581.4 483.0,581.0 503.4,583.6"/>
<polyline class="c18" points="157.8,480.1 178.2,476.9 198.5,478.1 218.8,477.8 239.1,475.7 259.4,484.6 279.8,509.1 300.1,525.8 320.4,544.7 340.8,553.9 361.1,564.0 381.4,566.8 401.7,568.5 422.1,569.7 442.4,576.7 462.7,578.7 483.0,583.3 503.4,584.4"/>
<polyline class="c18" points="157.8,477.0 178.2,479.6 198.5,475.4 218.8,472.1 239.1,476.8 259.4,479.7 279.8,504.0 300.1,524.6 320.4,542.7 340.8,547.7 361.1,561.3 381.4,561.5 401.7,569.7 422.1,567.9 442.4,569.5 462.7,578.4 483.0,580.6 503.4,579.5"/>
<polyline class="c18" points="157.8,479.8 178.2,473.6 198.5,473.7 218.8,476.6 239.1,477.8 259.4,479.3 279.8,507.3 300.1,521.2 320.4,538.5 340.8,548.9 361.1,562.4 381.4,561.2 401.7,567.4 422.1,573.0 442.4,571.1 462.7,578.1 483.0,579.5 503.4,580.2"/>
<polyline class="c19" points="157.8,470.1 178.2,472.9 198.5,474.0 218.8,471.8 239.1,473.9 259.4,476.3 279.8,500.5 300.1,518.1 320.4,536.1 340.8,545.9 361.1,555.7 381.4,563.3 401.7,558.1 422.1,567.1 442.4,573.0 462.7,574.9 483.0,572.5 503.4,576.4"/>
<polyline class="c19" points="157.8,476.4 178.2,473.3 198.5,471.7 218.8,475.2 239.1,472.7 259.4,475.7 279.8,500.4 300.1,523.1 320.4,540.4 340.8,548.9 361.1,560.6 381.4,564.8 401.7,562.6 422.1,569.2 442.4,569.2 462.7,575.4 483.0,575.1 503.4,577.7"/>
<polyline class="c19" points="157.8,484.7 178.2,478.6 198.5,483.6 218.8,476.6 239.1,477.7 259.4,483.1 279.8,508.7 300.1,530.4 320.4,539.8 340.8,552.6 361.1,559.1 381.4,568.7 401.7,566.0 422.1,570.7 442.4,574.2 462.7,582.9 483.0,578.6 503.4,583.9"/>
<polyline class="c19" points="157.8,477.3 178.2,475.7 198.5,473.1 218.8,474.5 239.1,476.2 259.4,478.2 279.8,498.9 300.1,523.9 320.4,539.5 340.8,547.7 361.1,558.8 381.4,562.5 401.7,566.4 422.1,566.7 442.4,570.3 462.7,574.6 483.0,579.8"/>
<polyline class="c20" points="157.8,484.5 178.2,483.0 198.5,477.2 218.8,479.3 239.1,478.5 259.4,483.1 279.8,507.5 300.1,531.7 320.4,546.6 340.8,554.5 361.1,563.8 381.4,569.3 401.7,569.8 422.1,575.4 442.4,575.7 462.7,582.2 483.0,584.5 503.4,587.7 523.7,591.2 544.0,592.3 564.3,595.9"/>
<polyline class="c20" points="157.8,474.7 178.2,476.0 198.5,473.7 218.8,470.8 239.1,476.4 259.4,477.7 279.8,504.5 300.1,521.9 320.4,541.6 340.8,547.2 361.1,561.8 381.4,563.1 401.7,567.7 422.1,570.5 442.4,572.0 462.7,577.6 483.0,579.2 503.4,579.6"/>
<polyline class="c20" points="157.8,483.2 178.2,478.1 198.5,477.5 218.8,478.2 239.1,479.8 259.4,485.2 279.8,509.1 300.1,524.6 320.4,544.3 340.8,556.5 361.1,564.7 381.4,568.8 401.7,571.2 422.1,571.5 442.4,574.0 462.7,583.1 483.0,583.4 503.4,585.2"/>
<polyline class="c20" points="157.8,477.4 178.2,473.7 198.5,479.2 218.8,474.7 239.1,477.4 259.4,479.3 279.8,504.8 300.1,524.6 320.4,541.7 340.8,552.2 361.1,559.8 381.4,565.1 401.7,569.1 422.1,568.8 442.4,574.3 462.7,580.3 483.0,579.9 503.4,585.1"/>
<polyline class="c21" points="157.8,478.4 178.2,477.7 198.5,476.1 218.8,474.1 239.1,478.7 259.4,482.0 279.8,506.2 300.1,528.9 320.4,543.1 340.8,552.0 361.1,561.0 381.4,566.2 401.7,567.8 422.1,571.0 442.4,570.9 462.7,577.3 483.0,581.5 503.4,585.2 523.7,588.6 544.0,595.5 564.3,593.5 584.6,593.8 605.0,598.1"/>
<polyline class="c21" points="157.8,478.6 178.2,473.6 198.5,472.6 218.8,474.1 239.1,473.4 259.4,480.8 279.8,505.3 300.1,521.6 320.4,539.6 340.8,548.0 361.1,559.2 381.4,561.1 401.7,566.6 422.1,567.9 442.4,569.5 462.7,575.9 483.0,580.1"/>
<polyline class="c21" points="157.8,471.7 178.2,475.3 198.5,475.4 218.8,474.7 239.1,474.5 259.4,476.8 279.8,506.9 300.1,522.2 320.4,538.7 340.8,551.3 361.1,557.7 381.4,562.6 401.7,567.2 422.1,570.7 442.4,568.7 462.7,580.7 483.0,578.5 503.4,578.9"/>
<polyline class="c22" points="157.8,472.8 178.2,473.3 198.5,474.2 218.8,474.0 239.1,473.5 259.4,478.5 279.8,503.8 300.1,519.7 320.4,541.8 340.8,549.9 361.1,555.3 381.4,562.0 401.7,565.3 422.1,567.1 442.4,569.8 462.7,576.6 483.0,575.2 503.4,580.1"/>
<polyline class="c22" points="157.8,477.5 178.2,473.6 198.5,475.6 218.8,471.2 239.1,480.3 259.4,476.7 279.8,504.3 300.1,522.2 320.4,542.8 340.8,549.9 361.1,560.8 381.4,567.0 401.7,567.6 422.1,568.8 442.4,572.1 462.7,577.5 483.0,579.0 503.4,581.8 523.7,586.9 544.0,593.1 564.3,594.3 584.6,597.0 605.0,598.6"/>
<polyline class="c22" points="157.8,476.4 178.2,476.8 198.5,480.2 218.8,479.0 239.1,480.9 259.4,481.6 279.8,507.3 300.1,527.0 320.4,540.3 340.8,551.2 361.1,562.2 381.4,567.0 401.7,565.8 422.1,571.8 442.4,575.5 462.7,577.8 483.0,582.8"/>
<polyline class="c22" points="157.8,478.1 178.2,478.0 198.5,475.9 218.8,475.7 239.1,477.8 259.4,483.5 279.8,503.4 300.1,524.4 320.4,539.8 340.8,549.2 361.1,558.8 381.4,569.7 401.7,571.3 422.1,573.3 442.4,577.1 462.7,581.2 483.0,581.0 503.4,583.8 523.7,585.8 544.0,590.5"/>
<polyline class="c23" points="157.8,477.5 178.2,478.2 198.5,476.4 218.8,476.5 239.1,477.9 259.4,480.6 279.8,506.0 300.1,524.9 320.4,541.1 340.8,552.6 361.1,561.6 381.4,569.3 401.7,566.4 422.1,571.4 442.4,574.5 462.7,579.4 483.0,578.8"/>
<polyline class="c23" points="157.8,474.2 178.2,477.2 198.5,472.6 218.8,469.6 239.1,474.1 259.4,476.7 279.8,500.5 300.1,520.6 320.4,540.2 340.8,547.5 361.1,563.0 381.4,560.8 401.7,565.5 422.1,566.4 442.4,573.1 462.7,579.1 483.0,576.3 503.4,575.5"/>
<polyline class="c23" points="157.8,478.9 178.2,478.7 198.5,479.3 218.8,475.1 239.1,475.1 259.4,480.9 279.8,502.7 300.1,522.1 320.4,545.0 340.8,549.8 361.1,560.5 381.4,565.2 401.7,564.0 422.1,573.1 442.4,576.3 462.7,576.9 483.0,581.3"/>
<polyline class="c23" points="157.8,477.6 178.2,478.5 198.5,473.4 218.8,476.2 239.1,475.6 259.4,476.2 279.8,503.9 300.1,523.8 320.4,540.7 340.8,554.5 361.1,563.8 381.4,562.2 401.7,566.7 422.1,568.7 442.4,571.6 462.7,581.3 483.0,582.3"/>
<polyline class="c24" points="157.8,476.8 178.2,478.8 198.5,477.8 218.8,474.9 239.1,476.4 259.4,479.6 279.8,507.0 300.1,526.4 320.4,545.4 340.8,554.2 361.1,558.6 381.4,567.8 401.7,569.8 422.1,573.6 442.4,575.5 462.7,577.2 483.0,577.8 503.4,586.6"/>
<polyline class="c24" points="157.8,476.2 178.2,478.2 198.5,472.7 218.8,475.8 239.1,473.4 259.4,478.2 279.8,506.2 300.1,524.9 320.4,541.4 340.8,552.9 361.1,560.5 381.4,565.2 401.7,565.7 422.1,570.1 442.4,573.3 462.7,575.4 483.0,579.8 503.4,584.5"/>
<polyline class="c24" points="157.8,480.7 178.2,477.2 198.5,477.2 218.8,474.9 239.1,476.6 259.4,483.3 279.8,504.4 300.1,518.9 320.4,542.7 340.8,552.6 361.1,559.5 381.4,562.8 401.7,569.1 422.1,569.7 442.4,573.4 462.7,574.4 483.0,579.9 503.4,584.3 523.7,589.5 544.0,594.6 564.3,589.8 584.6,592.4 605.0,596.4"/>
<polyline class="c25" points="157.8,476.8 178.2,473.8 198.5,475.2 218.8,475.6 239.1,473.8 259.4,480.6 279.8,505.5 300.1,522.6 320.4,544.1 340.8,551.6 361.1,562.0 381.4,568.0 401.7,568.0 422.1,568.6 442.4,574.6 462.7,579.6 483.0,581.2"/>
<polyline class="c25" points="157.8,481.0 178.2,481.4 198.5,476.0 218.8,477.6 239.1,479.2 259.4,477.4 279.8,507.5 300.1,524.9 320.4,545.0 340.8,551.9 361.1,563.1 381.4,569.1 401.7,566.7 422.1,571.4 442.4,577.7 462.7,577.9 483.0,584.1 503.4,583.5 523.7,587.0"/>
<polyline class="c25" points="157.8,478.3 178.2,479.5 198.5,478.0 218.8,479.7 239.1,476.4 259.4,481.7 279.8,508.1 300.1,521.8 320.4,542.5 340.8,553.2 361.1,562.6 381.4,567.6 401.7,570.9 422.1,566.7 442.4,574.0 462.7,577.9 483.0,578.2 503.4,585.4"/>
<polyline class="c25" points="157.8,478.2 178.2,475.8 198.5,475.2 218.8,476.5 239.1,480.2 259.4,485.0 279.8,507.8 300.1,526.0 320.4,542.0 340.8,550.0 361.1,565.4 381.4,567.0 401.7,568.5 422.1,569.7 442.4,577.8 462.7,580.2 483.0,580.6 503.4,586.6"/>
<polyline class="c26" points="157.8,478.3 178.2,479.0 198.5,479.2 218.8,475.6 239.1,478.5 259.4,485.0 279.8,502.0 300.1,522.5 320.4,546.4 340.8,552.1 361.1,559.8 381.4,565.5 401.7,568.8 422.1,571.3 442.4,573.7 462.7,579.2 483.0,582.6 503.4,585.7 523.7,590.6 544.0,592.0 564.3,594.0 584.6,596.7"/>
<polyline class="c26" points="157.8,473.6 178.2,476.7 198.5,471.9 218.8,480.6 239.1,475.6 259.4,480.9 279.8,506.4 300.1,527.7 320.4,543.2 340.8,553.1 361.1,559.1 381.4,564.4 401.7,568.1 422.1,573.0 442.4,575.2 462.7,580.3 483.0,581.1 503.4,582.9"/>
<polyline class="c26" points="157.8,480.7 178.2,482.5 198.5,479.7 218.8,482.6 239.1,484.0 259.4,489.0 279.8,511.1 300.1,530.1 320.4,548.8 340.8,559.2 361.1,563.0 381.4,568.9 401.7,571.6 422.1,577.0 442.4,580.5 462.7,583.2 483.0,589.2"/>
<polyline class="c26" points="157.8,476.4 178.2,476.0 198.5,478.1 218.8,473.1 239.1,475.6 259.4,480.4 279.8,503.2 300.1,524.6 320.4,541.9 340.8,550.7 361.1,560.7 381.4,567.5 401.7,571.3 422.1,571.8 442.4,575.3 462.7,576.8 483.0,583.7"/>
<polyline class="c27" points="157.8,477.3 178.2,479.6 198.5,481.0 218.8,475.9 239.1,476.9 259.4,484.3 279.8,503.2 300.1,524.2 320.4,543.5 340.8,555.3 361.1,563.7 381.4,565.8 401.7,565.7 422.1,572.5 442.4,574.8 462.7,581.5 483.0,582.3"/>
<polyline class="c27" points="157.8,477.2 178.2,479.3 198.5,478.9 218.8,479.3 239.1,483.0 259.4,480.9 279.8,509.2 300.1,525.7 320.4,540.2 340.8,556.0 361.1,564.0 381.4,570.2 401.7,567.4 422.1,570.4 442.4,577.2 462.7,582.4 483.0,579.3"/>
<polyline class="c27" points="157.8,477.9 178.2,478.5 198.5,474.8 218.8,475.8 239.1,475.5 259.4,479.3 279.8,505.8 300.1,522.8 320.4,540.6 340.8,554.9 361.1,557.4 381.4,561.2 401.7,565.6 422.1,570.1 442.4,574.2 462.7,575.6 483.0,577.7"/>
<polyline class="c28" points="157.8,482.0 178.2,478.0 198.5,481.4 218.8,479.1 239.1,480.5 259.4,484.1 279.8,506.3 300.1,523.8 320.4,545.9 340.8,551.7 361.1,563.6 381.4,568.9 401.7,573.2 422.1,575.8 442.4,576.3 462.7,582.8 483.0,584.1"/>
<polyline class="c28" points="157.8,480.7 178.2,478.9 198.5,478.3 218.8,478.4 239.1,479.8 259.4,480.4 279.8,502.4 300.1,526.6 320.4,540.8 340.8,549.8 361.1,562.9 381.4,567.3 401.7,569.2 422.1,571.7 442.4,577.0 462.7,581.1 483.0,584.4"/>
<polyline class="c28" points="157.8,478.9 178.2,478.8 198.5,480.7 218.8,479.5 239.1,477.6 259.4,480.8 279.8,509.0 300.1,523.6 320.4,544.4 340.8,553.3 361.1,562.6 381.4,568.9 401.7,566.4 422.1,574.3 442.4,578.7 462.7,579.1 483.0,582.3"/>
<polyline class="c28" points="157.8,480.5 178.2,481.0 198.5,479.7 218.8,477.6 239.1,478.5 259.4,485.8 279.8,508.4 300.1,527.0 320.4,548.7 340.8,554.0 361.1,562.1 381.4,563.7 401.7,571.6 422.1,574.7 442.4,574.3 462.7,583.2 483.0,581.6 503.4,585.7"/>
<polyline class="c29" points="157.8,481.5 178.2,481.6 198.5,478.1 218.8,479.9 239.1,481.4 259.4,482.6 279.8,511.4 300.1,525.8 320.4,547.4 340.8,557.6 361.1,568.4 381.4,568.6 401.7,570.3 422.1,575.3 442.4,578.4 462.7,585.4 483.0,579.3 503.4,583.2"/>
<polyline class="c29" points="157.8,480.4 178.2,483.1 198.5,478.0 218.8,477.5 239.1,477.0 259.4,487.7 279.8,510.6 300.1,527.7 320.4,549.5 340.8,554.9 361.1,566.3 381.4,568.3 401.7,573.2 422.1,574.7 442.4,581.1 462.7,584.4 483.0,586.9 503.4,592.1"/>
<polyline class="c29" points="157.8,480.5 178.2,479.6 198.5,479.1 218.8,483.2 239.1,478.5 259.4,485.8 279.8,514.5 300.1,528.1 320.4,545.3 340.8,556.4 361.1,564.9 381.4,566.4 401.7,572.7 422.1,576.5 442.4,578.1 462.7,587.4 483.0,585.5"/>
<polyline class="c30" points="157.8,483.6 178.2,478.3 198.5,482.7 218.8,482.2 239.1,479.5 259.4,486.5 279.8,511.1 300.1,525.9 320.4,545.5 340.8,555.4 361.1,561.9 381.4,568.8 401.7,569.8 422.1,578.3 442.4,582.3 462.7,582.6 483.0,585.6 503.4,585.4"/>
<polyline class="c30" points="157.8,482.8 178.2,479.1 198.5,481.2 218.8,479.3 239.1,477.8 259.4,484.8 279.8,506.8 300.1,523.7 320.4,544.9 340.8,553.7 361.1,563.9 381.4,567.9 401.7,570.4 422.1,575.8 442.4,581.5 462.7,581.9 483.0,583.7"/>
<polyline class="c30" points="157.8,481.0 178.2,485.5 198.5,485.6 218.8,479.2 239.1,484.3 259.4,484.4 279.8,506.4 300.1,523.2 320.4,549.7 340.8,556.8 361.1,566.4 381.4,569.1 401.7,575.7 422.1,573.5 442.4,579.0 462.7,589.2 483.0,588.5 503.4,588.4"/>
<polyline class="c30" points="157.8,480.2 178.2,484.2 198.5,479.6 218.8,479.3 239.1,481.8 259.4,488.3 279.8,507.9 300.1,531.7 320.4,547.6 340.8,557.2 361.1,563.5 381.4,569.0 401.7,570.4 422.1,575.3 442.4,583.4 462.7,584.9 483.0,581.7 503.4,589.4"/>
<polyline class="c31" points="157.8,484.9 178.2,483.2 198.5,478.8 218.8,481.5 239.1,478.6 259.4,488.9 279.8,507.7 300.1,527.5 320.4,551.0 340.8,557.8 361.1,566.6 381.4,574.2 401.7,572.3 422.1,577.9 442.4,583.1 462.7,587.8 483.0,588.7"/>
<polyline class="c31" points="157.8,482.4 178.2,478.5 198.5,479.6 218.8,479.5 239.1,485.0 259.4,481.8 279.8,508.0 300.1,527.0 320.4,546.7 340.8,555.5 361.1,563.6 381.4,570.9 401.7,571.3 422.1,576.7 442.4,577.7 462.7,585.3 483.0,586.3 503.4,586.9"/>
<polyline class="c31" points="157.8,485.8 178.2,484.2 198.5,480.9 218.8,482.2 239.1,482.0 259.4,484.3 279.8,508.6 300.1,531.7 320.4,551.8 340.8,557.9 361.1,563.9 381.4,568.2 401.7,575.5 422.1,576.7 442.4,583.5 462.7,586.4 483.0,585.6"/>
<polyline class="c31" points="157.8,482.9 178.2,482.5 198.5,483.1 218.8,481.3 239.1,481.4 259.4,487.2 279.8,510.0 300.1,527.2 320.4,546.9 340.8,561.4 361.1,565.0 381.4,573.1 401.7,575.6 422.1,580.1 442.4,582.3 462.7,587.2 483.0,587.1 503.4,594.0"/>
<polyline class="c32" points="157.8,485.2 178.2,483.1 198.5,481.7 218.8,481.2 239.1,480.1 259.4,486.2 279.8,515.7 300.1,530.9 320.4,551.7 340.8,562.8 361.1,568.2 381.4,571.5 401.7,574.8 422.1,580.5 442.4,581.3 462.7,587.5 483.0,591.7 503.4,589.8"/>
<polyline class="c32" points="157.8,487.5 178.2,485.2 198.5,483.7 218.8,483.4 239.1,483.8 259.4,492.9 279.8,510.6 300.1,531.2 320.4,552.6 340.8,560.1 361.1,569.1 381.4,575.2 401.7,573.0 422.1,582.9 442.4,582.0 462.7,589.9 483.0,591.2 503.4,590.5"/>
<polyline class="c32" points="157.8,480.3 178.2,482.4 198.5,482.5 218.8,485.0 239.1,479.6 259.4,486.5 279.8,511.4 300.1,526.7 320.4,553.4 340.8,557.1 361.1,570.2 381.4,569.0 401.7,577.2 422.1,579.6 442.4,579.1 462.7,585.8 483.0,584.8 503.4,592.4"/>
<polyline class="c33" points="157.8,483.7 178.2,481.4 198.5,481.8 218.8,484.3 239.1,484.8 259.4,484.8 279.8,511.5 300.1,532.2 320.4,551.1 340.8,558.7 361.1,568.9 381.4,575.3 401.7,579.0 422.1,582.8 442.4,581.7 462.7,585.0 483.0,591.8 503.4,591.8"/>
<polyline class="c33" points="157.8,488.5 178.2,489.3 198.5,488.2 218.8,482.3 239.1,481.9 259.4,488.4 279.8,514.2 300.1,530.7 320.4,552.1 340.8,560.0 361.1,570.3 381.4,574.0 401.7,579.4 422.1,584.1 442.4,583.1 462.7,588.8 483.0,589.9 503.4,593.0"/>
<polyline class="c33" points="157.8,485.5 178.2,483.2 198.5,486.2 218.8,485.9 239.1,484.7 259.4,487.0 279.8,510.7 300.1,529.1 320.4,556.5 340.8,557.9 361.1,562.9 381.4,572.9 401.7,576.4 422.1,581.1 442.4,589.7 462.7,588.1 483.0,588.2"/>
<polyline class="c33" points="157.8,485.6 178.2,485.1 198.5,482.9 218.8,484.5 239.1,483.9 259.4,489.6 279.8,514.0 300.1,530.1 320.4,552.4 340.8,559.6 361.1,568.4 381.4,575.3 401.7,578.4 422.1,581.9 442.4,586.4 462.7,594.1 483.0,592.4"/>
<polyline class="c34" points="157.8,486.0 178.2,485.3 198.5,481.0 218.8,484.3 239.1,484.8 259.4,487.9 279.8,511.9 300.1,530.6 320.4,547.5 340.8,559.9 361.1,571.9 381.4,573.5 401.7,575.7 422.1,582.0 442.4,580.9 462.7,588.4 483.0,588.2"/>
<polyline class="c34" points="157.8,487.4 178.2,482.2 198.5,485.7 218.8,481.7 239.1,485.5 259.4,488.8 279.8,516.5 300.1,534.2 320.4,554.2 340.8,560.4 361.1,568.2 381.4,572.0 401.7,580.3 422.1,580.8 442.4,586.2 462.7,594.5 483.0,590.2"/>
<polyline class="c34" points="157.8,482.2 178.2,482.2 198.5,482.2 218.8,480.5 239.1,478.1 259.4,490.0 279.8,506.6 300.1,529.0 320.4,547.0 340.8,558.8 361.1,566.0 381.4,572.7 401.7,574.2 422.1,582.2 442.4,584.4 462.7,586.8 483.0,588.3 503.4,589.3"/>
<polyline class="c34" points="157.8,486.3 178.2,485.9 198.5,480.8 218.8,485.0 239.1,484.7 259.4,490.7 279.8,511.0 300.1,526.8 320.4,552.4 340.8,562.3 361.1,569.6 381.4,575.4 401.7,575.9 422.1,588.2 442.4,589.1 462.7,591.2 483.0,592.5 503.4,594.1"/>
<polyline class="c35" points="157.8,481.6 178.2,482.6 198.5,482.2 218.8,485.1 239.1,479.8 259.4,490.1 279.8,514.1 300.1,531.5 320.4,553.3 340.8,558.9 361.1,568.8 381.4,574.3 401.7,575.9 422.1,584.3 442.4,588.4 462.7,592.1 483.0,593.0 503.4,595.2"/>
<polyline class="c35" points="157.8,485.6 178.2,483.7 198.5,482.9 218.8,481.2 239.1,482.6 259.4,487.7 279.8,514.5 300.1,530.0 320.4,549.3 340.8,559.2 361.1,569.3 381.4,577.8 401.7,578.1 422.1,584.1 442.4,586.4 462.7,588.4 483.0,592.5 503.4,591.6"/>
<polyline class="c35" points="157.8,486.9 178.2,488.0 198.5,485.1 218.8,483.5 239.1,484.6 259.4,494.4 279.8,511.4 300.1,533.8 320.4,556.5 340.8,562.3 361.1,572.1 381.4,575.1 401.7,582.4 422.1,586.6 442.4,589.1 462.7,592.2 483.0,597.1"/>
<polyline class="c36" points="157.8,481.7 178.2,487.4 198.5,486.1 218.8,484.9 239.1,483.3 259.4,493.4 279.8,510.1 300.1,531.8 320.4,557.9 340.8,558.8 361.1,570.0 381.4,574.3 401.7,579.8 422.1,588.0 442.4,589.1 462.7,587.2 483.0,591.5 503.4,594.4"/>
<polyline class="c36" points="157.8,485.8 178.2,482.6 198.5,482.3 218.8,483.1 239.1,481.0 259.4,489.1 279.8,513.8 300.1,533.4 320.4,551.9 340.8,561.3 361.1,570.1 381.4,572.2 401.7,577.6 422.1,582.4 442.4,586.6 462.7,596.8 483.0,591.9 503.4,590.8"/>
<polyline class="c36" points="157.8,488.2 178.2,487.3 198.5,484.8 218.8,486.3 239.1,485.9 259.4,489.5 279.8,512.2 300.1,536.4 320.4,555.2 340.8,563.1 361.1,568.3 381.4,579.3 401.7,580.7 422.1,588.6 442.4,587.5 462.7,596.6 483.0,595.0"/>
<polyline class="c36" points="157.8,489.5 178.2,491.3 198.5,484.3 218.8,487.0 239.1,486.4 259.4,493.4 279.8,519.8 300.1,531.8 320.4,553.8 340.8,568.0 361.1,575.9 381.4,581.8 401.7,584.3 422.1,588.8 442.4,588.9 462.7,594.2 483.0,596.1 503.4,598.4"/>
<polyline class="c37" points="157.8,492.9 178.2,493.3 198.5,493.3 218.8,493.4 239.1,492.9 259.4,498.1 279.8,518.7 300.1,535.9 320.4,561.9 340.8,570.6 361.1,576.8 381.4,580.9 401.7,584.5 422.1,591.1 442.4,594.4 462.7,599.4 483.0,598.2"/>
<polyline class="c37" points="157.8,487.2 178.2,488.5 198.5,485.8 218.8,487.1 239.1,483.6 259.4,490.4 279.8,514.6 300.1,533.3 320.4,557.4 340.8,563.3 361.1,574.4 381.4,573.7 401.7,582.6 422.1,587.9 442.4,594.8 462.7,594.3 483.0,593.0"/>
<polyline class="c37" points="157.8,487.3 178.2,488.3 198.5,488.3 218.8,488.3 239.1,489.7 259.4,492.1 279.8,513.7 300.1,535.6 320.4,555.0 340.8,567.6 361.1,574.1 381.4,576.9 401.7,581.5 422.1,588.0 442.4,593.2 462.7,593.4 483.0,596.2 503.4,598.9"/>
<polyline class="c38" points="157.8,488.1 178.2,487.2 198.5,484.4 218.8,480.4 239.1,488.7 259.4,490.2 279.8,512.1 300.1,530.9 320.4,554.5 340.8,566.1 361.1,568.3 381.4,575.9 401.7,580.6 422.1,588.9 442.4,588.6 462.7,590.7 483.0,595.6"/>
<polyline class="c38" points="157.8,490.1 178.2,489.1 198.5,485.8 218.8,487.1 239.1,487.1 259.4,494.4 279.8,517.9 300.1,531.8 320.4,560.4 340.8,567.1 361.1,572.7 381.4,576.4 401.7,586.1 422.1,591.8 442.4,598.1 462.7,598.2 483.0,595.7 503.4,596.8"/>
<polyline class="c38" points="157.8,487.1 178.2,488.2 198.5,488.9 218.8,486.8 239.1,520.3 259.4,495.7 279.8,516.8 300.1,531.8 320.4,561.6 340.8,569.6 361.1,575.0 381.4,577.4 401.7,587.6 422.1,594.0 442.4,594.7 462.7,595.7 483.0,605.9"/>
<polyline class="c38" points="157.8,490.5 178.2,486.9 198.5,485.0 218.8,487.2 239.1,487.7 259.4,498.3 279.8,514.3 300.1,530.2 320.4,555.8 340.8,563.4 361.1,572.8 381.4,577.8 401.7,582.4 422.1,590.0 442.4,595.0 462.7,595.4 483.0,596.1 503.4,597.7"/>
<polyline class="c39" points="157.8,490.4 178.2,489.5 198.5,484.7 218.8,485.1 239.1,482.6 259.4,496.0 279.8,517.6 300.1,532.3 320.4,553.8 340.8,565.8 361.1,573.3 381.4,576.9 401.7,582.3 422.1,589.9 442.4,591.2 462.7,591.7 483.0,598.8"/>
<polyline class="c39" points="157.8,490.4 178.2,486.7 198.5,488.8 218.8,485.9 239.1,487.8 259.4,492.5 279.8,516.3 300.1,532.8 320.4,560.7 340.8,566.8 361.1,573.2 381.4,579.7 401.7,580.2 422.1,592.6 442.4,592.2 462.7,595.2 483.0,600.2"/>
<polyline class="c39" points="157.8,490.9 178.2,493.0 198.5,487.6 218.8,487.3 239.1,488.5 259.4,494.0 279.8,515.3 300.1,534.9 320.4,557.8 340.8,562.8 361.1,572.0 381.4,578.9 401.7,582.9 422.1,591.0 442.4,593.2 462.7,599.0 483.0,600.1"/>
<polyline class="c39" points="157.8,493.4 178.2,487.3 198.5,488.4 218.8,490.4 239.1,487.3 259.4,495.3 279.8,521.0 300.1,533.5 320.4,558.9 340.8,568.6 361.1,573.8 381.4,578.5 401.7,587.9 422.1,594.3 442.4,595.5 462.7,598.2 483.0,602.8 503.4,599.5"/>
<polyline class="c40" points="157.8,489.8 178.2,492.8 198.5,487.4 218.8,491.7 239.1,488.2 259.4,494.7 279.8,520.4 300.1,534.0 320.4,561.4 340.8,567.7 361.1,574.1 381.4,582.4 401.7,584.9 422.1,590.7 442.4,595.8 462.7,598.0 483.0,597.2 503.4,603.5"/>
<polyline class="c40" points="157.8,491.7 178.2,493.3 198.5,492.4 218.8,489.0 239.1,493.0 259.4,500.6 279.8,522.3 300.1,537.8 320.4,562.6 340.8,569.0 361.1,577.7 381.4,579.9 401.7,586.8 422.1,596.3 442.4,600.1 462.7,603.2 483.0,602.7"/>
<polyline class="c40" points="157.8,496.5 178.2,490.9 198.5,492.7 218.8,493.1 239.1,486.2 259.4,499.3 279.8,518.1 300.1,536.1 320.4,560.6 340.8,570.4 361.1,578.6 381.4,584.8 401.7,587.0 422.1,592.5 442.4,596.2 462.7,602.4 483.0,603.9 503.4,609.2 523.7,607.0 544.0,614.1"/>
<polyline class="c41" points="157.8,492.1 178.2,490.0 198.5,486.2 218.8,488.5 239.1,486.9 259.4,494.7 279.8,518.0 300.1,529.2 320.4,558.9 340.8,563.1 361.1,570.3 381.4,581.2 401.7,585.9 422.1,589.1 442.4,592.8 462.7,596.8 483.0,598.9"/>
<polyline class="c41" points="157.8,490.9 178.2,491.3 198.5,487.7 218.8,491.8 239.1,489.6 259.4,492.9 279.8,519.4 300.1,531.7 320.4,562.3 340.8,567.1 361.1,577.5 381.4,578.2 401.7,581.0 422.1,592.9 442.4,596.3 462.7,596.5 483.0,599.8"/>
<polyline class="c41" points="157.8,482.8 178.2,489.3 198.5,490.8 218.8,484.5 239.1,486.7 259.4,494.8 279.8,516.3 300.1,534.2 320.4,559.8 340.8,566.0 361.1,569.8 381.4,579.7 401.7,583.0 422.1,595.8 442.4,591.6 462.7,596.6 483.0,595.7 503.4,599.7 523.7,603.0"/>
<polyline class="c41" points="157.8,490.5 178.2,487.2 198.5,485.6 218.8,486.7 239.1,485.6 259.4,492.9 279.8,517.7 300.1,534.2 320.4,559.3 340.8,564.4 361.1,575.2 381.4,575.3 401.7,583.7 422.1,594.2 442.4,592.3 462.7,600.1 483.0,597.5 503.4,596.6"/>
<polyline class="c41" points="157.8,490.1 178.2,486.4 198.5,490.7 218.8,489.9 239.1,488.0 259.4,491.5 279.8,515.5 300.1,538.2 320.4,563.1 340.8,566.6 361.1,575.0 381.4,578.0 401.7,580.5 422.1,590.2 442.4,592.6 462.7,596.1 483.0,599.8"/>
<polyline class="c41" points="157.8,492.2 178.2,492.6 198.5,495.6 218.8,487.6 239.1,490.3 259.4,495.9 279.8,521.2 300.1,540.3 320.4,561.2 340.8,568.3 361.1,577.8 381.4,577.7 401.7,587.5 422.1,595.8 442.4,598.4 462.7,599.3 483.0,600.8 503.4,602.4 523.7,610.4 544.0,611.6"/>
<polyline class="c41" points="157.8,493.0 178.2,489.6 198.5,489.0 218.8,488.4 239.1,486.5 259.4,493.1 279.8,519.3 300.1,536.6 320.4,559.0 340.8,568.9 361.1,576.6 381.4,582.6 401.7,584.7 422.1,591.7 442.4,595.4 462.7,599.9 483.0,598.1"/>
<polyline class="c42" points="157.8,491.8 178.2,492.0 198.5,490.0 218.8,492.7 239.1,487.6 259.4,496.9 279.8,522.4 300.1,538.1 320.4,560.5 340.8,571.9 361.1,580.0 381.4,581.2 401.7,586.9 422.1,592.4 442.4,599.4 462.7,597.7 483.0,597.5"/>
<polyline class="c42" points="157.8,490.7 178.2,492.2 198.5,489.4 218.8,485.5 239.1,486.4 259.4,494.1 279.8,521.7 300.1,533.7 320.4,563.1 340.8,570.1 361.1,576.9 381.4,578.3 401.7,584.5 422.1,596.2 442.4,596.6 462.7,597.1 483.0,600.9"/>
<polyline class="c42" points="157.8,489.6 178.2,490.4 198.5,490.5 218.8,486.4 239.1,488.6 259.4,495.4 279.8,513.6 300.1,535.3 320.4,558.7 340.8,568.5 361.1,575.8 381.4,578.5 401.7,586.0 422.1,591.2 442.4,592.2 462.7,597.6 483.0,599.9"/>
<polyline class="c42" points="157.8,493.0 178.2,488.5 198.5,490.4 218.8,490.2 239.1,487.6 259.4,494.7 279.8,517.5 300.1,539.2 320.4,560.4 340.8,568.3 361.1,576.6 381.4,585.3 401.7,585.1 422.1,594.1 442.4,593.4 462.7,600.7 483.0,602.9"/>
<polyline class="c42" points="157.8,495.3 178.2,488.9 198.5,491.5 218.8,493.4 239.1,490.1 259.4,500.2 279.8,520.3 300.1,537.7 320.4,564.8 340.8,569.4 361.1,577.0 381.4,583.7 401.7,587.6 422.1,595.3 442.4,595.8 462.7,601.4 483.0,598.2"/>
<polyline class="c42" points="157.8,498.4 178.2,498.5 198.5,493.2 218.8,492.5 239.1,494.6 259.4,499.0 279.8,521.2 300.1,543.7 320.4,563.5 340.8,573.9 361.1,579.1 381.4,581.5 401.7,587.4 422.1,597.5 442.4,596.8 462.7,603.4 483.0,604.4"/>
<polyline class="c42" points="157.8,493.6 178.2,493.1 198.5,490.4 218.8,489.5 239.1,490.8 259.4,496.2 279.8,515.5 300.1,533.1 320.4,561.5 340.8,568.4 361.1,574.7 381.4,580.3 401.7,584.2 422.1,594.9 442.4,599.1 462.7,599.4 483.0,600.5"/>
<polyline class="c42" points="157.8,495.4 178.2,491.6 198.5,493.2 218.8,492.2 239.1,492.5 259.4,497.3 279.8,521.8 300.1,545.1 320.4,563.0 340.8,571.6 361.1,576.9 381.4,581.8 401.7,588.1 422.1,596.3 442.4,599.1 462.7,601.5 483.0,605.2"/>
<polyline class="c42" points="157.8,495.3 178.2,493.9 198.5,490.5 218.8,491.7 239.1,489.6 259.4,497.6 279.8,524.3 300.1,537.8 320.4,563.4 340.8,572.0 361.1,577.9 381.4,584.1 401.7,585.3 422.1,596.4 442.4,600.6 462.7,600.4 483.0,598.6"/>
<polyline class="c43" points="157.8,497.9 178.2,491.0 198.5,491.1 218.8,493.1 239.1,487.4 259.4,498.9 279.8,517.4 300.1,535.5 320.4,560.0 340.8,570.4 361.1,576.6 381.4,580.5 401.7,587.2 422.1,594.0 442.4,594.8 462.7,598.1 483.0,600.9"/>
<polyline class="c43" points="157.8,491.2 178.2,489.5 198.5,493.2 218.8,492.0 239.1,487.7 259.4,495.7 279.8,519.7 300.1,538.1 320.4,562.1 340.8,567.4 361.1,579.1 381.4,581.6 401.7,581.4 422.1,595.9 442.4,598.3 462.7,599.1 483.0,601.6"/>
<polyline class="c43" points="157.8,493.3 178.2,491.7 198.5,493.6 218.8,495.0 239.1,490.2 259.4,497.5 279.8,522.0 300.1,535.9 320.4,561.5 340.8,571.0 361.1,578.1 381.4,582.6 401.7,587.5 422.1,594.4 442.4,596.6 462.7,601.4 483.0,601.5 503.4,603.6"/>
<polyline class="c43" points="157.8,488.0 178.2,491.7 198.5,492.2 218.8,490.1 239.1,489.0 259.4,497.7 279.8,517.9 300.1,537.9 320.4,563.4 340.8,567.2 361.1,577.5 381.4,581.0 401.7,586.4 422.1,595.0 442.4,594.4 462.7,596.2 483.0,599.6"/>
<polyline class="c43" points="157.8,490.4 178.2,492.4 198.5,490.3 218.8,490.4 239.1,488.0 259.4,492.5 279.8,523.0 300.1,535.6 320.4,566.2 340.8,568.0 361.1,573.7 381.4,576.3 401.7,585.2 422.1,593.7 442.4,594.4 462.7,600.1 483.0,600.7"/>
<polyline class="c43" points="157.8,490.6 178.2,490.3 198.5,489.8 218.8,489.4 239.1,488.6 259.4,497.0 279.8,521.5 300.1,535.9 320.4,558.5 340.8,570.4 361.1,573.7 381.4,578.8 401.7,584.8 422.1,590.7 442.4,596.0 462.7,597.8 483.0,600.4"/>
<polyline class="c43" points="157.8,494.2 178.2,494.7 198.5,491.3 218.8,492.6 239.1,493.0 259.4,496.4 279.8,521.8 300.1,540.7 320.4,562.7 340.8,573.8 361.1,574.2 381.4,580.5 401.7,589.9 422.1,599.1 442.4,597.9 462.7,597.3 483.0,602.0"/>
<polyline class="c43" points="157.8,493.6 178.2,491.5 198.5,493.6 218.8,492.7 239.1,488.9 259.4,497.3 279.8,520.2 300.1,539.6 320.4,559.8 340.8,568.8 361.1,578.6 381.4,580.3 401.7,589.0 422.1,594.5 442.4,598.7 462.7,599.8 483.0,602.6"/>
<polyline class="c44" points="157.8,491.3 178.2,491.1 198.5,492.9 218.8,489.9 239.1,487.8 259.4,498.6 279.8,515.6 300.1,538.5 320.4,557.3 340.8,568.5 361.1,574.3 381.4,578.7 401.7,585.4 422.1,591.8 442.4,595.3 462.7,598.4 483.0,598.7"/>
<polyline class="c44" points="157.8,490.1 178.2,490.9 198.5,493.0 218.8,488.4 239.1,487.4 259.4,497.3 279.8,518.7 300.1,538.7 320.4,559.4 340.8,568.6 361.1,575.9 381.4,578.7 401.7,583.7 422.1,592.1 442.4,592.9 462.7,595.8 483.0,597.7"/>
<polyline class="c44" points="157.8,497.1 178.2,490.4 198.5,492.9 218.8,496.8 239.1,494.3 259.4,501.1 279.8,522.5 300.1,537.5 320.4,565.1 340.8,572.4 361.1,579.1 381.4,582.8 401.7,585.4 422.1,594.8 442.4,596.4 462.7,599.1 483.0,599.3"/>
<polyline class="c44" points="157.8,497.7 178.2,488.5 198.5,493.0 218.8,493.4 239.1,492.5 259.4,499.3 279.8,521.1 300.1,538.6 320.4,563.7 340.8,569.0 361.1,576.9 381.4,581.2 401.7,588.0 422.1,591.7 442.4,594.2 462.7,597.4 483.0,599.5"/>
<polyline class="c44" points="157.8,490.7 178.2,493.7 198.5,487.9 218.8,488.8 239.1,488.8 259.4,494.3 279.8,521.9 300.1,536.4 320.4,560.5 340.8,571.5 361.1,574.8 381.4,580.1 401.7,585.8 422.1,593.9 442.4,594.9 462.7,596.8 483.0,602.8"/>
<polyline class="c44" points="157.8,488.8 178.2,488.5 198.5,488.6 218.8,490.6 239.1,488.6 259.4,496.6 279.8,516.3 300.1,536.2 320.4,559.7 340.8,568.4 361.1,574.2 381.4,575.0 401.7,584.0 422.1,591.9 442.4,594.2 462.7,601.2 483.0,600.9"/>
<polyline class="c44" points="157.8,487.6 178.2,491.9 198.5,487.0 218.8,489.0 239.1,492.0 259.4,496.7 279.8,518.3 300.1,539.2 320.4,563.0 340.8,569.5 361.1,574.7 381.4,581.6 401.7,587.9 422.1,593.1 442.4,596.7 462.7,597.3 483.0,601.4"/>
<polyline class="c44" points="157.8,491.0 178.2,494.0 198.5,495.0 218.8,495.7 239.1,494.4 259.4,498.0 279.8,523.5 300.1,539.3 320.4,565.1 340.8,572.6 361.1,578.5 381.4,580.5 401.7,589.2 422.1,601.0 442.4,596.5 462.7,601.3 483.0,601.2 503.4,605.0"/>
<polyline class="c44" points="157.8,493.7 178.2,491.7 198.5,488.2 218.8,490.5 239.1,490.9 259.4,498.4 279.8,519.7 300.1,538.7 320.4,565.5 340.8,569.8 361.1,574.9 381.4,582.7 401.7,586.8 422.1,590.9 442.4,596.8 462.7,597.1 483.0,598.2 503.4,601.1"/>
<polyline class="c45" points="157.8,483.1 178.2,484.8 198.5,487.6 218.8,487.6 239.1,483.9 259.4,490.7 279.8,515.1 300.1,535.9 320.4,560.2 340.8,564.8 361.1,571.9 381.4,573.7 401.7,581.9 422.1,588.2 442.4,593.2 462.7,595.0 483.0,595.7"/>
<polyline class="c45" points="157.8,490.3 178.2,492.7 198.5,489.1 218.8,488.4 239.1,488.9 259.4,493.5 279.8,515.9 300.1,538.1 320.4,556.2 340.8,567.1 361.1,570.6 381.4,578.3 401.7,581.7 422.1,596.8 442.4,594.9 462.7,597.4 483.0,601.0"/>
<polyline class="c45" points="157.8,499.2 178.2,495.8 198.5,494.5 218.8,495.0 239.1,492.8 259.4,501.3 279.8,524.8 300.1,545.3 320.4,564.0 340.8,571.7 361.1,578.3 381.4,587.1 401.7,591.8 422.1,595.0 442.4,602.7 462.7,600.6 483.0,606.9"/>
<polyline class="c45" points="157.8,491.6 178.2,490.9 198.5,491.7 218.8,489.8 239.1,490.7 259.4,493.6 279.8,517.8 300.1,537.7 320.4,558.5 340.8,568.8 361.1,575.5 381.4,580.6 401.7,582.4 422.1,594.4 442.4,596.5 462.7,597.5 483.0,596.8"/>
<polyline class="c45" points="157.8,495.8 178.2,492.6 198.5,488.9 218.8,489.8 239.1,492.2 259.4,497.0 279.8,515.9 300.1,540.9 320.4,558.5 340.8,568.3 361.1,575.3 381.4,582.7 401.7,582.7 422.1,593.8 442.4,594.7 462.7,598.6 483.0,602.8"/>
<polyline class="c45" points="157.8,499.2 178.2,495.2 198.5,497.6 218.8,491.7 239.1,496.4 259.4,500.7 279.8,522.2 300.1,539.9 320.4,563.3 340.8,573.7 361.1,581.3 381.4,585.8 401.7,585.4 422.1,598.4 442.4,598.8 462.7,601.7 483.0,603.5"/>
<polyline class="c45" points="157.8,492.9 178.2,491.2 198.5,488.5 218.8,492.0 239.1,489.2 259.4,494.7 279.8,519.5 300.1,538.7 320.4,561.9 340.8,570.6 361.1,575.7 381.4,580.5 401.7,585.8 422.1,592.8 442.4,593.4 462.7,600.2 483.0,599.3"/>
<polyline class="c45" points="157.8,491.7 178.2,490.5 198.5,493.1 218.8,489.2 239.1,488.7 259.4,494.6 279.8,517.5 300.1,537.9 320.4,558.5 340.8,565.4 361.1,573.0 381.4,582.8 401.7,584.6 422.1,592.7 442.4,592.9 462.7,593.9 483.0,600.8"/>
<polyline class="c45" points="157.8,497.7 178.2,495.2 198.5,493.5 218.8,489.6 239.1,494.4 259.4,504.3 279.8,522.7 300.1,542.7 320.4,561.0 340.8,570.4 361.1,579.4 381.4,584.6 401.7,585.3 422.1,596.2 442.4,600.1 462.7,604.9 483.0,601.2"/>
<polyline class="c46" points="157.8,492.0 178.2,493.4 198.5,491.8 218.8,490.1 239.1,491.0 259.4,498.2 279.8,519.6 300.1,539.8 320.4,560.1 340.8,567.7 361.1,573.8 381.4,578.4 401.7,582.9 422.1,592.8 442.4,597.4 462.7,596.2 483.0,602.1 503.4,603.4 523.7,610.2 544.0,610.2"/>
<polyline class="c46" points="157.8,498.1 178.2,487.0 198.5,490.2 218.8,493.3 239.1,492.1 259.4,499.4 279.8,519.7 300.1,541.2 320.4,563.0 340.8,569.5 361.1,580.3 381.4,582.4 401.7,588.9 422.1,595.8 442.4,596.8 462.7,602.6 483.0,602.7"/>
<polyline class="c46" points="157.8,490.3 178.2,489.0 198.5,489.1 218.8,488.9 239.1,490.2 259.4,495.8 279.8,518.9 300.1,537.4 320.4,560.8 340.8,569.2 361.1,574.3 381.4,579.2 401.7,585.7 422.1,594.0 442.4,592.9 462.7,595.7 483.0,599.1"/>
<polyline class="c46" points="157.8,490.8 178.2,490.0 198.5,488.3 218.8,490.0 239.1,485.2 259.4,492.3 279.8,520.5 300.1,541.0 320.4,564.4 340.8,567.8 361.1,575.5 381.4,581.0 401.7,583.0 422.1,593.2 442.4,592.2 462.7,600.0 483.0,599.5"/>
<polyline class="c46" points="157.8,497.2 178.2,493.4 198.5,496.2 218.8,491.2 239.1,493.2 259.4,496.6 279.8,522.5 300.1,540.1 320.4,566.1 340.8,574.6 361.1,577.5 381.4,582.3 401.7,587.2 422.1,594.8 442.4,598.2 462.7,602.0 483.0,607.4"/>
<polyline class="c46" points="157.8,490.5 178.2,490.3 198.5,490.8 218.8,489.4 239.1,489.8 259.4,497.2 279.8,517.4 300.1,537.5 320.4,559.9 340.8,569.5 361.1,575.7 381.4,580.3 401.7,586.8 422.1,588.0 442.4,598.2 462.7,597.2 483.0,598.8 503.4,600.9"/>
<polyline class="c46" points="157.8,492.9 178.2,493.0 198.5,491.9 218.8,491.0 239.1,492.2 259.4,494.7 279.8,521.5 300.1,539.9 320.4,563.5 340.8,568.8 361.1,574.7 381.4,584.8 401.7,590.1 422.1,595.9 442.4,597.0 462.7,602.4 483.0,601.3"/>
<polyline class="c46" points="157.8,492.6 178.2,493.2 198.5,493.7 218.8,494.3 239.1,491.0 259.4,500.7 279.8,521.3 300.1,541.4 320.4,563.5 340.8,570.2 361.1,581.4 381.4,584.3 401.7,591.6 422.1,596.5 442.4,596.8 462.7,597.4 483.0,603.8"/>
<polyline class="c46" points="157.8,500.1 178.2,496.8 198.5,494.1 218.8,493.9 239.1,492.7 259.4,499.5 279.8,523.0 300.1,544.3 320.4,566.0 340.8,573.2 361.1,583.4 381.4,585.1 401.7,589.6 422.1,601.7 442.4,601.6 462.7,603.7 483.0,606.3 503.4,609.2"/>
<polyline class="c47" points="157.8,495.3 178.2,496.5 198.5,493.4 218.8,495.7 239.1,489.5 259.4,497.8 279.8,525.9 300.1,541.7 320.4,561.4 340.8,571.9 361.1,574.1 381.4,579.3 401.7,589.0 422.1,593.8 442.4,595.3 462.7,601.3 483.0,601.7"/>
<polyline class="c47" points="157.8,494.0 178.2,492.4 198.5,495.8 218.8,490.1 239.1,490.7 259.4,502.5 279.8,524.4 300.1,541.8 320.4,562.2 340.8,570.7 361.1,574.5 381.4,586.4 401.7,585.4 422.1,597.3 442.4,598.0 462.7,600.7 483.0,607.1 503.4,602.3"/>
<polyline class="c47" points="157.8,494.3 178.2,494.2 198.5,492.1 218.8,492.6 239.1,490.0 259.4,499.1 279.8,525.7 300.1,541.1 320.4,565.2 340.8,572.8 361.1,575.0 381.4,583.3 401.7,585.1 422.1,595.3 442.4,598.1 462.7,600.7 483.0,603.8"/>
<polyline class="c47" points="157.8,491.3 178.2,492.9 198.5,491.7 218.8,491.4 239.1,491.7 259.4,494.0 279.8,518.9 300.1,537.4 320.4,565.5 340.8,572.3 361.1,580.6 381.4,581.9 401.7,584.9 422.1,593.3 442.4,598.4 462.7,599.0 483.0,601.0"/>
<polyline class="c47" points="157.8,496.6 178.2,489.0 198.5,492.9 218.8,491.3 239.1,491.0 259.4,498.3 279.8,520.0 300.1,538.7 320.4,561.8 340.8,573.0 361.1,579.0 381.4,585.0 401.7,588.0 422.1,595.5 442.4,599.4 462.7,600.0 483.0,603.7"/>
<polyline class="c47" points="157.8,491.8 178.2,494.6 198.5,493.7 218.8,491.9 239.1,491.2 259.4,495.0 279.8,519.7 300.1,537.9 320.4,562.9 340.8,567.0 361.1,574.9 381.4,577.8 401.7,585.5 422.1,593.6 442.4,595.2 462.7,597.6 483.0,599.4"/>
<polyline class="c47" points="157.8,493.7 178.2,495.2 198.5,492.8 218.8,494.3 239.1,492.0 259.4,496.1 279.8,520.6 300.1,539.7 320.4,561.5 340.8,569.3 361.1,575.9 381.4,580.8 401.7,582.6 422.1,592.1 442.4,595.6 462.7,602.4 483.0,601.1"/>
<polyline class="c47" points="157.8,495.4 178.2,496.6 198.5,492.9 218.8,494.8 239.1,489.5 259.4,497.7 279.8,525.5 300.1,543.1 320.4,564.7 340.8,573.6 361.1,576.6 381.4,580.2 401.7,588.6 422.1,593.8 442.4,597.2 462.7,601.9 483.0,602.1"/>
<polyline class="c47" points="157.8,494.9 178.2,495.0 198.5,492.1 218.8,491.3 239.1,490.4 259.4,498.6 279.8,522.0 300.1,539.8 320.4,557.4 340.8,569.3 361.1,577.3 381.4,579.3 401.7,584.5 422.1,593.3 442.4,595.0 462.7,599.2 483.0,602.3"/>
<polyline class="c48" points="157.8,491.6 178.2,491.3 198.5,491.8 218.8,488.7 239.1,492.7 259.4,498.4 279.8,523.4 300.1,539.5 320.4,560.1 340.8,569.3 361.1,576.6 381.4,581.5 401.7,584.6 422.1,594.0 442.4,594.6 462.7,596.8 483.0,601.7"/>
<polyline class="c48" points="157.8,493.3 178.2,488.4 198.5,491.1 218.8,491.5 239.1,487.4 259.4,498.5 279.8,522.8 300.1,539.0 320.4,559.7 340.8,568.3 361.1,577.3 381.4,580.2 401.7,583.6 422.1,590.6 442.4,596.8 462.7,595.2 483.0,602.7"/>
<polyline class="c48" points="157.8,493.2 178.2,494.0 198.5,493.3 218.8,490.6 239.1,493.1 259.4,503.4 279.8,521.7 300.1,541.6 320.4,563.5 340.8,569.5 361.1,575.6 381.4,583.6 401.7,585.6 422.1,593.1 442.4,595.2 462.7,600.4 483.0,599.9"/>
<polyline class="c48" points="157.8,498.1 178.2,493.8 198.5,497.9 218.8,493.1 239.1,490.6 259.4,501.9 279.8,523.7 300.1,539.4 320.4,559.6 340.8,572.4 361.1,575.6 381.4,581.1 401.7,588.1 422.1,598.4 442.4,593.1 462.7,601.4 483.0,604.8"/>
<polyline class="c48" points="157.8,492.4 178.2,493.3 198.5,492.2 218.8,495.8 239.1,489.6 259.4,500.4 279.8,518.7 300.1,542.0 320.4,561.6 340.8,570.0 361.1,576.9 381.4,583.2 401.7,586.0 422.1,596.4 442.4,593.5 462.7,596.3 483.0,603.6"/>
<polyline class="c48" points="157.8,498.1 178.2,497.2 198.5,494.8 218.8,497.8 239.1,495.6 259.4,502.4 279.8,527.3 300.1,545.5 320.4,565.2 340.8,574.6 361.1,579.7 381.4,585.1 401.7,593.5 422.1,599.9 442.4,602.5 462.7,604.7 483.0,605.3"/>
<polyline class="c48" points="157.8,498.2 178.2,498.5 198.5,494.2 218.8,492.1 239.1,494.8 259.4,501.8 279.8,522.2 300.1,547.8 320.4,560.6 340.8,570.4 361.1,584.6 381.4,581.7 401.7,589.1 422.1,595.8 442.4,599.0 462.7,599.1 483.0,599.2"/>
<polyline class="c48" points="157.8,495.4 178.2,500.3 198.5,492.5 218.8,489.5 239.1,494.1 259.4,495.3 279.8,523.5 300.1,540.6 320.4,563.9 340.8,570.1 361.1,579.9 381.4,582.8 401.7,586.7 422.1,593.6 442.4,596.9 462.7,600.2 483.0,602.4 503.4,601.6"/>
<polyline class="c48" points="157.8,496.0 178.2,498.0 198.5,495.7 218.8,496.3 239.1,497.8 259.4,500.7 279.8,524.3 300.1,546.2 320.4,564.8 340.8,573.2 361.1,577.1 381.4,584.9 401.7,588.9 422.1,598.7 442.4,597.1 462.7,604.7 483.0,604.5"/>
<polyline class="c49" points="157.8,495.3 178.2,491.3 198.5,493.6 218.8,495.7 239.1,491.9 259.4,497.9 279.8,522.4 300.1,545.3 320.4,564.1 340.8,569.3 361.1,575.4 381.4,582.7 401.7,585.7 422.1,596.6 442.4,596.7 462.7,597.9 483.0,601.0"/>
<polyline class="c49" points="157.8,498.8 178.2,497.1 198.5,497.2 218.8,492.4 239.1,491.0 259.4,503.8 279.8,526.1 300.1,544.4 320.4,562.9 340.8,575.3 361.1,580.3 381.4,581.4 401.7,588.5 422.1,596.6 442.4,598.6 462.7,601.5 483.0,603.4"/>
<polyline class="c49" points="157.8,496.6 178.2,493.8 198.5,492.3 218.8,493.2 239.1,493.3 259.4,501.1 279.8,524.9 300.1,541.1 320.4,563.2 340.8,570.4 361.1,576.8 381.4,584.0 401.7,588.6 422.1,594.2 442.4,596.8 462.7,602.2 483.0,603.5"/>
<polyline class="c49" points="157.8,495.9 178.2,496.8 198.5,492.6 218.8,495.9 239.1,491.8 259.4,499.5 279.8,523.8 300.1,547.2 320.4,562.9 340.8,573.6 361.1,577.3 381.4,584.7 401.7,590.0 422.1,593.0 442.4,598.1 462.7,602.2 483.0,599.4"/>
<polyline class="c49" points="157.8,498.1 178.2,498.5 198.5,499.5 218.8,497.5 239.1,497.2 259.4,500.4 279.8,526.9 300.1,546.8 320.4,568.2 340.8,572.6 361.1,579.9 381.4,589.1 401.7,592.9 422.1,600.4 442.4,599.5 462.7,600.3 483.0,609.3"/>
<polyline class="c49" points="157.8,499.3 178.2,496.2 198.5,496.6 218.8,495.5 239.1,495.3 259.4,500.2 279.8,522.8 300.1,540.7 320.4,561.1 340.8,571.1 361.1,583.3 381.4,588.1 401.7,589.5 422.1,597.0 442.4,596.1 462.7,601.4 483.0,604.0"/>
<polyline class="c49" points="157.8,499.1 178.2,496.7 198.5,495.2 218.8,495.5 239.1,492.1 259.4,504.8 279.8,526.5 300.1,542.1 320.4,566.8 340.8,574.4 361.1,573.4 381.4,585.0 401.7,590.9 422.1,596.8 442.4,597.7 462.7,603.5 483.0,603.9"/>
<polyline class="c49" points="157.8,493.7 178.2,496.8 198.5,499.6 218.8,488.7 239.1,494.6 259.4,497.1 279.8,521.6 300.1,544.9 320.4,564.2 340.8,570.9 361.1,580.1 381.4,582.5 401.7,586.8 422.1,593.9 442.4,601.7 462.7,601.0 483.0,601.9"/>
<polyline class="c50" points="157.8,497.8 178.2,494.0 198.5,492.2 218.8,490.8 239.1,489.6 259.4,497.5 279.8,525.6 300.1,544.9 320.4,562.4 340.8,570.9 361.1,577.0 381.4,580.6 401.7,585.1 422.1,595.2 442.4,594.7 462.7,596.0 483.0,600.0"/>
<polyline class="c50" points="157.8,497.4 178.2,496.1 198.5,493.6 218.8,496.1 239.1,493.0 259.4,502.4 279.8,523.2 300.1,546.7 320.4,566.2 340.8,575.6 361.1,582.7 381.4,581.9 401.7,590.6 422.1,597.3 442.4,599.1 462.7,600.2 483.0,604.6"/>
<polyline class="c50" points="157.8,503.7 178.2,501.4 198.5,497.3 218.8,495.9 239.1,497.3 259.4,504.8 279.8,524.8 300.1,547.7 320.4,570.6 340.8,574.9 361.1,576.7 381.4,586.8 401.7,590.0 422.1,603.8 442.4,600.5 462.7,604.4 483.0,607.4"/>
<polyline class="c50" points="157.8,495.0 178.2,496.1 198.5,491.0 218.8,493.4 239.1,490.4 259.4,500.7 279.8,521.0 300.1,543.9 320.4,562.0 340.8,570.6 361.1,573.6 381.4,582.8 401.7,583.6 422.1,590.9 442.4,594.8 462.7,596.4 483.0,603.3"/>
<polyline class="c50" points="157.8,496.0 178.2,491.2 198.5,493.6 218.8,494.9 239.1,496.6 259.4,501.1 279.8,523.0 300.1,543.6 320.4,562.8 340.8,571.9 361.1,578.4 381.4,581.5 401.7,592.7 422.1,597.1 442.4,598.4 462.7,598.9 483.0,601.6"/>
<polyline class="c50" points="157.8,493.5 178.2,494.7 198.5,495.9 218.8,494.2 239.1,489.5 259.4,500.6 279.8,524.0 300.1,544.1 320.4,561.8 340.8,567.8 361.1,576.4 381.4,582.9 401.7,585.2 422.1,597.0 442.4,592.3 462.7,601.5 483.0,600.4"/>
<polyline class="c50" points="157.8,500.8 178.2,495.0 198.5,494.3 218.8,489.8 239.1,493.4 259.4,501.1 279.8,526.2 300.1,546.2 320.4,564.0 340.8,569.9 361.1,576.3 381.4,582.7 401.7,588.3 422.1,597.8 442.4,598.1 462.7,599.6 483.0,598.4"/>
<polyline class="c50" points="157.8,496.5 178.2,494.2 198.5,494.6 218.8,496.3 239.1,495.6 259.4,501.4 279.8,520.8 300.1,542.8 320.4,560.2 340.8,571.9 361.1,580.7 381.4,580.9 401.7,588.8 422.1,594.6 442.4,601.4 462.7,600.4"/>
<polyline class="c50" points="157.8,494.5 178.2,498.9 198.5,497.2 218.8,495.5 239.1,493.2 259.4,503.1 279.8,522.4 300.1,541.9 320.4,567.3 340.8,569.4 361.1,579.3 381.4,585.7 401.7,587.8 422.1,592.3 442.4,595.4 462.7,601.9"/>
<polyline class="c51" points="157.8,501.0 178.2,498.9 198.5,494.0 218.8,494.9 239.1,496.1 259.4,501.7 279.8,520.5 300.1,546.0 320.4,562.9 340.8,576.4 361.1,578.7 381.4,586.7 401.7,590.2 422.1,595.1 442.4,598.7 462.7,600.3 483.0,603.8"/>
<polyline class="c51" points="157.8,499.9 178.2,499.6 198.5,497.4 218.8,493.7 239.1,498.3 259.4,502.4 279.8,529.2 300.1,548.2 320.4,568.3 340.8,574.5 361.1,578.9 381.4,587.8 401.7,589.6 422.1,599.9 442.4,602.4 462.7,604.4 483.0,604.3"/>
<polyline class="c51" points="157.8,496.1 178.2,495.3 198.5,493.1 218.8,492.9 239.1,490.0 259.4,500.5 279.8,527.5 300.1,542.6 320.4,560.6 340.8,570.0 361.1,580.1 381.4,581.0 401.7,585.9 422.1,597.3 442.4,599.9 462.7,595.7 483.0,599.7"/>
<polyline class="c51" points="157.8,500.6 178.2,502.9 198.5,497.3 218.8,501.8 239.1,497.2 259.4,503.6 279.8,526.3 300.1,548.5 320.4,569.5 340.8,573.9 361.1,583.2 381.4,589.7 401.7,592.0 422.1,602.6 442.4,603.3 462.7,605.0 483.0,607.8"/>
<polyline class="c51" points="157.8,496.5 178.2,497.8 198.5,496.1 218.8,495.4 239.1,492.1 259.4,498.4 279.8,523.8 300.1,548.0 320.4,566.3 340.8,573.7 361.1,577.1 381.4,582.6 401.7,591.4 422.1,597.2 442.4,598.6 462.7,600.8 483.0,601.4"/>
<polyline class="c51" points="157.8,501.6 178.2,504.2 198.5,498.0 218.8,499.3 239.1,498.4 259.4,505.6 279.8,528.4 300.1,550.3 320.4,567.3 340.8,574.4 361.1,584.3 381.4,586.9 401.7,592.4 422.1,601.8 442.4,604.7 462.7,605.7 483.0,604.8"/>
<polyline class="c51" points="157.8,496.1 178.2,496.4 198.5,493.2 218.8,493.4 239.1,493.2 259.4,496.9 279.8,524.9 300.1,547.6 320.4,565.4 340.8,570.2 361.1,581.1 381.4,583.6 401.7,591.6 422.1,597.5 442.4,597.5 462.7,598.6 483.0,601.9"/>
<polyline class="c51" points="157.8,495.9 178.2,496.5 198.5,495.9 218.8,493.3 239.1,490.9 259.4,497.1 279.8,522.0 300.1,542.0 320.4,566.3 340.8,571.7 361.1,577.9 381.4,581.1 401.7,588.4 422.1,595.9 442.4,596.1 462.7,598.9 483.0,599.1"/>
<polyline class="c51" points="157.8,495.6 178.2,492.9 198.5,492.8 218.8,494.9 239.1,490.4 259.4,502.6 279.8,519.9 300.1,540.1 320.4,563.9 340.8,567.3 361.1,575.6 381.4,582.8 401.7,583.6 422.1,592.2 442.4,595.0 462.7,598.2 483.0,602.2"/>
<polyline class="c52" points="157.8,499.6 178.2,495.2 198.5,495.4 218.8,499.1 239.1,494.3 259.4,499.5 279.8,528.1 300.1,550.4 320.4,564.6 340.8,569.6 361.1,580.0 381.4,584.5 401.7,590.1 422.1,599.6 442.4,600.1 462.7,607.6 483.0,606.1"/>
<polyline class="c52" points="157.8,498.6 178.2,499.4 198.5,495.8 218.8,497.3 239.1,499.0 259.4,500.2 279.8,522.3 300.1,546.2 320.4,565.4 340.8,569.8 361.1,580.2 381.4,580.4 401.7,591.9 422.1,596.8 442.4,601.0 462.7,602.4 483.0,603.4"/>
<polyline class="c52" points="157.8,499.8 178.2,501.9 198.5,497.4 218.8,501.4 239.1,496.0 259.4,503.3 279.8,527.4 300.1,545.7 320.4,571.0 340.8,576.4 361.1,584.6 381.4,587.5 401.7,595.8 422.1,597.9 442.4,603.0 462.7,604.5 483.0,605.4"/>
<polyline class="c52" points="157.8,500.0 178.2,499.1 198.5,498.8 218.8,498.4 239.1,495.6 259.4,501.8 279.8,525.5 300.1,548.5 320.4,568.1 340.8,572.5 361.1,581.6 381.4,581.7 401.7,587.0 422.1,597.1 442.4,596.1 462.7,600.7 483.0,600.8"/>
<polyline class="c52" points="157.8,494.7 178.2,498.0 198.5,495.5 218.8,500.8 239.1,492.6 259.4,501.2 279.8,526.8 300.1,543.3 320.4,564.1 340.8,572.2 361.1,578.1 381.4,586.1 401.7,592.5 422.1,596.3 442.4,597.4 462.7,600.2 483.0,604.6"/>
<polyline class="c52" points="157.8,497.4 178.2,497.6 198.5,498.2 218.8,494.8 239.1,492.6 259.4,497.4 279.8,524.4 300.1,547.7 320.4,566.7 340.8,568.3 361.1,581.9 381.4,582.8 401.7,589.7 422.1,598.6 442.4,594.3 462.7,599.2 483.0,605.3"/>
<polyline class="c52" points="157.8,499.5 178.2,501.4 198.5,497.8 218.8,496.8 239.1,492.5 259.4,504.2 279.8,528.7 300.1,550.2 320.4,566.3 340.8,572.5 361.1,580.1 381.4,587.4 401.7,589.9 422.1,598.7 442.4,598.0 462.7,602.3 483.0,606.6"/>
<polyline class="c52" points="157.8,499.7 178.2,493.0 198.5,497.7 218.8,494.5 239.1,496.8 259.4,502.9 279.8,524.4 300.1,547.8 320.4,564.2 340.8,574.2 361.1,578.2 381.4,587.3 401.7,588.7 422.1,594.8 442.4,604.8 462.7,603.1 483.0,604.2"/>
<polyline class="c52" points="157.8,498.7 178.2,498.8 198.5,496.6 218.8,494.5 239.1,494.0 259.4,502.8 279.8,527.5 300.1,548.1 320.4,568.0 340.8,573.4 361.1,582.5 381.4,588.5 401.7,588.7 422.1,597.2 442.4,600.1 462.7,602.6 483.0,603.9"/>
<polyline class="c53" points="157.8,494.3 178.2,495.4 198.5,494.8 218.8,493.0 239.1,498.1 259.4,500.9 279.8,525.0 300.1,546.9 320.4,567.1 340.8,572.8 361.1,574.5 381.4,586.4 401.7,591.6 422.1,597.7 442.4,597.8 462.7,601.1 483.0,603.0"/>
<polyline class="c53" points="157.8,501.7 178.2,498.8 198.5,496.9 218.8,500.1 239.1,495.6 259.4,504.5 279.8,530.1 300.1,548.0 320.4,566.7 340.8,575.2 361.1,578.6 381.4,582.9 401.7,591.5 422.1,597.6 442.4,598.4 462.7,601.8 483.0,605.5"/>
<polyline class="c53" points="157.8,495.9 178.2,496.1 198.5,493.1 218.8,496.9 239.1,493.2 259.4,498.4 279.8,526.1 300.1,548.2 320.4,562.5 340.8,576.5 361.1,577.3 381.4,583.9 401.7,585.3 422.1,596.4 442.4,597.2 462.7,599.6 483.0,601.9"/>
<polyline class="c53" points="157.8,501.2 178.2,496.2 198.5,495.0 218.8,491.9 239.1,492.3 259.4,497.0 279.8,522.5 300.1,547.1 320.4,564.4 340.8,572.0 361.1,579.7 381.4,585.7 401.7,589.2 422.1,596.5 442.4,595.4 462.7,597.4 483.0,603.8"/>
<polyline class="c53" points="157.8,499.1 178.2,501.9 198.5,497.7 218.8,501.2 239.1,500.9 259.4,504.3 279.8,525.4 300.1,545.8 320.4,570.5 340.8,572.5 361.1,582.1 381.4,586.7 401.7,588.2 422.1,596.5 442.4,602.6 462.7,604.2 483.0,608.4"/>
<polyline class="c53" points="157.8,500.1 178.2,502.7 198.5,495.1 218.8,496.6 239.1,492.9 259.4,504.2 279.8,526.9 300.1,548.4 320.4,568.0 340.8,572.0 361.1,580.8 381.4,585.7 401.7,589.9 422.1,597.3 442.4,599.8 462.7,601.3 483.0,603.9"/>
<polyline class="c53" points="157.8,501.1 178.2,498.7 198.5,495.3 218.8,494.2 239.1,493.3 259.4,501.8 279.8,525.1 300.1,546.2 320.4,567.0 340.8,575.9 361.1,580.5 381.4,586.8 401.7,589.3 422.1,597.9 442.4,598.6 462.7,600.5 483.0,604.6"/>
<polyline class="c53" points="157.8,501.0 178.2,494.2 198.5,498.9 218.8,498.7 239.1,493.1 259.4,501.3 279.8,523.0 300.1,546.2 320.4,565.4 340.8,571.6 361.1,578.6 381.4,585.1 401.7,591.5 422.1,596.0 442.4,599.8 462.7,603.1 483.0,605.9"/>
<polyline class="c53" points="157.8,502.6 178.2,497.7 198.5,500.8 218.8,499.5 239.1,495.4 259.4,502.6 279.8,529.9 300.1,549.5 320.4,571.7 340.8,573.9 361.1,584.1 381.4,582.8 401.7,589.2 422.1,599.8 442.4,601.3 462.7,604.1"/>
<polyline class="c54" points="157.8,496.6 178.2,499.4 198.5,499.9 218.8,496.4 239.1,496.1 259.4,498.6 279.8,525.9 300.1,547.8 320.4,566.5 340.8,573.9 361.1,580.1 381.4,589.8 401.7,592.2 422.1,596.2 442.4,601.2 462.7,600.7 483.0,605.5"/>
<polyline class="c54" points="157.8,500.1 178.2,496.8 198.5,496.8 218.8,494.9 239.1,496.0 259.4,502.6 279.8,528.9 300.1,550.2 320.4,566.7 340.8,570.5 361.1,584.5 381.4,585.7 401.7,591.8 422.1,597.2 442.4,601.7 462.7,601.2 483.0,605.3"/>
<polyline class="c54" points="157.8,499.8 178.2,497.9 198.5,497.3 218.8,497.0 239.1,496.9 259.4,501.5 279.8,525.4 300.1,546.3 320.4,569.6 340.8,573.5 361.1,583.5 381.4,587.7 401.7,589.3 422.1,600.9 442.4,600.2 462.7,601.4 483.0,606.5"/>
<polyline class="c54" points="157.8,497.4 178.2,494.3 198.5,494.3 218.8,494.9 239.1,495.4 259.4,503.7 279.8,524.7 300.1,545.5 320.4,564.9 340.8,574.4 361.1,581.2 381.4,582.3 401.7,588.4 422.1,595.1 442.4,596.6 462.7,598.1 483.0,601.3"/>
<polyline class="c54" points="157.8,497.2 178.2,499.8 198.5,495.0 218.8,490.4 239.1,493.4 259.4,501.7 279.8,520.7 300.1,545.6 320.4,565.6 340.8,572.2 361.1,583.2 381.4,586.8 401.7,588.6 422.1,595.2 442.4,597.3 462.7,601.2 483.0,603.9"/>
<polyline class="c54" points="157.8,496.6 178.2,495.8 198.5,498.8 218.8,492.3 239.1,494.3 259.4,502.1 279.8,524.1 300.1,544.3 320.4,562.1 340.8,570.9 361.1,579.8 381.4,583.0 401.7,588.0 422.1,597.1 442.4,598.2 462.7,599.1 483.0,604.2"/>
<polyline class="c54" points="157.8,494.2 178.2,498.3 198.5,500.2 218.8,496.5 239.1,494.4 259.4,500.9 279.8,527.3 300.1,550.8 320.4,564.6 340.8,573.5 361.1,580.0 381.4,586.7 401.7,590.5 422.1,597.8 442.4,599.5 462.7,600.3 483.0,603.1"/>
<polyline class="c54" points="157.8,501.5 178.2,498.4 198.5,494.5 218.8,492.8 239.1,496.5 259.4,504.7 279.8,522.3 300.1,545.6 320.4,568.1 340.8,575.4 361.1,576.8 381.4,583.7 401.7,590.7 422.1,594.4 442.4,596.4 462.7,600.9 483.0,599.6"/>
<polyline class="c55" points="157.8,498.3 178.2,496.5 198.5,495.4 218.8,497.8 239.1,492.9 259.4,501.8 279.8,526.2 300.1,549.0 320.4,565.3 340.8,572.7 361.1,578.3 381.4,588.1 401.7,590.6 422.1,596.2 442.4,596.5 462.7,597.4 483.0,603.6"/>
<polyline class="c55" points="157.8,501.5 178.2,501.3 198.5,503.1 218.8,502.0 239.1,499.9 259.4,506.0 279.8,530.9 300.1,552.5 320.4,569.3 340.8,575.1 361.1,586.9 381.4,585.8 401.7,596.7 422.1,600.7 442.4,601.0 462.7,602.8 483.0,608.5"/>
<polyline class="c55" points="157.8,500.2 178.2,500.4 198.5,499.7 218.8,499.4 239.1,495.6 259.4,508.6 279.8,530.0 300.1,554.5 320.4,566.9 340.8,575.2 361.1,584.5 381.4,589.1 401.7,589.8 422.1,602.7 442.4,603.6 462.7,601.6 483.0,610.2"/>
<polyline class="c55" points="157.8,501.2 178.2,497.5 198.5,497.5 218.8,496.9 239.1,497.1 259.4,506.6 279.8,524.2 300.1,550.7 320.4,572.3 340.8,575.7 361.1,582.0 381.4,585.0 401.7,591.0 422.1,604.7 442.4,598.2 462.7,604.1 483.0,603.3"/>
<polyline class="c55" points="157.8,500.8 178.2,498.2 198.5,494.6 218.8,498.6 239.1,496.9 259.4,502.3 279.8,526.2 300.1,551.2 320.4,569.1 340.8,575.2 361.1,583.2 381.4,585.0 401.7,591.3 422.1,600.9 442.4,598.2 462.7,604.6 483.0,607.0"/>
<polyline class="c55" points="157.8,501.9 178.2,502.8 198.5,499.5 218.8,501.4 239.1,498.6 259.4,505.3 279.8,530.5 300.1,551.5 320.4,568.9 340.8,576.3 361.1,585.7 381.4,587.8 401.7,597.1 422.1,601.3 442.4,606.1 462.7,603.7 483.0,607.3"/>
<polyline class="c55" points="157.8,508.0 178.2,510.4 198.5,510.7 218.8,513.7 239.1,512.9 259.4,538.4 279.8,559.6 300.1,574.9 320.4,581.4 340.8,589.8 361.1,595.8 381.4,600.0 401.7,604.4 422.1,614.4 442.4,616.1 462.7,616.1 483.0,612.8"/>
<polyline class="c55" points="157.8,503.8 178.2,500.8 198.5,500.8 218.8,496.6 239.1,500.2 259.4,515.1 279.8,535.8 300.1,557.0 320.4,574.1 340.8,578.7 361.1,585.8 381.4,592.4 401.7,591.4 422.1,605.2 442.4,605.9 462.7,609.0 483.0,608.0"/>
<polyline class="c55" points="157.8,506.9 178.2,506.1 198.5,509.7 218.8,506.3 239.1,508.4 259.4,527.8 279.8,549.4 300.1,567.0 320.4,574.8 340.8,583.0 361.1,589.0 381.4,597.6 401.7,597.5 422.1,604.8 442.4,610.4 462.7,608.8"/>
<polyline class="c55" points="157.8,508.3 178.2,509.1 198.5,507.0 218.8,507.3 239.1,507.1 259.4,526.0 279.8,551.7 300.1,568.4 320.4,578.8 340.8,585.7 361.1,587.0 381.4,598.6 401.7,600.1 422.1,605.3 442.4,611.5 462.7,610.7"/>
<polyline class="c55" points="157.8,511.4 178.2,511.3 198.5,511.4 218.8,514.4 239.1,515.9 259.4,543.0 279.8,562.5 300.1,579.5 320.4,584.7 340.8,587.7 361.1,595.9 381.4,601.2 401.7,608.7 422.1,614.9 442.4,619.1 462.7,622.6"/>
<polyline class="c56" points="157.8,504.6 178.2,504.3 198.5,501.4 218.8,502.3 239.1,503.2 259.4,520.3 279.8,542.0 300.1,562.8 320.4,570.6 340.8,580.7 361.1,586.6 381.4,594.8 401.7,598.3 422.1,603.0 442.4,606.9 462.7,611.0 483.0,608.1"/>
<polyline class="c56" points="157.8,504.3 178.2,503.1 198.5,500.3 218.8,503.1 239.1,496.6 259.4,509.2 279.8,532.2 300.1,552.7 320.4,572.1 340.8,575.1 361.1,578.4 381.4,592.1 401.7,591.5 422.1,601.6 442.4,603.3 462.7,605.7 483.0,606.8"/>
<polyline class="c56" points="157.8,512.0 178.2,512.4 198.5,507.5 218.8,509.5 239.1,514.7 259.4,531.0 279.8,553.9 300.1,569.7 320.4,581.0 340.8,583.5 361.1,594.0 381.4,598.1 401.7,602.5 422.1,608.6 442.4,614.9 462.7,614.8 483.0,611.2"/>
<polyline class="c56" points="157.8,514.9 178.2,511.8 198.5,514.2 218.8,512.9 239.1,514.2 259.4,543.9 279.8,559.7 300.1,577.6 320.4,583.1 340.8,590.2 361.1,595.1 381.4,601.0 401.7,604.1 422.1,614.5 442.4,618.1 462.7,618.9 483.0,616.2"/>
<polyline class="c56" points="157.8,505.9 178.2,508.1 198.5,506.7 218.8,507.6 239.1,509.4 259.4,530.0 279.8,551.4 300.1,570.6 320.4,576.5 340.8,583.6 361.1,590.3 381.4,598.8 401.7,594.6 422.1,606.2 442.4,610.1 462.7,614.8 483.0,613.6"/>
<polyline class="c56" points="157.8,512.8 178.2,512.1 198.5,510.8 218.8,513.4 239.1,515.4 259.4,545.6 279.8,561.4 300.1,577.1 320.4,584.4 340.8,587.4 361.1,593.9 381.4,601.4 401.7,600.9 422.1,613.6 442.4,620.0 462.7,621.0"/>
<polyline class="c56" points="157.8,505.1 178.2,505.3 198.5,505.8 218.8,502.7 239.1,503.5 259.4,517.8 279.8,544.0 300.1,561.7 320.4,572.8 340.8,578.6 361.1,585.0 381.4,588.4 401.7,594.2 422.1,604.5 442.4,606.4 462.7,611.6 483.0,609.1"/>
<polyline class="c56" points="157.8,517.8 178.2,512.1 198.5,509.8 218.8,514.8 239.1,513.7 259.4,541.0 279.8,558.8 300.1,575.6 320.4,581.9 340.8,587.4 361.1,592.6 381.4,599.6 401.7,603.0 422.1,615.3 442.4,617.3 462.7,618.8 483.0,613.1"/>
<polyline class="c56" points="157.8,514.5 178.2,513.5 198.5,514.8 218.8,515.2 239.1,514.7 259.4,539.6 279.8,561.0 300.1,580.7 320.4,579.3 340.8,591.0 361.1,592.7 381.4,598.2 401.7,603.8 422.1,611.9 442.4,613.7 462.7,620.5 483.0,616.8"/>
<polyline class="c56" points="157.8,497.1 178.2,501.1 198.5,496.5 218.8,498.3 239.1,497.6 259.4,508.3 279.8,526.9 300.1,552.5 320.4,567.7 340.8,573.4 361.1,583.6 381.4,587.5 401.7,592.1 422.1,595.0 442.4,600.0 462.7,602.6 483.0,606.3"/>
<polyline class="c56" points="157.8,510.9 178.2,513.7 198.5,512.5 218.8,511.1 239.1,516.1 259.4,540.1 279.8,559.8 300.1,580.4 320.4,581.5 340.8,590.0 361.1,595.1 381.4,599.5 401.7,602.7 422.1,614.9 442.4,618.0 462.7,622.2 483.0,613.3"/>
<polyline class="c56" points="157.8,512.3 178.2,512.7 198.5,507.2 218.8,513.2 239.1,514.7 259.4,536.8 279.8,563.0 300.1,576.4 320.4,582.0 340.8,590.4 361.1,595.2 381.4,596.7 401.7,600.7 422.1,614.4 442.4,619.5 462.7,616.2 483.0,615.7"/>
<polyline class="c57" points="157.8,511.1 178.2,514.8 198.5,510.4 218.8,510.0 239.1,508.5 259.4,533.5 279.8,555.2 300.1,570.5 320.4,583.2 340.8,585.4 361.1,592.2 381.4,595.3 401.7,600.2 422.1,611.0 442.4,611.4 462.7,617.3"/>
<polyline class="c57" points="157.8,509.3 178.2,513.5 198.5,511.6 218.8,511.1 239.1,511.5 259.4,536.5 279.8,554.9 300.1,572.8 320.4,581.5 340.8,585.7 361.1,591.3 381.4,600.3 401.7,603.0 422.1,610.4 442.4,616.4 462.7,613.4 483.0,614.1"/>
<polyline class="c57" points="157.8,501.9 178.2,502.2 198.5,501.4 218.8,499.8 239.1,502.2 259.4,509.3 279.8,535.9 300.1,557.8 320.4,569.9 340.8,580.5 361.1,587.0 381.4,588.1 401.7,594.8 422.1,598.5 442.4,608.4 462.7,608.1 483.0,609.1"/>
<polyline class="c57" points="157.8,503.9 178.2,502.8 198.5,505.4 218.8,503.4 239.1,502.1 259.4,516.7 279.8,537.9 300.1,558.7 320.4,573.9 340.8,579.6 361.1,583.9 381.4,588.9 401.7,593.5 422.1,605.6 442.4,605.1 462.7,608.8 483.0,606.5"/>
<polyline class="c57" points="157.8,509.1 178.2,507.2 198.5,508.8 218.8,509.5 239.1,510.7 259.4,528.6 279.8,547.2 300.1,568.0 320.4,574.3 340.8,581.7 361.1,590.2 381.4,594.3 401.7,597.9 422.1,609.6 442.4,611.3 462.7,614.1 483.0,610.6"/>
<polyline class="c57" points="157.8,514.4 178.2,511.6 198.5,513.7 218.8,507.6 239.1,512.2 259.4,539.4 279.8,556.9 300.1,575.0 320.4,580.4 340.8,586.8 361.1,590.5 381.4,598.4 401.7,602.8 422.1,611.3 442.4,617.2 462.7,618.7 483.0,616.8"/>
<polyline class="c57" points="157.8,514.7 178.2,514.7 198.5,509.5 218.8,516.0 239.1,518.1 259.4,540.0 279.8,565.6 300.1,578.5 320.4,583.1 340.8,587.8 361.1,594.0 381.4,602.1 401.7,605.3 422.1,614.4 442.4,615.9 462.7,619.9 483.0,615.0 503.4,618.9"/>
<polyline class="c57" points="157.8,507.1 178.2,503.4 198.5,502.2 218.8,500.9 239.1,501.0 259.4,517.8 279.8,536.0 300.1,556.3 320.4,572.3 340.8,575.9 361.1,587.5 381.4,588.4 401.7,597.1 422.1,602.3 442.4,607.3 462.7,608.8 483.0,606.5"/>
<polyline class="c57" points="157.8,498.5 178.2,501.4 198.5,500.1 218.8,502.7 239.1,498.9 259.4,510.8 279.8,534.4 300.1,557.2 320.4,571.8 340.8,575.5 361.1,584.8 381.4,586.8 401.7,594.7 422.1,602.4 442.4,604.0 462.7,608.5 483.0,606.3"/>
<polyline class="c57" points="157.8,511.9 178.2,511.3 198.5,512.6 218.8,511.2 239.1,517.3 259.4,540.7 279.8,562.0 300.1,577.7 320.4,581.3 340.8,586.7 361.1,593.8 381.4,599.5 401.7,604.0 422.1,613.5 442.4,621.5 462.7,618.1 483.0,613.3"/>
<polyline class="c57" points="157.8,508.0 178.2,502.5 198.5,495.7 218.8,505.2 239.1,501.2 259.4,520.8 279.8,540.6 300.1,561.7 320.4,573.7 340.8,582.8 361.1,588.2 381.4,593.6 401.7,595.0 422.1,603.8 442.4,604.9 462.7,610.1 483.0,608.1"/>
<polyline class="c57" points="157.8,511.0 178.2,513.1 198.5,510.3 218.8,505.9 239.1,509.8 259.4,527.6 279.8,549.4 300.1,566.2 320.4,577.0 340.8,581.4 361.1,591.2 381.4,595.4 401.7,599.5 422.1,606.8 442.4,609.3 462.7,615.9 483.0,608.6"/>
<polyline class="c57" points="157.8,509.9 178.2,508.9 198.5,508.1 218.8,512.5 239.1,509.6 259.4,531.4 279.8,550.4 300.1,571.1 320.4,578.1 340.8,585.0 361.1,593.7 381.4,596.0 401.7,601.1 422.1,609.6 442.4,611.6 462.7,616.8 483.0,612.1"/>
<polyline class="c58" points="157.8,505.1 178.2,502.7 198.5,507.0 218.8,503.0 239.1,504.0 259.4,523.5 279.8,544.5 300.1,568.2 320.4,578.1 340.8,582.8 361.1,588.1 381.4,591.2 401.7,598.5 422.1,605.8 442.4,609.4 462.7,608.9 483.0,611.7"/>
<polyline class="c58" points="157.8,502.1 178.2,499.0 198.5,496.2 218.8,500.9 239.1,498.0 259.4,504.3 279.8,528.5 300.1,551.9 320.4,566.7 340.8,575.7 361.1,578.1 381.4,585.4 401.7,593.9 422.1,595.6 442.4,600.6 462.7,606.5 483.0,607.4"/>
<polyline class="c58" points="157.8,509.1 178.2,503.7 198.5,503.4 218.8,506.0 239.1,504.2 259.4,523.3 279.8,550.1 300.1,565.1 320.4,575.8 340.8,585.9 361.1,588.5 381.4,594.6 401.7,597.2 422.1,606.3 442.4,609.7 462.7,611.0 483.0,610.3"/>
<polyline class="c58" points="157.8,511.5 178.2,511.6 198.5,512.2 218.8,507.1 239.1,511.1 259.4,536.7 279.8,556.5 300.1,574.9 320.4,580.6 340.8,589.7 361.1,594.6 381.4,596.8 401.7,604.6 422.1,611.4 442.4,615.9 462.7,616.7 483.0,611.2"/>
<polyline class="c58" points="157.8,513.8 178.2,508.5 198.5,510.6 218.8,509.5 239.1,514.3 259.4,531.2 279.8,555.9 300.1,575.7 320.4,580.2 340.8,589.2 361.1,592.8 381.4,595.8 401.7,602.2 422.1,610.1 442.4,613.8 462.7,618.8"/>
<polyline class="c58" points="157.8,502.0 178.2,496.2 198.5,497.9 218.8,495.5 239.1,495.4 259.4,506.8 279.8,528.5 300.1,549.2 320.4,566.5 340.8,575.1 361.1,580.1 381.4,584.6 401.7,590.4 422.1,596.9 442.4,598.7 462.7,601.3 483.0,602.7"/>
<polyline class="c58" points="157.8,501.9 178.2,502.8 198.5,499.2 218.8,498.7 239.1,501.6 259.4,515.3 279.8,530.2 300.1,556.0 320.4,571.5 340.8,578.5 361.1,585.1 381.4,586.0 401.7,595.3 422.1,601.5 442.4,601.2 462.7,605.8 483.0,607.5"/>
<polyline class="c58" points="157.8,508.1 178.2,503.7 198.5,504.1 218.8,509.8 239.1,505.6 259.4,525.6 279.8,545.0 300.1,563.9 320.4,576.2 340.8,582.8 361.1,588.7 381.4,594.1 401.7,598.5 422.1,607.1 442.4,608.6 462.7,615.6 483.0,610.9"/>
<polyline class="c58" points="157.8,512.3 178.2,508.3 198.5,507.0 218.8,508.2 239.1,509.7 259.4,527.6 279.8,550.8 300.1,569.1 320.4,577.6 340.8,584.1 361.1,590.9 381.4,596.4 401.7,602.3 422.1,609.8 442.4,612.7 462.7,616.9 483.0,613.7"/>
<polyline class="c58" points="157.8,505.4 178.2,503.7 198.5,501.7 218.8,505.1 239.1,500.7 259.4,520.2 279.8,542.3 300.1,564.1 320.4,575.0 340.8,578.1 361.1,584.4 381.4,591.7 401.7,598.6 422.1,604.0 442.4,607.8 462.7,609.4 483.0,606.5"/>
<polyline class="c58" points="157.8,498.4 178.2,500.0 198.5,500.1 218.8,497.5 239.1,497.0 259.4,505.1 279.8,531.2 300.1,551.5 320.4,570.7 340.8,575.8 361.1,582.4 381.4,584.1 401.7,591.4 422.1,599.5 442.4,597.6 462.7,604.2 483.0,605.7"/>
<polyline class="c58" points="157.8,499.3 178.2,497.4 198.5,498.6 218.8,497.3 239.1,497.1 259.4,504.6 279.8,525.4 300.1,551.0 320.4,569.8 340.8,575.0 361.1,580.1 381.4,585.8 401.7,592.5 422.1,597.2 442.4,602.4 462.7,600.4 483.0,605.7"/>
<polyline class="c58" points="157.8,511.1 178.2,512.9 198.5,508.9 218.8,509.8 239.1,510.5 259.4,541.1 279.8,558.2 300.1,574.2 320.4,578.1 340.8,585.2 361.1,593.7 381.4,596.3 401.7,600.2 422.1,610.0 442.4,616.8 462.7,616.4"/>
<polyline class="c59" points="157.8,514.7 178.2,507.2 198.5,512.1 218.8,509.4 239.1,512.4 259.4,535.0 279.8,557.7 300.1,573.7 320.4,576.3 340.8,588.0 361.1,591.4 381.4,598.6 401.7,602.4 422.1,612.9 442.4,615.0 462.7,622.0 483.0,611.8"/>
<polyline class="c59" points="157.8,508.2 178.2,503.1 198.5,505.7 218.8,504.2 239.1,504.0 259.4,523.8 279.8,547.3 300.1,565.0 320.4,576.1 340.8,580.9 361.1,593.0 381.4,593.3 401.7,598.0 422.1,607.0 442.4,608.7 462.7,611.0 483.0,611.5"/>
<polyline class="c59" points="157.8,513.3 178.2,507.8 198.5,507.6 218.8,507.5 239.1,509.0 259.4,526.7 279.8,550.8 300.1,568.5 320.4,574.7 340.8,584.1 361.1,592.2 381.4,595.3 401.7,597.5 422.1,612.1 442.4,610.2 462.7,611.6 483.0,613.3"/>
<polyline class="c59" points="157.8,513.0 178.2,507.7 198.5,504.1 218.8,507.3 239.1,510.7 259.4,530.3 279.8,551.8 300.1,567.4 320.4,577.5 340.8,584.3 361.1,588.0 381.4,596.6 401.7,601.1 422.1,608.0 442.4,610.8 462.7,611.7 483.0,611.6"/>
<polyline class="c59" points="157.8,506.1 178.2,502.0 198.5,500.7 218.8,498.2 239.1,503.1 259.4,516.7 279.8,536.0 300.1,559.6 320.4,572.5 340.8,578.1 361.1,583.6 381.4,587.8 401.7,595.6 422.1,603.3 442.4,605.0 462.7,608.0 483.0,608.7"/>
<polyline class="c59" points="157.8,498.7 178.2,499.7 198.5,497.8 218.8,500.2 239.1,497.4 259.4,509.5 279.8,532.2 300.1,551.8 320.4,568.7 340.8,575.9 361.1,581.6 381.4,587.7 401.7,591.8 422.1,597.8 442.4,602.2 462.7,604.1 483.0,605.6"/>
<polyline class="c59" points="157.8,510.9 178.2,511.2 198.5,511.8 218.8,507.6 239.1,513.6 259.4,537.5 279.8,557.2 300.1,578.2 320.4,581.3 340.8,587.9 361.1,592.9 381.4,599.4 401.7,605.6 422.1,611.6 442.4,616.5 462.7,617.7 483.0,613.3"/>
<polyline class="c59" points="157.8,509.2 178.2,510.2 198.5,511.5 218.8,508.0 239.1,508.6 259.4,531.6 279.8,555.2 300.1,571.9 320.4,582.1 340.8,582.1 361.1,592.7 381.4,596.4 401.7,598.4 422.1,608.5 442.4,612.6 462.7,615.0"/>
<polyline class="c59" points="157.8,513.0 178.2,508.5 198.5,506.2 218.8,511.9 239.1,506.1 259.4,531.1 279.8,554.0 300.1,574.1 320.4,579.7 340.8,583.1 361.1,589.9 381.4,598.6 401.7,600.4 422.1,609.4 442.4,611.1 462.7,618.7 483.0,610.8"/>
<polyline class="c59" points="157.8,510.7 178.2,511.4 198.5,513.9 218.8,510.5 239.1,514.3 259.4,532.9 279.8,558.3 300.1,573.5 320.4,581.8 340.8,587.0 361.1,593.8 381.4,597.3 401.7,600.9 422.1,611.2 442.4,614.0 462.7,618.0 483.0,614.0"/>
<polyline class="c59" points="157.8,511.4 178.2,505.2 198.5,504.3 218.8,506.0 239.1,503.8 259.4,522.9 279.8,542.9 300.1,564.6 320.4,574.5 340.8,582.1 361.1,588.0 381.4,595.6 401.7,599.8 422.1,603.3 442.4,606.9 462.7,612.4 483.0,609.0"/>
<polyline class="c59" points="157.8,507.5 178.2,506.6 198.5,504.7 218.8,503.4 239.1,504.1 259.4,519.5 279.8,541.3 300.1,562.0 320.4,570.7 340.8,578.7 361.1,586.8 381.4,589.7 401.7,596.3 422.1,606.0 442.4,607.2 462.7,609.8 483.0,607.8"/>
<polyline class="c59" points="157.8,513.1 178.2,511.2 198.5,510.9 218.8,510.7 239.1,513.0 259.4,534.8 279.8,555.4 300.1,576.0 320.4,582.5 340.8,587.8 361.1,592.7 381.4,596.7 401.7,604.2 422.1,612.6 442.4,613.0 462.7,618.7"/>
<polyline class="c60" points="157.8,500.1 178.2,501.1 198.5,500.9 218.8,500.3 239.1,494.2 259.4,504.0 279.8,530.2 300.1,555.1 320.4,571.4 340.8,575.3 361.1,582.0 381.4,585.1 401.7,593.1 422.1,600.3 442.4,600.6 462.7,600.1 483.0,606.1"/>
<polyline class="c60" points="157.8,510.7 178.2,507.1 198.5,510.9 218.8,506.9 239.1,511.0 259.4,531.7 279.8,553.7 300.1,571.0 320.4,577.3 340.8,586.5 361.1,589.2 381.4,597.5 401.7,599.2 422.1,608.7 442.4,614.5 462.7,617.9 483.0,614.1"/>
<polyline class="c60" points="157.8,516.9 178.2,517.6 198.5,514.1 218.8,514.0 239.1,516.1 259.4,542.6 279.8,562.6 300.1,578.5 320.4,582.5 340.8,590.2 361.1,593.0 381.4,599.7 401.7,603.6 422.1,618.6 442.4,617.8 462.7,624.1 483.0,615.6"/>
<polyline class="c60" points="157.8,510.7 178.2,507.3 198.5,507.0 218.8,508.2 239.1,508.1 259.4,522.9 279.8,547.3 300.1,565.3 320.4,574.4 340.8,583.6 361.1,587.8 381.4,595.0 401.7,597.4 422.1,606.9 442.4,610.9 462.7,613.6"/>
<polyline class="c60" points="157.8,511.9 178.2,513.4 198.5,514.9 218.8,512.2 239.1,513.8 259.4,538.4 279.8,560.9 300.1,577.0 320.4,583.0 340.8,586.9 361.1,592.0 381.4,598.7 401.7,603.3 422.1,614.1 442.4,616.8 462.7,620.1 483.0,616.7"/>
<polyline class="c60" points="157.8,507.9 178.2,509.8 198.5,509.0 218.8,506.4 239.1,510.9 259.4,530.7 279.8,553.6 300.1,571.4 320.4,577.0 340.8,584.8 361.1,590.0 381.4,590.4 401.7,601.3 422.1,609.1 442.4,610.3 462.7,612.2 483.0,611.0"/>
<polyline class="c60" points="157.8,514.3 178.2,513.3 198.5,513.5 218.8,511.4 239.1,516.8 259.4,542.9 279.8,561.1 300.1,578.5 320.4,583.1 340.8,588.1 361.1,594.0 381.4,602.1 401.7,603.1 422.1,616.1 442.4,618.4 462.7,616.8 483.0,615.7 503.4,615.0"/>
<polyline class="c60" points="157.8,511.2 178.2,511.7 198.5,507.0 218.8,508.8 239.1,512.7 259.4,533.8 279.8,552.6 300.1,570.9 320.4,576.8 340.8,586.2 361.1,590.6 381.4,598.1 401.7,598.1 422.1,610.5 442.4,617.2 462.7,613.9"/>
<polyline class="c60" points="157.8,506.0 178.2,508.1 198.5,506.4 218.8,503.5 239.1,501.5 259.4,521.6 279.8,543.3 300.1,560.6 320.4,573.6 340.8,582.3 361.1,587.0 381.4,594.1 401.7,594.8 422.1,603.4 442.4,607.8 462.7,607.4 483.0,610.6"/>
<polyline class="c61" points="157.8,505.4 178.2,500.5 198.5,499.6 218.8,500.4 239.1,497.6 259.4,510.4 279.8,531.6 300.1,554.1 320.4,569.5 340.8,574.2 361.1,579.7 381.4,588.8 401.7,592.5 422.1,601.7 442.4,602.8 462.7,605.6"/>
<polyline class="c61" points="157.8,512.6 178.2,514.5 198.5,511.1 218.8,512.2 239.1,513.8 259.4,540.0 279.8,556.8 300.1,575.5 320.4,578.4 340.8,586.5 361.1,594.6 381.4,598.8 401.7,601.2 422.1,612.8 442.4,617.2 462.7,616.9"/>
<polyline class="c61" points="157.8,498.2 178.2,501.3 198.5,502.5 218.8,499.1 239.1,501.3 259.4,508.8 279.8,532.9 300.1,549.3 320.4,571.6 340.8,574.2 361.1,584.2 381.4,587.1 401.7,587.5 422.1,598.6 442.4,600.7 462.7,604.0 483.0,606.9"/>
<polyline class="c61" points="157.8,509.6 178.2,507.3 198.5,506.5 218.8,509.6 239.1,509.5 259.4,527.0 279.8,546.7 300.1,568.1 320.4,574.1 340.8,579.2 361.1,592.0 381.4,594.5 401.7,596.7 422.1,606.4 442.4,610.8 462.7,611.3 483.0,613.2"/>
<polyline class="c61" points="157.8,504.3 178.2,506.0 198.5,502.0 218.8,502.8 239.1,500.0 259.4,515.2 279.8,539.8 300.1,560.4 320.4,570.6 340.8,576.4 361.1,584.6 381.4,590.3 401.7,593.2 422.1,601.8 442.4,606.0 462.7,604.7 483.0,608.5"/>
<polyline class="c61" points="157.8,506.7 178.2,503.7 198.5,505.0 218.8,503.0 239.1,503.7 259.4,521.9 279.8,541.8 300.1,560.0 320.4,571.0 340.8,581.9 361.1,586.5 381.4,590.6 401.7,597.5 422.1,604.3 442.4,606.1 462.7,608.2 483.0,608.0"/>
<polyline class="c61" points="157.8,509.2 178.2,507.8 198.5,506.7 218.8,505.9 239.1,509.1 259.4,524.5 279.8,547.7 300.1,570.2 320.4,580.7 340.8,581.2 361.1,589.3 381.4,598.5 401.7,595.1 422.1,606.9 442.4,612.8 462.7,609.3 483.0,609.7"/>
<polyline class="c61" points="157.8,505.2 178.2,503.4 198.5,501.5 218.8,501.2 239.1,500.4 259.4,513.1 279.8,537.4 300.1,556.8 320.4,572.1 340.8,575.7 361.1,581.9 381.4,593.3 401.7,595.0 422.1,601.7 442.4,603.5 462.7,610.0 483.0,606.8"/>
<polyline class="c62" points="157.8,510.8 178.2,508.6 198.5,509.3 218.8,505.8 239.1,510.7 259.4,536.5 279.8,552.7 300.1,571.9 320.4,581.8 340.8,584.6 361.1,590.8 381.4,592.2 401.7,600.3 422.1,610.4 442.4,611.9 462.7,615.8 483.0,612.6"/>
<polyline class="c62" points="157.8,502.5 178.2,504.0 198.5,498.6 218.8,499.9 239.1,500.5 259.4,517.2 279.8,538.9 300.1,555.8 320.4,573.4 340.8,579.6 361.1,580.7 381.4,590.6 401.7,597.1 422.1,603.9 442.4,603.6 462.7,605.5 483.0,608.0"/>
<polyline class="c62" points="157.8,503.9 178.2,501.3 198.5,500.3 218.8,503.8 239.1,502.2 259.4,513.0 279.8,535.5 300.1,556.0 320.4,574.2 340.8,577.7 361.1,587.5 381.4,590.8 401.7,592.9 422.1,602.0 442.4,601.6 462.7,605.2 483.0,606.0"/>
<polyline class="c62" points="157.8,507.8 178.2,508.0 198.5,506.8 218.8,507.1 239.1,509.2 259.4,528.1 279.8,549.2 300.1,569.3 320.4,574.7 340.8,582.1 361.1,588.7 381.4,595.0 401.7,603.2 422.1,607.9 442.4,611.9 462.7,612.9 483.0,613.0"/>
<polyline class="c62" points="157.8,500.1 178.2,497.1 198.5,496.3 218.8,500.8 239.1,496.8 259.4,505.7 279.8,531.8 300.1,552.1 320.4,568.3 340.8,573.4 361.1,583.1 381.4,583.9 401.7,594.2 422.1,599.8 442.4,600.7 462.7,602.1 483.0,606.4"/>
<polyline class="c62" points="157.8,496.7 178.2,497.2 198.5,498.3 218.8,499.1 239.1,499.9 259.4,506.0 279.8,528.1 300.1,548.8 320.4,569.6 340.8,574.0 361.1,578.7 381.4,586.9 401.7,593.6 422.1,597.0 442.4,598.9 462.7,603.5 483.0,603.3"/>
<polyline class="c62" points="157.8,512.5 178.2,515.9 198.5,512.0 218.8,511.7 239.1,510.6 259.4,539.8 279.8,560.7 300.1,577.7 320.4,581.5 340.8,585.1 361.1,599.0 381.4,599.9 401.7,601.5 422.1,614.2 442.4,619.7 462.7,619.4 483.0,614.3"/>
<polyline class="c62" points="157.8,511.8 178.2,510.3 198.5,511.5 218.8,510.4 239.1,513.5 259.4,540.1 279.8,559.8 300.1,577.2 320.4,581.8 340.8,587.3 361.1,592.5 381.4,599.3 401.7,602.9 422.1,610.8 442.4,618.7 462.7,616.8 483.0,615.7"/>
<polyline class="c63" points="157.8,515.4 178.2,512.3 198.5,512.9 218.8,512.8 239.1,515.2 259.4,540.0 279.8,560.5 300.1,577.0 320.4,579.6 340.8,589.8 361.1,596.9 381.4,602.4 401.7,602.0 422.1,611.8 442.4,617.0 462.7,619.5"/>
<polyline class="c61" points="157.8,516.3 178.2,512.9 198.5,511.3 218.8,509.1 239.1,513.3 259.4,539.8 279.8,561.3 300.1,578.4 320.4,583.5 340.8,586.6 361.1,591.1 381.4,601.9 401.7,603.6 422.1,614.6 442.4,616.6 462.7,617.4 483.0,612.5"/>
<polyline class="c61" points="157.8,510.0 178.2,505.4 198.5,505.6 218.8,508.4 239.1,508.5 259.4,527.1 279.8,548.0 300.1,572.5 320.4,574.2 340.8,583.8 361.1,590.2 381.4,593.6 401.7,600.9 422.1,605.3 442.4,612.4 462.7,610.2 483.0,608.6"/>
<polyline class="c62" points="157.8,511.4 178.2,511.8 198.5,510.5 218.8,510.9 239.1,512.2 259.4,540.4 279.8,559.9 300.1,574.7 320.4,583.6 340.8,590.0 361.1,594.8 381.4,600.5 401.7,602.4 422.1,614.5 442.4,617.5 462.7,620.5 483.0,615.1"/>
<polyline class="c62" points="157.8,502.9 178.2,504.3 198.5,502.1 218.8,504.7 239.1,502.8 259.4,515.2 279.8,535.5 300.1,561.2 320.4,571.8 340.8,581.7 361.1,587.2 381.4,589.5 401.7,595.5 422.1,601.5 442.4,605.1 462.7,606.4 483.0,604.8 503.4,611.6"/>
<polyline class="c62" points="157.8,515.2 178.2,517.1 198.5,511.0 218.8,514.1 239.1,512.2 259.4,537.8 279.8,562.5 300.1,576.9 320.4,581.1 340.8,585.4 361.1,595.3 381.4,600.5 401.7,605.0 422.1,612.9 442.4,614.9 462.7,619.3 483.0,614.0 503.4,615.3"/>
<polyline class="c62" points="157.8,513.5 178.2,512.4 198.5,513.5 218.8,511.3 239.1,513.6 259.4,540.3 279.8,562.4 300.1,578.5 320.4,583.5 340.8,587.1 361.1,594.4 381.4,602.0 401.7,601.7 422.1,613.7 442.4,616.5 462.7,618.8 483.0,612.4"/>
<polyline class="c62" points="157.8,510.1 178.2,504.3 198.5,504.4 218.8,505.0 239.1,503.2 259.4,520.0 279.8,543.6 300.1,558.4 320.4,570.7 340.8,579.8 361.1,589.8 381.4,592.1 401.7,597.2 422.1,606.0 442.4,608.4 462.7,611.8 483.0,609.9 503.4,612.1"/>
<polyline class="c62" points="157.8,501.5 178.2,502.4 198.5,500.9 218.8,498.6 239.1,494.8 259.4,511.1 279.8,531.7 300.1,553.7 320.4,570.8 340.8,575.3 361.1,578.4 381.4,589.3 401.7,591.1 422.1,600.6 442.4,601.3 462.7,603.0 483.0,604.8"/>
<polyline class="c62" points="157.8,508.4 178.2,509.2 198.5,511.2 218.8,505.0 239.1,509.8 259.4,529.8 279.8,549.6 300.1,567.7 320.4,579.5 340.8,582.4 361.1,589.9 381.4,598.6 401.7,599.8 422.1,608.5 442.4,614.2 462.7,613.3 483.0,613.7"/>
<polyline class="c62" points="157.8,513.4 178.2,512.5 198.5,512.0 218.8,510.9 239.1,516.4 259.4,536.0 279.8,555.0 300.1,575.4 320.4,580.9 340.8,585.4 361.1,594.6 381.4,597.9 401.7,602.6 422.1,612.6 442.4,613.3 462.7,614.7 483.0,616.4"/>
<polyline class="c62" points="157.8,503.9 178.2,502.3 198.5,506.5 218.8,500.5 239.1,504.2 259.4,518.9 279.8,543.4 300.1,562.4 320.4,570.4 340.8,581.7 361.1,585.3 381.4,589.5 401.7,594.1 422.1,604.5 442.4,606.0 462.7,608.1 483.0,609.9"/>
<polyline class="c62" points="157.8,501.1 178.2,502.8 198.5,500.2 218.8,504.3 239.1,499.2 259.4,514.2 279.8,533.0 300.1,555.1 320.4,572.8 340.8,580.0 361.1,582.8 381.4,584.6 401.7,595.4 422.1,599.9 442.4,601.8 462.7,606.4 483.0,608.5"/>
<polyline class="c62" points="157.8,511.5 178.2,508.0 198.5,507.0 218.8,507.3 239.1,506.8 259.4,526.3 279.8,549.9 300.1,571.7 320.4,578.5 340.8,579.4 361.1,589.4 381.4,593.6 401.7,598.8 422.1,605.8 442.4,612.8 462.7,612.6 483.0,608.8 503.4,612.6"/>
<polyline class="c62" points="157.8,499.4 178.2,500.6 198.5,498.5 218.8,500.2 239.1,500.1 259.4,508.7 279.8,533.0 300.1,554.3 320.4,570.3 340.8,577.8 361.1,580.5 381.4,587.0 401.7,594.9 422.1,602.0 442.4,600.0 462.7,603.6 483.0,602.9"/>
<polyline class="c62" points="157.8,502.8 178.2,502.3 198.5,504.5 218.8,499.7 239.1,500.8 259.4,517.2 279.8,539.2 300.1,558.8 320.4,574.4 340.8,580.4 361.1,584.4 381.4,588.4 401.7,594.1 422.1,603.9 442.4,608.3 462.7,608.4 483.0,608.7"/>
<polyline class="c62" points="157.8,508.4 178.2,506.7 198.5,507.7 218.8,507.6 239.1,507.0 259.4,529.6 279.8,549.8 300.1,569.0 320.4,575.6 340.8,583.6 361.1,587.6 381.4,597.2 401.7,597.7 422.1,608.0 442.4,611.1 462.7,613.3 483.0,611.7 503.4,615.9"/>
<polyline class="c62" points="157.8,499.9 178.2,499.1 198.5,504.5 218.8,503.7 239.1,500.3 259.4,509.4 279.8,533.0 300.1,554.9 320.4,571.5 340.8,577.9 361.1,583.2 381.4,587.7 401.7,592.2 422.1,601.7 442.4,602.1 462.7,605.3 483.0,601.4"/>
<polyline class="c62" points="157.8,515.2 178.2,512.8 198.5,515.0 218.8,514.3 239.1,512.4 259.4,541.8 279.8,566.2 300.1,580.9 320.4,582.4 340.8,592.3 361.1,594.5 381.4,601.5 401.7,606.5 422.1,616.5 442.4,615.7 462.7,616.7 483.0,618.5 503.4,617.3"/>
<polyline class="c62" points="157.8,507.1 178.2,509.7 198.5,508.6 218.8,506.1 239.1,508.0 259.4,527.2 279.8,547.0 300.1,563.8 320.4,574.7 340.8,583.2 361.1,590.1 381.4,593.3 401.7,596.5 422.1,605.8 442.4,610.3 462.7,610.9 483.0,612.1 503.4,612.8"/>
<polyline class="c62" points="157.8,510.2 178.2,510.3 198.5,508.8 218.8,507.5 239.1,511.5 259.4,532.2 279.8,552.5 300.1,569.5 320.4,577.3 340.8,585.8 361.1,590.2 381.4,597.9 401.7,600.0 422.1,610.5 442.4,612.5 462.7,611.0 483.0,613.1"/>
<polyline class="c62" points="157.8,510.7 178.2,508.9 198.5,509.8 218.8,507.7 239.1,508.9 259.4,527.8 279.8,549.6 300.1,566.8 320.4,577.2 340.8,583.3 361.1,587.6 381.4,595.6 401.7,598.7 422.1,607.0 442.4,610.8 462.7,612.8 483.0,610.8"/>
<polyline class="c62" points="157.8,515.7 178.2,511.8 198.5,512.4 218.8,511.4 239.1,516.3 259.4,544.1 279.8,557.6 300.1,576.8 320.4,585.4 340.8,588.8 361.1,597.8 381.4,600.7 401.7,603.6 422.1,614.7 442.4,617.5 462.7,618.3 483.0,616.5"/>
<polyline class="c62" points="157.8,511.6 178.2,511.2 198.5,513.8 218.8,511.5 239.1,513.0 259.4,540.3 279.8,562.3 300.1,577.6 320.4,581.8 340.8,587.9 361.1,590.9 381.4,602.2 401.7,600.9 422.1,613.6 442.4,618.5 462.7,618.5 483.0,614.4 503.4,616.4"/>
<polyline class="c62" points="157.8,510.0 178.2,510.7 198.5,510.2 218.8,510.8 239.1,512.2 259.4,532.4 279.8,552.9 300.1,574.5 320.4,580.0 340.8,585.7 361.1,592.1 381.4,595.1 401.7,601.0 422.1,614.8 442.4,615.0 462.7,615.4 483.0,611.8"/>
<polyline class="c62" points="157.8,511.6 178.2,512.3 198.5,509.6 218.8,509.9 239.1,510.3 259.4,538.2 279.8,557.9 300.1,578.0 320.4,577.6 340.8,587.4 361.1,595.5 381.4,598.3 401.7,603.4 422.1,610.7 442.4,616.3 462.7,621.4 483.0,614.3 503.4,615.1"/>
<polyline class="c63" points="157.8,508.0 178.2,505.1 198.5,508.2 218.8,505.3 239.1,506.0 259.4,524.0 279.8,545.8 300.1,565.4 320.4,575.1 340.8,580.1 361.1,587.1 381.4,593.4 401.7,599.7 422.1,607.4 442.4,609.2 462.7,610.9 483.0,608.8"/>
<polyline class="c63" points="157.8,512.7 178.2,514.3 198.5,511.9 218.8,511.0 239.1,514.1 259.4,538.2 279.8,559.4 300.1,577.6 320.4,580.0 340.8,587.9 361.1,593.5 381.4,596.6 401.7,601.7 422.1,615.3 442.4,615.2 462.7,617.1 483.0,617.0"/>
<polyline class="c63" points="157.8,515.8 178.2,513.7 198.5,509.1 218.8,510.1 239.1,514.2 259.4,537.5 279.8,561.4 300.1,573.7 320.4,579.6 340.8,587.2 361.1,593.4 381.4,598.3 401.7,605.2 422.1,610.1 442.4,615.6 462.7,618.0 483.0,610.7"/>
<polyline class="c63" points="157.8,510.4 178.2,509.8 198.5,506.4 218.8,506.9 239.1,507.8 259.4,533.6 279.8,551.0 300.1,569.9 320.4,577.5 340.8,586.6 361.1,591.5 381.4,596.2 401.7,600.0 422.1,608.9 442.4,613.1 462.7,615.4 483.0,614.2 503.4,613.9"/>
<polyline class="c63" points="157.8,508.1 178.2,505.8 198.5,501.9 218.8,504.2 239.1,505.1 259.4,520.0 279.8,544.8 300.1,563.0 320.4,576.0 340.8,581.9 361.1,589.0 381.4,590.9 401.7,596.8 422.1,604.6 442.4,607.9 462.7,609.5 483.0,609.3"/>
<polyline class="c63" points="157.8,508.5 178.2,502.1 198.5,501.7 218.8,503.0 239.1,503.1 259.4,515.1 279.8,537.0 300.1,560.1 320.4,574.2 340.8,579.4 361.1,585.1 381.4,591.9 401.7,598.0 422.1,603.3 442.4,607.6 462.7,606.9 483.0,610.2 503.4,611.9"/>
<polyline class="c63" points="157.8,508.4 178.2,509.9 198.5,510.5 218.8,506.4 239.1,504.4 259.4,530.4 279.8,549.0 300.1,570.4 320.4,575.3 340.8,589.6 361.1,591.9 381.4,593.7 401.7,602.8 422.1,605.7 442.4,612.1 462.7,613.9 483.0,612.0"/>
<polyline class="c63" points="157.8,508.8 178.2,507.3 198.5,505.5 218.8,504.6 239.1,508.0 259.4,529.2 279.8,549.3 300.1,567.3 320.4,579.1 340.8,582.6 361.1,591.9 381.4,596.2 401.7,596.6 422.1,607.3 442.4,610.0 462.7,612.0 483.0,608.6"/>
<polyline class="c63" points="157.8,514.3 178.2,514.0 198.5,515.3 218.8,513.9 239.1,512.8 259.4,541.0 279.8,561.0 300.1,578.9 320.4,586.7 340.8,589.6 361.1,593.1 381.4,602.2 401.7,603.2 422.1,612.6 442.4,617.1 462.7,618.2 483.0,613.5 503.4,617.6"/>
<polyline class="c63" points="157.8,510.7 178.2,510.0 198.5,506.8 218.8,507.3 239.1,507.5 259.4,526.2 279.8,548.7 300.1,569.1 320.4,577.5 340.8,587.5 361.1,592.5 381.4,597.4 401.7,599.1 422.1,609.4 442.4,613.3 462.7,611.7 483.0,609.8 503.4,610.5"/>
<polyline class="c63" points="157.8,503.3 178.2,500.1 198.5,497.4 218.8,498.8 239.1,497.0 259.4,508.8 279.8,530.5 300.1,556.2 320.4,569.7 340.8,575.9 361.1,587.4 381.4,586.4 401.7,589.7 422.1,599.3 442.4,601.4 462.7,604.8 483.0,606.1 503.4,608.3"/>
</g>
<path class="ax" d="M137.50 56.50H950.50V309.50H137.50ZM239.50 309.50v-8.50M239.50 56.50v8.50M340.50 309.50v-8.50M340.50 56.50v8.50M442.50 309.50v-8.50M442.50 56.50v8.50M544.50 309.50v-8.50M544.50 56.50v8.50M645.50 309.50v-8.50M645.50 56.50v8.50M747.50 309.50v-8.50M747.50 56.50v8.50M848.50 309.50v-8.50M848.50 56.50v8.50M137.50 258.50h8.50M950.50 258.50h-8.50M137.50 208.50h8.50M950.50 208.50h-8.50M137.50 157.50h8.50M950.50 157.50h-8.50M137.50 107.50h8.50M950.50 107.50h-8.50"/>
<text class="tk" text-anchor="middle" x="136.60" y="336.70">0</text>
<text class="tk" text-anchor="middle" x="238.22" y="336.70">5</text>
<text class="tk" text-anchor="middle" x="339.85" y="336.70">10</text>
<text class="tk" text-anchor="middle" x="441.48" y="336.70">15</text>
<text class="tk" text-anchor="middle" x="543.10" y="336.70">20</text>
<text class="tk" text-anchor="middle" x="644.73" y="336.70">25</text>
<text class="tk" text-anchor="middle" x="746.35" y="336.70">30</text>
<text class="tk" text-anchor="middle" x="847.98" y="336.70">35</text>
<text class="tk" text-anchor="middle" x="949.60" y="336.70">40</text>
<text class="tk" text-anchor="end" x="128.70" y="316.70">13</text>
<text class="tk" text-anchor="end" x="128.70" y="266.10">13.2</text>
<text class="tk" text-anchor="end" x="128.70" y="215.50">13.4</text>
<text class="tk" text-anchor="end" x="128.70" y="164.90">13.6</text>
<text class="tk" text-anchor="end" x="128.70" y="114.30">13.8</text>
<text class="tk" text-anchor="end" x="128.70" y="63.70">14</text>
<text class="lb" text-anchor="middle" x="544.00" y="365.50">Ascent Pump #</text>
<text class="tt" text-anchor="middle" x="544.00" y="47.50">9134: Ascent Pump Voltages</text>
<text class="lb" text-anchor="middle" style="letter-spacing:0.7px" transform="translate(77.00 182.65) rotate(-90)">Volts</text>
<path class="ax" d="M137.50 412.50H950.50V665.50H137.50ZM239.50 665.50v-8.50M239.50 412.50v8.50M340.50 665.50v-8.50M340.50 412.50v8.50M442.50 665.50v-8.50M442.50 412.50v8.50M544.50 665.50v-8.50M544.50 412.50v8.50M645.50 665.50v-8.50M645.50 412.50v8.50M747.50 665.50v-8.50M747.50 412.50v8.50M848.50 665.50v-8.50M848.50 412.50v8.50M137.50 614.50h8.50M950.50 614.50h-8.50M137.50 564.50h8.50M950.50 564.50h-8.50M137.50 513.50h8.50M950.50 513.50h-8.50M137.50 463.50h8.50M950.50 463.50h-8.50"/>
<text class="tk" text-anchor="middle" x="136.60" y="692.70">0</text>
<text class="tk" text-anchor="middle" x="238.22" y="692.70">5</text>
<text class="tk" text-anchor="middle" x="339.85" y="692.70">10</text>
<text class="tk" text-anchor="middle" x="441.48" y="692.70">15</text>
<text class="tk" text-anchor="middle" x="543.10" y="692.70">20</text>
<text class="tk" text-anchor="middle" x="644.73" y="692.70">25</text>
<text class="tk" text-anchor="middle" x="746.35" y="692.70">30</text>
<text class="tk" text-anchor="middle" x="847.98" y="692.70">35</text>
<text class="tk" text-anchor="middle" x="949.60" y="692.70">40</text>
<text class="tk" text-anchor="end" x="128.70" y="672.70">0.1</text>
<text class="tk" text-anchor="end" x="128.70" y="622.10">0.15</text>
<text class="tk" text-anchor="end" x="128.70" y="571.50">0.2</text>
<text class="tk" text-anchor="end" x="128.70" y="520.90">0.25</text>
<text class="tk" text-anchor="end" x="128.70" y="470.30">0.3</text>
<text class="tk" text-anchor="end" x="128.70" y="419.70">0.35</text>
<text class="lb" text-anchor="middle" x="544.00" y="721.50">Ascent Pump #</text>
<text class="tt" text-anchor="middle" x="544.00" y="403.50">9134: Ascent Pump Currents</text>
<text class="lb" text-anchor="middle" style="letter-spacing:0.3px" transform="translate(77.00 538.85) rotate(-90)">Amps</text>
<text x="42" y="742" style="font-size:17.1px;fill:#000">WHOI ALAMO:12-May-2020</text>
</svg></body></html>
